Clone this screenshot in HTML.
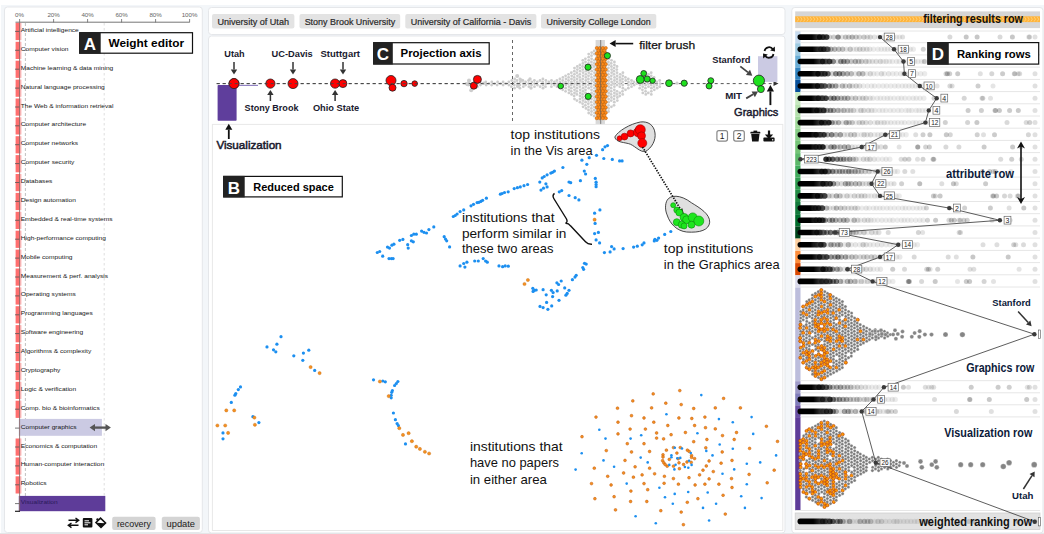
<!DOCTYPE html>
<html><head><meta charset="utf-8"><style>
html,body{margin:0;padding:0;background:#fff;}
body{width:1044px;height:534px;overflow:hidden;}
svg{display:block;font-family:"Liberation Sans", sans-serif;}
</style></head><body>
<svg width="1044" height="534" viewBox="0 0 1044 534">
<defs><linearGradient id="fade" x1="0" x2="1" y1="0" y2="0"><stop offset="0" stop-color="#000"/><stop offset="0.45" stop-color="#000"/><stop offset="1" stop-color="#000" stop-opacity="0.45"/></linearGradient><filter id="bl" x="-5%" y="-50%" width="110%" height="200%"><feGaussianBlur stdDeviation="0.75"/></filter></defs>
<rect x="0" y="0" width="1044" height="534" fill="#ffffff" />
<rect x="1" y="5" width="1043" height="529" fill="#f3f6f9" />
<rect x="4.5" y="7" width="197.8" height="525.5" fill="#fff" stroke="#e5e7ea" stroke-width="1" rx="3" />
<rect x="208.5" y="7.5" width="576.5" height="27" fill="#fff" stroke="#e5e7ea" stroke-width="1" rx="3" />
<rect x="208.5" y="36" width="576.5" height="497" fill="#fff" stroke="#e5e7ea" stroke-width="1" rx="3" />
<rect x="791.8" y="7.5" width="251.2" height="525.5" fill="#fff" stroke="#e5e7ea" stroke-width="1" rx="3" />
<rect x="0" y="533" width="1044" height="1" fill="#e4e6e8" />
<text x="19.6" y="17.2" font-size="6.2" fill="#666" text-anchor="middle" >0%</text>
<line x1="19.6" y1="19" x2="19.6" y2="22.4" stroke="#666" stroke-width="0.8" />
<text x="53.6" y="17.2" font-size="6.2" fill="#666" text-anchor="middle" >20%</text>
<line x1="53.6" y1="19" x2="53.6" y2="22.4" stroke="#666" stroke-width="0.8" />
<text x="87.6" y="17.2" font-size="6.2" fill="#666" text-anchor="middle" >40%</text>
<line x1="87.6" y1="19" x2="87.6" y2="22.4" stroke="#666" stroke-width="0.8" />
<text x="121.6" y="17.2" font-size="6.2" fill="#666" text-anchor="middle" >60%</text>
<line x1="121.6" y1="19" x2="121.6" y2="22.4" stroke="#666" stroke-width="0.8" />
<text x="155.6" y="17.2" font-size="6.2" fill="#666" text-anchor="middle" >80%</text>
<line x1="155.6" y1="19" x2="155.6" y2="22.4" stroke="#666" stroke-width="0.8" />
<text x="189.6" y="17.2" font-size="6.2" fill="#666" text-anchor="middle" >100%</text>
<line x1="189.6" y1="19" x2="189.6" y2="22.4" stroke="#666" stroke-width="0.8" />
<line x1="15.5" y1="22.2" x2="189.6" y2="22.2" stroke="#666" stroke-width="0.9" />
<line x1="25.4" y1="23" x2="25.4" y2="511" stroke="#b0b0b0" stroke-width="0.8" stroke-dasharray="3,2"/>
<line x1="104.2" y1="23" x2="104.2" y2="511" stroke="#d6d6d6" stroke-width="0.8" stroke-dasharray="2.5,2.5"/>
<rect x="15.6" y="22.9" width="4.6" height="17.2" fill="#ff6f6f" />
<rect x="20.2" y="22.9" width="1.2" height="17.2" fill="#ffb0b0" />
<line x1="15" y1="31.4" x2="20" y2="31.4" stroke="#555" stroke-width="0.8" />
<text x="20.8" y="31.9" font-size="6.2" fill="#161616" textLength="58" lengthAdjust="spacingAndGlyphs" >Artificial intelligence</text>
<rect x="15.6" y="41.8" width="4.6" height="17.2" fill="#ff6f6f" />
<rect x="20.2" y="41.8" width="1.2" height="17.2" fill="#ffb0b0" />
<line x1="15" y1="50.3" x2="20" y2="50.3" stroke="#555" stroke-width="0.8" />
<text x="20.8" y="50.8" font-size="6.2" fill="#161616" textLength="47.7" lengthAdjust="spacingAndGlyphs" >Computer vision</text>
<rect x="15.6" y="60.7" width="4.6" height="17.2" fill="#ff6f6f" />
<rect x="20.2" y="60.7" width="1.2" height="17.2" fill="#ffb0b0" />
<line x1="15" y1="69.2" x2="20" y2="69.2" stroke="#555" stroke-width="0.8" />
<text x="20.8" y="69.7" font-size="6.2" fill="#161616" textLength="92.5" lengthAdjust="spacingAndGlyphs" >Machine learning &amp; data mining</text>
<rect x="15.6" y="79.6" width="4.6" height="17.2" fill="#ff6f6f" />
<rect x="20.2" y="79.6" width="1.2" height="17.2" fill="#ffb0b0" />
<line x1="15" y1="88.1" x2="20" y2="88.1" stroke="#555" stroke-width="0.8" />
<text x="20.8" y="88.6" font-size="6.2" fill="#161616" textLength="84" lengthAdjust="spacingAndGlyphs" >Natural language processing</text>
<rect x="15.6" y="98.5" width="4.6" height="17.2" fill="#ff6f6f" />
<rect x="20.2" y="98.5" width="1.2" height="17.2" fill="#ffb0b0" />
<line x1="15" y1="107" x2="20" y2="107" stroke="#555" stroke-width="0.8" />
<text x="20.8" y="107.5" font-size="6.2" fill="#161616" textLength="92.7" lengthAdjust="spacingAndGlyphs" >The Web &amp; information retrieval</text>
<rect x="15.6" y="117.3" width="4.6" height="17.2" fill="#ff6f6f" />
<rect x="20.2" y="117.3" width="1.2" height="17.2" fill="#ffb0b0" />
<line x1="15" y1="125.8" x2="20" y2="125.8" stroke="#555" stroke-width="0.8" />
<text x="20.8" y="126.3" font-size="6.2" fill="#161616" textLength="65.3" lengthAdjust="spacingAndGlyphs" >Computer architecture</text>
<rect x="15.6" y="136.2" width="4.6" height="17.2" fill="#ff6f6f" />
<rect x="20.2" y="136.2" width="1.2" height="17.2" fill="#ffb0b0" />
<line x1="15" y1="144.7" x2="20" y2="144.7" stroke="#555" stroke-width="0.8" />
<text x="20.8" y="145.2" font-size="6.2" fill="#161616" textLength="57.2" lengthAdjust="spacingAndGlyphs" >Computer networks</text>
<rect x="15.6" y="155.1" width="4.6" height="17.2" fill="#ff6f6f" />
<rect x="20.2" y="155.1" width="1.2" height="17.2" fill="#ffb0b0" />
<line x1="15" y1="163.6" x2="20" y2="163.6" stroke="#555" stroke-width="0.8" />
<text x="20.8" y="164.1" font-size="6.2" fill="#161616" textLength="53.6" lengthAdjust="spacingAndGlyphs" >Computer security</text>
<rect x="15.6" y="174" width="4.6" height="17.2" fill="#ff6f6f" />
<rect x="20.2" y="174" width="1.2" height="17.2" fill="#ffb0b0" />
<line x1="15" y1="182.5" x2="20" y2="182.5" stroke="#555" stroke-width="0.8" />
<text x="20.8" y="183" font-size="6.2" fill="#161616" textLength="31.6" lengthAdjust="spacingAndGlyphs" >Databases</text>
<rect x="15.6" y="192.9" width="4.6" height="17.2" fill="#ff6f6f" />
<rect x="20.2" y="192.9" width="1.2" height="17.2" fill="#ffb0b0" />
<line x1="15" y1="201.4" x2="20" y2="201.4" stroke="#555" stroke-width="0.8" />
<text x="20.8" y="201.9" font-size="6.2" fill="#161616" textLength="55" lengthAdjust="spacingAndGlyphs" >Design automation</text>
<rect x="15.6" y="211.8" width="4.6" height="17.2" fill="#ff6f6f" />
<rect x="20.2" y="211.8" width="1.2" height="17.2" fill="#ffb0b0" />
<line x1="15" y1="220.3" x2="20" y2="220.3" stroke="#555" stroke-width="0.8" />
<text x="20.8" y="220.8" font-size="6.2" fill="#161616" textLength="91.7" lengthAdjust="spacingAndGlyphs" >Embedded &amp; real-time systems</text>
<rect x="15.6" y="230.7" width="4.6" height="17.2" fill="#ff6f6f" />
<rect x="20.2" y="230.7" width="1.2" height="17.2" fill="#ffb0b0" />
<line x1="15" y1="239.2" x2="20" y2="239.2" stroke="#555" stroke-width="0.8" />
<text x="20.8" y="239.7" font-size="6.2" fill="#161616" textLength="85.1" lengthAdjust="spacingAndGlyphs" >High-performance computing</text>
<rect x="15.6" y="249.6" width="4.6" height="17.2" fill="#ff6f6f" />
<rect x="20.2" y="249.6" width="1.2" height="17.2" fill="#ffb0b0" />
<line x1="15" y1="258.1" x2="20" y2="258.1" stroke="#555" stroke-width="0.8" />
<text x="20.8" y="258.6" font-size="6.2" fill="#161616" textLength="51.7" lengthAdjust="spacingAndGlyphs" >Mobile computing</text>
<rect x="15.6" y="268.5" width="4.6" height="17.2" fill="#ff6f6f" />
<rect x="20.2" y="268.5" width="1.2" height="17.2" fill="#ffb0b0" />
<line x1="15" y1="277" x2="20" y2="277" stroke="#555" stroke-width="0.8" />
<text x="20.8" y="277.5" font-size="6.2" fill="#161616" textLength="87.3" lengthAdjust="spacingAndGlyphs" >Measurement &amp; perf. analysis</text>
<rect x="15.6" y="287.4" width="4.6" height="17.2" fill="#ff6f6f" />
<rect x="20.2" y="287.4" width="1.2" height="17.2" fill="#ffb0b0" />
<line x1="15" y1="295.9" x2="20" y2="295.9" stroke="#555" stroke-width="0.8" />
<text x="20.8" y="296.4" font-size="6.2" fill="#161616" textLength="55" lengthAdjust="spacingAndGlyphs" >Operating systems</text>
<rect x="15.6" y="306.2" width="4.6" height="17.2" fill="#ff6f6f" />
<rect x="20.2" y="306.2" width="1.2" height="17.2" fill="#ffb0b0" />
<line x1="15" y1="314.8" x2="20" y2="314.8" stroke="#555" stroke-width="0.8" />
<text x="20.8" y="315.2" font-size="6.2" fill="#161616" textLength="71.9" lengthAdjust="spacingAndGlyphs" >Programming languages</text>
<rect x="15.6" y="325.1" width="4.6" height="17.2" fill="#ff6f6f" />
<rect x="20.2" y="325.1" width="1.2" height="17.2" fill="#ffb0b0" />
<line x1="15" y1="333.6" x2="20" y2="333.6" stroke="#555" stroke-width="0.8" />
<text x="20.8" y="334.1" font-size="6.2" fill="#161616" textLength="62.4" lengthAdjust="spacingAndGlyphs" >Software engineering</text>
<rect x="15.6" y="344" width="4.6" height="17.2" fill="#ff6f6f" />
<rect x="20.2" y="344" width="1.2" height="17.2" fill="#ffb0b0" />
<line x1="15" y1="352.5" x2="20" y2="352.5" stroke="#555" stroke-width="0.8" />
<text x="20.8" y="353" font-size="6.2" fill="#161616" textLength="70.4" lengthAdjust="spacingAndGlyphs" >Algorithms &amp; complexity</text>
<rect x="15.6" y="362.9" width="4.6" height="17.2" fill="#ff6f6f" />
<rect x="20.2" y="362.9" width="1.2" height="17.2" fill="#ffb0b0" />
<line x1="15" y1="371.4" x2="20" y2="371.4" stroke="#555" stroke-width="0.8" />
<text x="20.8" y="371.9" font-size="6.2" fill="#161616" textLength="39.6" lengthAdjust="spacingAndGlyphs" >Cryptography</text>
<rect x="15.6" y="381.8" width="4.6" height="17.2" fill="#ff6f6f" />
<rect x="20.2" y="381.8" width="1.2" height="17.2" fill="#ffb0b0" />
<line x1="15" y1="390.3" x2="20" y2="390.3" stroke="#555" stroke-width="0.8" />
<text x="20.8" y="390.8" font-size="6.2" fill="#161616" textLength="55.4" lengthAdjust="spacingAndGlyphs" >Logic &amp; verification</text>
<rect x="15.6" y="400.7" width="4.6" height="17.2" fill="#ff6f6f" />
<rect x="20.2" y="400.7" width="1.2" height="17.2" fill="#ffb0b0" />
<line x1="15" y1="409.2" x2="20" y2="409.2" stroke="#555" stroke-width="0.8" />
<text x="20.8" y="409.7" font-size="6.2" fill="#161616" textLength="78.9" lengthAdjust="spacingAndGlyphs" >Comp. bio &amp; bioinformatics</text>
<rect x="18.8" y="418.9" width="83.1" height="16.9" fill="#cbcae3" />
<line x1="15" y1="428.1" x2="20" y2="428.1" stroke="#555" stroke-width="0.8" />
<text x="20.8" y="428.6" font-size="6.2" fill="#161616" textLength="55.8" lengthAdjust="spacingAndGlyphs" >Computer graphics</text>
<rect x="15.6" y="438.5" width="4.6" height="17.2" fill="#ff6f6f" />
<rect x="20.2" y="438.5" width="1.2" height="17.2" fill="#ffb0b0" />
<line x1="15" y1="447" x2="20" y2="447" stroke="#555" stroke-width="0.8" />
<text x="20.8" y="447.5" font-size="6.2" fill="#161616" textLength="76.3" lengthAdjust="spacingAndGlyphs" >Economics &amp; computation</text>
<rect x="15.6" y="457.4" width="4.6" height="17.2" fill="#ff6f6f" />
<rect x="20.2" y="457.4" width="1.2" height="17.2" fill="#ffb0b0" />
<line x1="15" y1="465.9" x2="20" y2="465.9" stroke="#555" stroke-width="0.8" />
<text x="20.8" y="466.4" font-size="6.2" fill="#161616" textLength="83.3" lengthAdjust="spacingAndGlyphs" >Human-computer interaction</text>
<rect x="15.6" y="476.3" width="4.6" height="17.2" fill="#ff6f6f" />
<rect x="20.2" y="476.3" width="1.2" height="17.2" fill="#ffb0b0" />
<line x1="15" y1="484.8" x2="20" y2="484.8" stroke="#555" stroke-width="0.8" />
<text x="20.8" y="485.3" font-size="6.2" fill="#161616" textLength="25.7" lengthAdjust="spacingAndGlyphs" >Robotics</text>
<rect x="18.8" y="495.9" width="86.5" height="15.3" fill="#5e3c99" />
<line x1="15" y1="503.6" x2="20" y2="503.6" stroke="#555" stroke-width="0.8" />
<text x="20.8" y="504.1" font-size="6.2" fill="#2a1a5a" textLength="36.9" lengthAdjust="spacingAndGlyphs" >Visualization</text>
<line x1="19.6" y1="22.2" x2="19.6" y2="511.2" stroke="#8a6a6a" stroke-width="0.9" />
<line x1="15" y1="511.3" x2="20" y2="511.3" stroke="#222" stroke-width="1.2" />
<line x1="93" y1="427.6" x2="107.5" y2="427.6" stroke="#555" stroke-width="2.3" />
<polygon points="89.6,427.6 95,424 95,431.2" fill="#555"/>
<polygon points="110.9,427.6 105.5,424 105.5,431.2" fill="#555"/>
<path d="M68.5,520.3 L78.5,520.3 M75.5,518 L78.7,520.3 L75.5,522.6 M78.5,525.3 L68.5,525.3 M71.5,523 L68.3,525.3 L71.5,527.6" fill="none" stroke="#111" stroke-width="1.4" />
<rect x="82.8" y="518" width="9.6" height="9.4" fill="#111" rx="1" />
<rect x="84.5" y="520.3" width="4.5" height="1" fill="#fff" />
<rect x="84.5" y="522.3" width="6" height="1" fill="#fff" />
<rect x="84.5" y="524.3" width="3.5" height="1" fill="#fff" />
<path d="M96,522.5 L100.5,518.2 L105.5,523 L101,527.3 Z" fill="#fff" stroke="#111" stroke-width="1.6" />
<path d="M96.5,522.8 L105,523.2 L101,527 Z" fill="#111" stroke="none" stroke-width="0" />
<circle cx="97.5" cy="519.5" r="1.2" fill="#111"/>
<rect x="112.2" y="516.7" width="43.4" height="13.4" fill="#d4d4d4" rx="2" />
<text x="133.9" y="526.6" font-size="8.6" fill="#1a1a1a" text-anchor="middle" textLength="34" lengthAdjust="spacingAndGlyphs" >recovery</text>
<rect x="161.8" y="516.7" width="38.1" height="13.4" fill="#d4d4d4" rx="2" />
<text x="180.8" y="526.6" font-size="8.6" fill="#1a1a1a" text-anchor="middle" textLength="28.5" lengthAdjust="spacingAndGlyphs" >update</text>
<rect x="79.7" y="32.7" width="112.8" height="20.5" fill="#fff" stroke="#111" stroke-width="1.2" />
<rect x="79.2" y="32.2" width="21.5" height="21.5" fill="#222" />
<text x="90" y="50.3" font-size="17" fill="#fff" font-weight="bold" text-anchor="middle" >A</text>
<text x="108.5" y="47.3" font-size="11.5" fill="#000" font-weight="bold" textLength="75.5" lengthAdjust="spacingAndGlyphs" >Weight editor</text>
<rect x="212" y="14" width="82.4" height="14.6" fill="#e3e3e3" rx="2" />
<text x="253.2" y="24.5" font-size="9" fill="#2a2a2a" text-anchor="middle" textLength="71.6" lengthAdjust="spacingAndGlyphs" stroke="#2a2a2a" stroke-width="0.2">University of Utah</text>
<rect x="299.5" y="14" width="100.7" height="14.6" fill="#e3e3e3" rx="2" />
<text x="349.9" y="24.5" font-size="9" fill="#2a2a2a" text-anchor="middle" textLength="90.5" lengthAdjust="spacingAndGlyphs" stroke="#2a2a2a" stroke-width="0.2">Stony Brook University</text>
<rect x="405.3" y="14" width="131.1" height="14.6" fill="#e3e3e3" rx="2" />
<text x="470.9" y="24.5" font-size="9" fill="#2a2a2a" text-anchor="middle" textLength="120.5" lengthAdjust="spacingAndGlyphs" stroke="#2a2a2a" stroke-width="0.2">University of California - Davis</text>
<rect x="541" y="14" width="115.3" height="14.6" fill="#e3e3e3" rx="2" />
<text x="598.6" y="24.5" font-size="9" fill="#2a2a2a" text-anchor="middle" textLength="104" lengthAdjust="spacingAndGlyphs" stroke="#2a2a2a" stroke-width="0.2">University College London</text>
<line x1="216.7" y1="83.6" x2="774" y2="83.6" stroke="#444" stroke-width="0.9" stroke-dasharray="3,3"/>
<polygon points="778.5,83.6 773.5,81.19999999999999 773.5,86.0" fill="#333"/>
<line x1="512.5" y1="40" x2="512.5" y2="124" stroke="#555" stroke-width="0.9" stroke-dasharray="3,3"/>
<circle cx="466" cy="83.6" r="1.4" fill="#cdcdcd"/>
<circle cx="468.9" cy="82" r="1.4" fill="#cdcdcd"/>
<circle cx="468.6" cy="85.1" r="1.4" fill="#cdcdcd"/>
<circle cx="471.9" cy="83.6" r="1.4" fill="#cdcdcd"/>
<circle cx="474.4" cy="82" r="1.4" fill="#cdcdcd"/>
<circle cx="477.6" cy="80.5" r="1.4" fill="#cdcdcd"/>
<circle cx="477.5" cy="83.6" r="1.4" fill="#cdcdcd"/>
<circle cx="477.5" cy="86.7" r="1.4" fill="#cdcdcd"/>
<circle cx="480.3" cy="82" r="1.4" fill="#cdcdcd"/>
<circle cx="480.4" cy="85.1" r="1.4" fill="#cdcdcd"/>
<circle cx="483.3" cy="83.6" r="1.4" fill="#cdcdcd"/>
<circle cx="485.8" cy="82" r="1.4" fill="#cdcdcd"/>
<circle cx="486.2" cy="85.1" r="1.4" fill="#cdcdcd"/>
<circle cx="488.9" cy="83.6" r="1.4" fill="#cdcdcd"/>
<circle cx="491.8" cy="82" r="1.4" fill="#cdcdcd"/>
<circle cx="491.6" cy="85.1" r="1.4" fill="#cdcdcd"/>
<circle cx="494.5" cy="83.6" r="1.4" fill="#cdcdcd"/>
<circle cx="497.6" cy="82" r="1.4" fill="#cdcdcd"/>
<circle cx="497.1" cy="85.1" r="1.4" fill="#cdcdcd"/>
<circle cx="500.5" cy="83.6" r="1.4" fill="#cdcdcd"/>
<circle cx="503.1" cy="82" r="1.4" fill="#cdcdcd"/>
<circle cx="503.1" cy="85.1" r="1.4" fill="#cdcdcd"/>
<circle cx="505.8" cy="83.6" r="1.4" fill="#cdcdcd"/>
<circle cx="508.8" cy="82" r="1.4" fill="#cdcdcd"/>
<circle cx="508.9" cy="85.1" r="1.4" fill="#cdcdcd"/>
<circle cx="511.8" cy="80.5" r="1.4" fill="#cdcdcd"/>
<circle cx="511.4" cy="86.7" r="1.4" fill="#cdcdcd"/>
<circle cx="514.7" cy="78.9" r="1.4" fill="#cdcdcd"/>
<circle cx="514.5" cy="82" r="1.4" fill="#cdcdcd"/>
<circle cx="514.3" cy="85.1" r="1.4" fill="#cdcdcd"/>
<circle cx="514.5" cy="88.2" r="1.4" fill="#cdcdcd"/>
<circle cx="517" cy="80.5" r="1.4" fill="#cdcdcd"/>
<circle cx="517.6" cy="83.6" r="1.4" fill="#cdcdcd"/>
<circle cx="517.5" cy="86.7" r="1.4" fill="#cdcdcd"/>
<circle cx="519.9" cy="78.9" r="1.4" fill="#cdcdcd"/>
<circle cx="520.3" cy="82" r="1.4" fill="#cdcdcd"/>
<circle cx="519.9" cy="85.1" r="1.4" fill="#cdcdcd"/>
<circle cx="519.9" cy="88.2" r="1.4" fill="#cdcdcd"/>
<circle cx="522.9" cy="80.5" r="1.4" fill="#cdcdcd"/>
<circle cx="523.3" cy="83.6" r="1.4" fill="#cdcdcd"/>
<circle cx="523.3" cy="86.7" r="1.4" fill="#cdcdcd"/>
<circle cx="525.6" cy="82" r="1.4" fill="#cdcdcd"/>
<circle cx="525.6" cy="85.1" r="1.4" fill="#cdcdcd"/>
<circle cx="528.6" cy="80.5" r="1.4" fill="#cdcdcd"/>
<circle cx="528.5" cy="83.6" r="1.4" fill="#cdcdcd"/>
<circle cx="528.9" cy="86.7" r="1.4" fill="#cdcdcd"/>
<circle cx="531.8" cy="82" r="1.4" fill="#cdcdcd"/>
<circle cx="531.5" cy="85.1" r="1.4" fill="#cdcdcd"/>
<circle cx="534.4" cy="80.5" r="1.4" fill="#cdcdcd"/>
<circle cx="534.5" cy="83.6" r="1.4" fill="#cdcdcd"/>
<circle cx="534.5" cy="86.7" r="1.4" fill="#cdcdcd"/>
<circle cx="537.3" cy="82" r="1.4" fill="#cdcdcd"/>
<circle cx="537.4" cy="85.1" r="1.4" fill="#cdcdcd"/>
<circle cx="540" cy="80.5" r="1.4" fill="#cdcdcd"/>
<circle cx="540.1" cy="86.7" r="1.4" fill="#cdcdcd"/>
<circle cx="542.9" cy="78.9" r="1.4" fill="#cdcdcd"/>
<circle cx="542.7" cy="82" r="1.4" fill="#cdcdcd"/>
<circle cx="543" cy="85.1" r="1.4" fill="#cdcdcd"/>
<circle cx="543" cy="88.2" r="1.4" fill="#cdcdcd"/>
<circle cx="545.9" cy="80.5" r="1.4" fill="#cdcdcd"/>
<circle cx="545.9" cy="83.6" r="1.4" fill="#cdcdcd"/>
<circle cx="545.5" cy="86.7" r="1.4" fill="#cdcdcd"/>
<circle cx="548.8" cy="82" r="1.4" fill="#cdcdcd"/>
<circle cx="551.5" cy="80.5" r="1.4" fill="#cdcdcd"/>
<circle cx="551.4" cy="83.6" r="1.4" fill="#cdcdcd"/>
<circle cx="551.4" cy="86.7" r="1.4" fill="#cdcdcd"/>
<circle cx="554.4" cy="82" r="1.4" fill="#cdcdcd"/>
<circle cx="554.3" cy="85.1" r="1.4" fill="#cdcdcd"/>
<circle cx="556.9" cy="80.5" r="1.4" fill="#cdcdcd"/>
<circle cx="557.3" cy="83.6" r="1.4" fill="#cdcdcd"/>
<circle cx="557" cy="86.7" r="1.4" fill="#cdcdcd"/>
<circle cx="559.9" cy="78.9" r="1.4" fill="#cdcdcd"/>
<circle cx="560" cy="82" r="1.4" fill="#cdcdcd"/>
<circle cx="559.8" cy="85.1" r="1.4" fill="#cdcdcd"/>
<circle cx="560" cy="88.2" r="1.4" fill="#cdcdcd"/>
<circle cx="562.9" cy="77.4" r="1.4" fill="#cdcdcd"/>
<circle cx="562.7" cy="80.5" r="1.4" fill="#cdcdcd"/>
<circle cx="563" cy="83.6" r="1.4" fill="#cdcdcd"/>
<circle cx="562.9" cy="86.7" r="1.4" fill="#cdcdcd"/>
<circle cx="562.7" cy="89.8" r="1.4" fill="#cdcdcd"/>
<circle cx="565.6" cy="75.8" r="1.4" fill="#cdcdcd"/>
<circle cx="566" cy="78.9" r="1.4" fill="#cdcdcd"/>
<circle cx="565.6" cy="82" r="1.4" fill="#cdcdcd"/>
<circle cx="565.8" cy="85.1" r="1.4" fill="#cdcdcd"/>
<circle cx="565.7" cy="88.2" r="1.4" fill="#cdcdcd"/>
<circle cx="565.6" cy="91.3" r="1.4" fill="#cdcdcd"/>
<circle cx="568.5" cy="74.3" r="1.4" fill="#cdcdcd"/>
<circle cx="568.6" cy="77.4" r="1.4" fill="#cdcdcd"/>
<circle cx="568.5" cy="80.5" r="1.4" fill="#cdcdcd"/>
<circle cx="568.4" cy="83.6" r="1.4" fill="#cdcdcd"/>
<circle cx="568.9" cy="86.7" r="1.4" fill="#cdcdcd"/>
<circle cx="568.9" cy="89.8" r="1.4" fill="#cdcdcd"/>
<circle cx="568.9" cy="92.9" r="1.4" fill="#cdcdcd"/>
<circle cx="571.3" cy="72.7" r="1.4" fill="#cdcdcd"/>
<circle cx="571.7" cy="75.8" r="1.4" fill="#cdcdcd"/>
<circle cx="571.5" cy="78.9" r="1.4" fill="#cdcdcd"/>
<circle cx="571.4" cy="82" r="1.4" fill="#cdcdcd"/>
<circle cx="571.2" cy="85.1" r="1.4" fill="#cdcdcd"/>
<circle cx="571.3" cy="88.2" r="1.4" fill="#cdcdcd"/>
<circle cx="571.2" cy="91.3" r="1.4" fill="#cdcdcd"/>
<circle cx="571.6" cy="94.4" r="1.4" fill="#cdcdcd"/>
<circle cx="574.5" cy="68.1" r="1.4" fill="#cdcdcd"/>
<circle cx="574.3" cy="71.2" r="1.4" fill="#cdcdcd"/>
<circle cx="574.4" cy="74.3" r="1.4" fill="#cdcdcd"/>
<circle cx="574.2" cy="77.4" r="1.4" fill="#cdcdcd"/>
<circle cx="574.3" cy="80.5" r="1.4" fill="#cdcdcd"/>
<circle cx="574.6" cy="83.6" r="1.4" fill="#cdcdcd"/>
<circle cx="574.2" cy="86.7" r="1.4" fill="#cdcdcd"/>
<circle cx="574.5" cy="89.8" r="1.4" fill="#cdcdcd"/>
<circle cx="574.5" cy="92.9" r="1.4" fill="#cdcdcd"/>
<circle cx="574.1" cy="96" r="1.4" fill="#cdcdcd"/>
<circle cx="574.5" cy="99.1" r="1.4" fill="#cdcdcd"/>
<circle cx="577.3" cy="66.5" r="1.4" fill="#cdcdcd"/>
<circle cx="577.3" cy="69.6" r="1.4" fill="#cdcdcd"/>
<circle cx="576.9" cy="72.7" r="1.4" fill="#cdcdcd"/>
<circle cx="577.4" cy="75.8" r="1.4" fill="#cdcdcd"/>
<circle cx="577" cy="78.9" r="1.4" fill="#cdcdcd"/>
<circle cx="577.2" cy="82" r="1.4" fill="#cdcdcd"/>
<circle cx="577.1" cy="85.1" r="1.4" fill="#cdcdcd"/>
<circle cx="576.9" cy="88.2" r="1.4" fill="#cdcdcd"/>
<circle cx="576.9" cy="91.3" r="1.4" fill="#cdcdcd"/>
<circle cx="576.9" cy="94.4" r="1.4" fill="#cdcdcd"/>
<circle cx="576.9" cy="100.6" r="1.4" fill="#cdcdcd"/>
<circle cx="579.9" cy="65" r="1.4" fill="#cdcdcd"/>
<circle cx="579.9" cy="68.1" r="1.4" fill="#cdcdcd"/>
<circle cx="580.1" cy="71.2" r="1.4" fill="#cdcdcd"/>
<circle cx="579.8" cy="74.3" r="1.4" fill="#cdcdcd"/>
<circle cx="579.8" cy="77.4" r="1.4" fill="#cdcdcd"/>
<circle cx="580.1" cy="80.5" r="1.4" fill="#cdcdcd"/>
<circle cx="579.7" cy="83.6" r="1.4" fill="#cdcdcd"/>
<circle cx="579.9" cy="86.7" r="1.4" fill="#cdcdcd"/>
<circle cx="580.2" cy="89.8" r="1.4" fill="#cdcdcd"/>
<circle cx="580.2" cy="92.9" r="1.4" fill="#cdcdcd"/>
<circle cx="580" cy="96" r="1.4" fill="#cdcdcd"/>
<circle cx="580" cy="99.1" r="1.4" fill="#cdcdcd"/>
<circle cx="580" cy="102.2" r="1.4" fill="#cdcdcd"/>
<circle cx="582.8" cy="60.3" r="1.4" fill="#cdcdcd"/>
<circle cx="582.9" cy="63.4" r="1.4" fill="#cdcdcd"/>
<circle cx="582.6" cy="66.5" r="1.4" fill="#cdcdcd"/>
<circle cx="582.8" cy="69.6" r="1.4" fill="#cdcdcd"/>
<circle cx="583.1" cy="72.7" r="1.4" fill="#cdcdcd"/>
<circle cx="583.1" cy="75.8" r="1.4" fill="#cdcdcd"/>
<circle cx="582.7" cy="78.9" r="1.4" fill="#cdcdcd"/>
<circle cx="582.6" cy="82" r="1.4" fill="#cdcdcd"/>
<circle cx="582.9" cy="85.1" r="1.4" fill="#cdcdcd"/>
<circle cx="583" cy="88.2" r="1.4" fill="#cdcdcd"/>
<circle cx="583" cy="91.3" r="1.4" fill="#cdcdcd"/>
<circle cx="582.6" cy="94.4" r="1.4" fill="#cdcdcd"/>
<circle cx="582.6" cy="97.5" r="1.4" fill="#cdcdcd"/>
<circle cx="583" cy="100.6" r="1.4" fill="#cdcdcd"/>
<circle cx="582.6" cy="103.7" r="1.4" fill="#cdcdcd"/>
<circle cx="583.1" cy="106.8" r="1.4" fill="#cdcdcd"/>
<circle cx="585.4" cy="58.8" r="1.4" fill="#cdcdcd"/>
<circle cx="585.5" cy="61.9" r="1.4" fill="#cdcdcd"/>
<circle cx="585.8" cy="65" r="1.4" fill="#cdcdcd"/>
<circle cx="586" cy="68.1" r="1.4" fill="#cdcdcd"/>
<circle cx="585.9" cy="71.2" r="1.4" fill="#cdcdcd"/>
<circle cx="585.9" cy="74.3" r="1.4" fill="#cdcdcd"/>
<circle cx="585.8" cy="77.4" r="1.4" fill="#cdcdcd"/>
<circle cx="585.8" cy="80.5" r="1.4" fill="#cdcdcd"/>
<circle cx="585.4" cy="83.6" r="1.4" fill="#cdcdcd"/>
<circle cx="585.7" cy="86.7" r="1.4" fill="#cdcdcd"/>
<circle cx="585.5" cy="89.8" r="1.4" fill="#cdcdcd"/>
<circle cx="585.5" cy="92.9" r="1.4" fill="#cdcdcd"/>
<circle cx="585.9" cy="96" r="1.4" fill="#cdcdcd"/>
<circle cx="585.6" cy="99.1" r="1.4" fill="#cdcdcd"/>
<circle cx="585.6" cy="102.2" r="1.4" fill="#cdcdcd"/>
<circle cx="585.4" cy="105.3" r="1.4" fill="#cdcdcd"/>
<circle cx="586" cy="108.4" r="1.4" fill="#cdcdcd"/>
<circle cx="588.7" cy="54.1" r="1.4" fill="#cdcdcd"/>
<circle cx="588.7" cy="57.2" r="1.4" fill="#cdcdcd"/>
<circle cx="588.7" cy="60.3" r="1.4" fill="#cdcdcd"/>
<circle cx="588.5" cy="63.4" r="1.4" fill="#cdcdcd"/>
<circle cx="588.8" cy="66.5" r="1.4" fill="#cdcdcd"/>
<circle cx="588.3" cy="69.6" r="1.4" fill="#cdcdcd"/>
<circle cx="588.8" cy="72.7" r="1.4" fill="#cdcdcd"/>
<circle cx="588.5" cy="75.8" r="1.4" fill="#cdcdcd"/>
<circle cx="588.4" cy="78.9" r="1.4" fill="#cdcdcd"/>
<circle cx="588.4" cy="82" r="1.4" fill="#cdcdcd"/>
<circle cx="588.4" cy="85.1" r="1.4" fill="#cdcdcd"/>
<circle cx="588.7" cy="88.2" r="1.4" fill="#cdcdcd"/>
<circle cx="588.7" cy="94.4" r="1.4" fill="#cdcdcd"/>
<circle cx="588.8" cy="97.5" r="1.4" fill="#cdcdcd"/>
<circle cx="588.4" cy="100.6" r="1.4" fill="#cdcdcd"/>
<circle cx="588.3" cy="103.7" r="1.4" fill="#cdcdcd"/>
<circle cx="588.5" cy="106.8" r="1.4" fill="#cdcdcd"/>
<circle cx="588.5" cy="109.9" r="1.4" fill="#cdcdcd"/>
<circle cx="588.7" cy="113" r="1.4" fill="#cdcdcd"/>
<circle cx="591.7" cy="52.6" r="1.4" fill="#cdcdcd"/>
<circle cx="591.5" cy="55.7" r="1.4" fill="#cdcdcd"/>
<circle cx="591.6" cy="58.8" r="1.4" fill="#cdcdcd"/>
<circle cx="591.4" cy="61.9" r="1.4" fill="#cdcdcd"/>
<circle cx="591.5" cy="65" r="1.4" fill="#cdcdcd"/>
<circle cx="591.3" cy="68.1" r="1.4" fill="#cdcdcd"/>
<circle cx="591.7" cy="71.2" r="1.4" fill="#cdcdcd"/>
<circle cx="591.2" cy="74.3" r="1.4" fill="#cdcdcd"/>
<circle cx="591.5" cy="77.4" r="1.4" fill="#cdcdcd"/>
<circle cx="591.7" cy="80.5" r="1.4" fill="#cdcdcd"/>
<circle cx="591.2" cy="83.6" r="1.4" fill="#cdcdcd"/>
<circle cx="591.3" cy="86.7" r="1.4" fill="#cdcdcd"/>
<circle cx="591.5" cy="89.8" r="1.4" fill="#cdcdcd"/>
<circle cx="591.6" cy="92.9" r="1.4" fill="#cdcdcd"/>
<circle cx="591.6" cy="96" r="1.4" fill="#cdcdcd"/>
<circle cx="591.4" cy="99.1" r="1.4" fill="#cdcdcd"/>
<circle cx="591.2" cy="102.2" r="1.4" fill="#cdcdcd"/>
<circle cx="591.6" cy="105.3" r="1.4" fill="#cdcdcd"/>
<circle cx="591.3" cy="108.4" r="1.4" fill="#cdcdcd"/>
<circle cx="591.5" cy="111.5" r="1.4" fill="#cdcdcd"/>
<circle cx="591.3" cy="114.6" r="1.4" fill="#cdcdcd"/>
<circle cx="594.2" cy="51" r="1.4" fill="#cdcdcd"/>
<circle cx="594.3" cy="54.1" r="1.4" fill="#cdcdcd"/>
<circle cx="594.3" cy="60.3" r="1.4" fill="#cdcdcd"/>
<circle cx="594.1" cy="63.4" r="1.4" fill="#cdcdcd"/>
<circle cx="594" cy="66.5" r="1.4" fill="#cdcdcd"/>
<circle cx="594.5" cy="69.6" r="1.4" fill="#cdcdcd"/>
<circle cx="594.5" cy="72.7" r="1.4" fill="#cdcdcd"/>
<circle cx="594.4" cy="75.8" r="1.4" fill="#cdcdcd"/>
<circle cx="594.1" cy="78.9" r="1.4" fill="#cdcdcd"/>
<circle cx="594.3" cy="82" r="1.4" fill="#cdcdcd"/>
<circle cx="594.1" cy="85.1" r="1.4" fill="#cdcdcd"/>
<circle cx="594.5" cy="88.2" r="1.4" fill="#cdcdcd"/>
<circle cx="594.3" cy="91.3" r="1.4" fill="#cdcdcd"/>
<circle cx="594.2" cy="94.4" r="1.4" fill="#cdcdcd"/>
<circle cx="594.4" cy="97.5" r="1.4" fill="#cdcdcd"/>
<circle cx="594.3" cy="100.6" r="1.4" fill="#cdcdcd"/>
<circle cx="594.3" cy="103.7" r="1.4" fill="#cdcdcd"/>
<circle cx="594.1" cy="106.8" r="1.4" fill="#cdcdcd"/>
<circle cx="594.3" cy="109.9" r="1.4" fill="#cdcdcd"/>
<circle cx="594.5" cy="113" r="1.4" fill="#cdcdcd"/>
<circle cx="594.1" cy="116.1" r="1.4" fill="#cdcdcd"/>
<circle cx="597.2" cy="49.5" r="1.4" fill="#cdcdcd"/>
<circle cx="597.2" cy="52.6" r="1.4" fill="#cdcdcd"/>
<circle cx="597" cy="55.7" r="1.4" fill="#cdcdcd"/>
<circle cx="596.8" cy="58.8" r="1.4" fill="#cdcdcd"/>
<circle cx="597.3" cy="61.9" r="1.4" fill="#cdcdcd"/>
<circle cx="597.2" cy="65" r="1.4" fill="#cdcdcd"/>
<circle cx="597" cy="68.1" r="1.4" fill="#cdcdcd"/>
<circle cx="597.3" cy="71.2" r="1.4" fill="#cdcdcd"/>
<circle cx="597.1" cy="74.3" r="1.4" fill="#cdcdcd"/>
<circle cx="597.3" cy="77.4" r="1.4" fill="#cdcdcd"/>
<circle cx="597" cy="80.5" r="1.4" fill="#cdcdcd"/>
<circle cx="597.1" cy="83.6" r="1.4" fill="#cdcdcd"/>
<circle cx="597" cy="86.7" r="1.4" fill="#cdcdcd"/>
<circle cx="596.9" cy="89.8" r="1.4" fill="#cdcdcd"/>
<circle cx="596.9" cy="92.9" r="1.4" fill="#cdcdcd"/>
<circle cx="597.3" cy="96" r="1.4" fill="#cdcdcd"/>
<circle cx="596.9" cy="99.1" r="1.4" fill="#cdcdcd"/>
<circle cx="597" cy="102.2" r="1.4" fill="#cdcdcd"/>
<circle cx="597.3" cy="105.3" r="1.4" fill="#cdcdcd"/>
<circle cx="597.2" cy="108.4" r="1.4" fill="#cdcdcd"/>
<circle cx="597" cy="111.5" r="1.4" fill="#cdcdcd"/>
<circle cx="597.1" cy="114.6" r="1.4" fill="#cdcdcd"/>
<circle cx="596.9" cy="117.7" r="1.4" fill="#cdcdcd"/>
<circle cx="600.1" cy="47.9" r="1.4" fill="#cdcdcd"/>
<circle cx="600.1" cy="51" r="1.4" fill="#cdcdcd"/>
<circle cx="600.2" cy="54.1" r="1.4" fill="#cdcdcd"/>
<circle cx="600" cy="57.2" r="1.4" fill="#cdcdcd"/>
<circle cx="600" cy="60.3" r="1.4" fill="#cdcdcd"/>
<circle cx="599.8" cy="66.5" r="1.4" fill="#cdcdcd"/>
<circle cx="599.9" cy="69.6" r="1.4" fill="#cdcdcd"/>
<circle cx="600.1" cy="72.7" r="1.4" fill="#cdcdcd"/>
<circle cx="600.1" cy="75.8" r="1.4" fill="#cdcdcd"/>
<circle cx="599.9" cy="78.9" r="1.4" fill="#cdcdcd"/>
<circle cx="599.9" cy="82" r="1.4" fill="#cdcdcd"/>
<circle cx="600" cy="85.1" r="1.4" fill="#cdcdcd"/>
<circle cx="600" cy="88.2" r="1.4" fill="#cdcdcd"/>
<circle cx="599.9" cy="91.3" r="1.4" fill="#cdcdcd"/>
<circle cx="600.2" cy="94.4" r="1.4" fill="#cdcdcd"/>
<circle cx="599.7" cy="97.5" r="1.4" fill="#cdcdcd"/>
<circle cx="600" cy="100.6" r="1.4" fill="#cdcdcd"/>
<circle cx="599.9" cy="103.7" r="1.4" fill="#cdcdcd"/>
<circle cx="599.7" cy="106.8" r="1.4" fill="#cdcdcd"/>
<circle cx="600.2" cy="109.9" r="1.4" fill="#cdcdcd"/>
<circle cx="600.2" cy="113" r="1.4" fill="#cdcdcd"/>
<circle cx="599.7" cy="116.1" r="1.4" fill="#cdcdcd"/>
<circle cx="600" cy="119.2" r="1.4" fill="#cdcdcd"/>
<circle cx="602.9" cy="49.5" r="1.4" fill="#cdcdcd"/>
<circle cx="602.7" cy="52.6" r="1.4" fill="#cdcdcd"/>
<circle cx="603.1" cy="55.7" r="1.4" fill="#cdcdcd"/>
<circle cx="602.8" cy="58.8" r="1.4" fill="#cdcdcd"/>
<circle cx="602.8" cy="61.9" r="1.4" fill="#cdcdcd"/>
<circle cx="602.5" cy="65" r="1.4" fill="#cdcdcd"/>
<circle cx="602.6" cy="68.1" r="1.4" fill="#cdcdcd"/>
<circle cx="602.8" cy="71.2" r="1.4" fill="#cdcdcd"/>
<circle cx="602.8" cy="74.3" r="1.4" fill="#cdcdcd"/>
<circle cx="602.9" cy="77.4" r="1.4" fill="#cdcdcd"/>
<circle cx="602.8" cy="80.5" r="1.4" fill="#cdcdcd"/>
<circle cx="602.7" cy="83.6" r="1.4" fill="#cdcdcd"/>
<circle cx="603" cy="86.7" r="1.4" fill="#cdcdcd"/>
<circle cx="602.7" cy="89.8" r="1.4" fill="#cdcdcd"/>
<circle cx="602.8" cy="92.9" r="1.4" fill="#cdcdcd"/>
<circle cx="602.6" cy="96" r="1.4" fill="#cdcdcd"/>
<circle cx="602.6" cy="99.1" r="1.4" fill="#cdcdcd"/>
<circle cx="602.6" cy="102.2" r="1.4" fill="#cdcdcd"/>
<circle cx="602.6" cy="105.3" r="1.4" fill="#cdcdcd"/>
<circle cx="602.6" cy="108.4" r="1.4" fill="#cdcdcd"/>
<circle cx="602.6" cy="111.5" r="1.4" fill="#cdcdcd"/>
<circle cx="602.6" cy="114.6" r="1.4" fill="#cdcdcd"/>
<circle cx="602.8" cy="117.7" r="1.4" fill="#cdcdcd"/>
<circle cx="605.4" cy="51" r="1.4" fill="#cdcdcd"/>
<circle cx="605.6" cy="54.1" r="1.4" fill="#cdcdcd"/>
<circle cx="605.4" cy="57.2" r="1.4" fill="#cdcdcd"/>
<circle cx="605.6" cy="60.3" r="1.4" fill="#cdcdcd"/>
<circle cx="605.9" cy="63.4" r="1.4" fill="#cdcdcd"/>
<circle cx="605.4" cy="66.5" r="1.4" fill="#cdcdcd"/>
<circle cx="605.4" cy="69.6" r="1.4" fill="#cdcdcd"/>
<circle cx="605.6" cy="72.7" r="1.4" fill="#cdcdcd"/>
<circle cx="605.4" cy="75.8" r="1.4" fill="#cdcdcd"/>
<circle cx="605.5" cy="78.9" r="1.4" fill="#cdcdcd"/>
<circle cx="605.6" cy="82" r="1.4" fill="#cdcdcd"/>
<circle cx="605.5" cy="85.1" r="1.4" fill="#cdcdcd"/>
<circle cx="605.5" cy="88.2" r="1.4" fill="#cdcdcd"/>
<circle cx="605.7" cy="91.3" r="1.4" fill="#cdcdcd"/>
<circle cx="605.4" cy="94.4" r="1.4" fill="#cdcdcd"/>
<circle cx="605.9" cy="97.5" r="1.4" fill="#cdcdcd"/>
<circle cx="605.4" cy="100.6" r="1.4" fill="#cdcdcd"/>
<circle cx="605.4" cy="103.7" r="1.4" fill="#cdcdcd"/>
<circle cx="605.4" cy="106.8" r="1.4" fill="#cdcdcd"/>
<circle cx="605.7" cy="109.9" r="1.4" fill="#cdcdcd"/>
<circle cx="605.5" cy="113" r="1.4" fill="#cdcdcd"/>
<circle cx="608.7" cy="55.7" r="1.4" fill="#cdcdcd"/>
<circle cx="608.8" cy="58.8" r="1.4" fill="#cdcdcd"/>
<circle cx="608.4" cy="61.9" r="1.4" fill="#cdcdcd"/>
<circle cx="608.8" cy="65" r="1.4" fill="#cdcdcd"/>
<circle cx="608.4" cy="68.1" r="1.4" fill="#cdcdcd"/>
<circle cx="608.3" cy="71.2" r="1.4" fill="#cdcdcd"/>
<circle cx="608.4" cy="74.3" r="1.4" fill="#cdcdcd"/>
<circle cx="608.8" cy="77.4" r="1.4" fill="#cdcdcd"/>
<circle cx="608.6" cy="80.5" r="1.4" fill="#cdcdcd"/>
<circle cx="608.7" cy="83.6" r="1.4" fill="#cdcdcd"/>
<circle cx="608.8" cy="86.7" r="1.4" fill="#cdcdcd"/>
<circle cx="608.4" cy="89.8" r="1.4" fill="#cdcdcd"/>
<circle cx="608.7" cy="92.9" r="1.4" fill="#cdcdcd"/>
<circle cx="608.4" cy="96" r="1.4" fill="#cdcdcd"/>
<circle cx="608.6" cy="99.1" r="1.4" fill="#cdcdcd"/>
<circle cx="608.6" cy="102.2" r="1.4" fill="#cdcdcd"/>
<circle cx="608.5" cy="105.3" r="1.4" fill="#cdcdcd"/>
<circle cx="608.6" cy="108.4" r="1.4" fill="#cdcdcd"/>
<circle cx="608.5" cy="111.5" r="1.4" fill="#cdcdcd"/>
<circle cx="611.5" cy="60.3" r="1.4" fill="#cdcdcd"/>
<circle cx="611.2" cy="63.4" r="1.4" fill="#cdcdcd"/>
<circle cx="611.4" cy="66.5" r="1.4" fill="#cdcdcd"/>
<circle cx="611.6" cy="69.6" r="1.4" fill="#cdcdcd"/>
<circle cx="611.6" cy="72.7" r="1.4" fill="#cdcdcd"/>
<circle cx="611.3" cy="75.8" r="1.4" fill="#cdcdcd"/>
<circle cx="611.1" cy="78.9" r="1.4" fill="#cdcdcd"/>
<circle cx="611.6" cy="82" r="1.4" fill="#cdcdcd"/>
<circle cx="611.4" cy="85.1" r="1.4" fill="#cdcdcd"/>
<circle cx="611.1" cy="88.2" r="1.4" fill="#cdcdcd"/>
<circle cx="611.2" cy="91.3" r="1.4" fill="#cdcdcd"/>
<circle cx="611.1" cy="94.4" r="1.4" fill="#cdcdcd"/>
<circle cx="611.4" cy="97.5" r="1.4" fill="#cdcdcd"/>
<circle cx="611.2" cy="100.6" r="1.4" fill="#cdcdcd"/>
<circle cx="611.4" cy="106.8" r="1.4" fill="#cdcdcd"/>
<circle cx="614.4" cy="61.9" r="1.4" fill="#cdcdcd"/>
<circle cx="614.4" cy="65" r="1.4" fill="#cdcdcd"/>
<circle cx="614" cy="68.1" r="1.4" fill="#cdcdcd"/>
<circle cx="613.9" cy="71.2" r="1.4" fill="#cdcdcd"/>
<circle cx="614" cy="74.3" r="1.4" fill="#cdcdcd"/>
<circle cx="614.5" cy="77.4" r="1.4" fill="#cdcdcd"/>
<circle cx="614.4" cy="80.5" r="1.4" fill="#cdcdcd"/>
<circle cx="614.2" cy="83.6" r="1.4" fill="#cdcdcd"/>
<circle cx="614.4" cy="86.7" r="1.4" fill="#cdcdcd"/>
<circle cx="614.3" cy="89.8" r="1.4" fill="#cdcdcd"/>
<circle cx="614.4" cy="92.9" r="1.4" fill="#cdcdcd"/>
<circle cx="614.3" cy="96" r="1.4" fill="#cdcdcd"/>
<circle cx="614" cy="99.1" r="1.4" fill="#cdcdcd"/>
<circle cx="614.3" cy="102.2" r="1.4" fill="#cdcdcd"/>
<circle cx="614" cy="105.3" r="1.4" fill="#cdcdcd"/>
<circle cx="617" cy="66.5" r="1.4" fill="#cdcdcd"/>
<circle cx="616.8" cy="69.6" r="1.4" fill="#cdcdcd"/>
<circle cx="617" cy="72.7" r="1.4" fill="#cdcdcd"/>
<circle cx="617.1" cy="75.8" r="1.4" fill="#cdcdcd"/>
<circle cx="617" cy="78.9" r="1.4" fill="#cdcdcd"/>
<circle cx="617.1" cy="82" r="1.4" fill="#cdcdcd"/>
<circle cx="617" cy="85.1" r="1.4" fill="#cdcdcd"/>
<circle cx="617" cy="91.3" r="1.4" fill="#cdcdcd"/>
<circle cx="616.9" cy="94.4" r="1.4" fill="#cdcdcd"/>
<circle cx="617.3" cy="97.5" r="1.4" fill="#cdcdcd"/>
<circle cx="617.3" cy="100.6" r="1.4" fill="#cdcdcd"/>
<circle cx="620.2" cy="74.3" r="1.4" fill="#cdcdcd"/>
<circle cx="619.9" cy="77.4" r="1.4" fill="#cdcdcd"/>
<circle cx="620.1" cy="80.5" r="1.4" fill="#cdcdcd"/>
<circle cx="619.9" cy="83.6" r="1.4" fill="#cdcdcd"/>
<circle cx="619.8" cy="86.7" r="1.4" fill="#cdcdcd"/>
<circle cx="619.8" cy="92.9" r="1.4" fill="#cdcdcd"/>
<circle cx="619.7" cy="96" r="1.4" fill="#cdcdcd"/>
<circle cx="622.9" cy="72.7" r="1.4" fill="#cdcdcd"/>
<circle cx="622.8" cy="75.8" r="1.4" fill="#cdcdcd"/>
<circle cx="622.5" cy="78.9" r="1.4" fill="#cdcdcd"/>
<circle cx="622.6" cy="82" r="1.4" fill="#cdcdcd"/>
<circle cx="622.7" cy="85.1" r="1.4" fill="#cdcdcd"/>
<circle cx="622.9" cy="88.2" r="1.4" fill="#cdcdcd"/>
<circle cx="622.5" cy="91.3" r="1.4" fill="#cdcdcd"/>
<circle cx="622.7" cy="94.4" r="1.4" fill="#cdcdcd"/>
<circle cx="625.4" cy="77.4" r="1.4" fill="#cdcdcd"/>
<circle cx="625.7" cy="80.5" r="1.4" fill="#cdcdcd"/>
<circle cx="625.5" cy="89.8" r="1.4" fill="#cdcdcd"/>
<circle cx="628.3" cy="78.9" r="1.4" fill="#cdcdcd"/>
<circle cx="628.5" cy="82" r="1.4" fill="#cdcdcd"/>
<circle cx="628.4" cy="85.1" r="1.4" fill="#cdcdcd"/>
<circle cx="628.3" cy="88.2" r="1.4" fill="#cdcdcd"/>
<circle cx="631.5" cy="80.5" r="1.4" fill="#cdcdcd"/>
<circle cx="631.2" cy="83.6" r="1.4" fill="#cdcdcd"/>
<circle cx="631.5" cy="86.7" r="1.4" fill="#cdcdcd"/>
<circle cx="633.9" cy="82" r="1.4" fill="#cdcdcd"/>
<circle cx="634.2" cy="85.1" r="1.4" fill="#cdcdcd"/>
<circle cx="636.7" cy="83.6" r="1.4" fill="#cdcdcd"/>
<circle cx="640" cy="78.9" r="1.4" fill="#cdcdcd"/>
<circle cx="640.1" cy="82" r="1.4" fill="#cdcdcd"/>
<circle cx="640.1" cy="85.1" r="1.4" fill="#cdcdcd"/>
<circle cx="639.7" cy="88.2" r="1.4" fill="#cdcdcd"/>
<circle cx="642.7" cy="74.3" r="1.4" fill="#cdcdcd"/>
<circle cx="642.4" cy="77.4" r="1.4" fill="#cdcdcd"/>
<circle cx="642.5" cy="80.5" r="1.4" fill="#cdcdcd"/>
<circle cx="642.5" cy="83.6" r="1.4" fill="#cdcdcd"/>
<circle cx="642.7" cy="86.7" r="1.4" fill="#cdcdcd"/>
<circle cx="642.4" cy="89.8" r="1.4" fill="#cdcdcd"/>
<circle cx="642.8" cy="92.9" r="1.4" fill="#cdcdcd"/>
<circle cx="645.8" cy="72.7" r="1.4" fill="#cdcdcd"/>
<circle cx="645.4" cy="75.8" r="1.4" fill="#cdcdcd"/>
<circle cx="645.7" cy="78.9" r="1.4" fill="#cdcdcd"/>
<circle cx="645.6" cy="82" r="1.4" fill="#cdcdcd"/>
<circle cx="645.6" cy="85.1" r="1.4" fill="#cdcdcd"/>
<circle cx="645.4" cy="88.2" r="1.4" fill="#cdcdcd"/>
<circle cx="645.6" cy="91.3" r="1.4" fill="#cdcdcd"/>
<circle cx="645.8" cy="94.4" r="1.4" fill="#cdcdcd"/>
<circle cx="648.5" cy="74.3" r="1.4" fill="#cdcdcd"/>
<circle cx="648.6" cy="77.4" r="1.4" fill="#cdcdcd"/>
<circle cx="648.3" cy="80.5" r="1.4" fill="#cdcdcd"/>
<circle cx="648.2" cy="83.6" r="1.4" fill="#cdcdcd"/>
<circle cx="648.5" cy="86.7" r="1.4" fill="#cdcdcd"/>
<circle cx="648.3" cy="92.9" r="1.4" fill="#cdcdcd"/>
<circle cx="651.2" cy="72.7" r="1.4" fill="#cdcdcd"/>
<circle cx="651.2" cy="75.8" r="1.4" fill="#cdcdcd"/>
<circle cx="651.1" cy="82" r="1.4" fill="#cdcdcd"/>
<circle cx="651.2" cy="85.1" r="1.4" fill="#cdcdcd"/>
<circle cx="651.4" cy="88.2" r="1.4" fill="#cdcdcd"/>
<circle cx="651.3" cy="91.3" r="1.4" fill="#cdcdcd"/>
<circle cx="651.3" cy="94.4" r="1.4" fill="#cdcdcd"/>
<circle cx="654.1" cy="77.4" r="1.4" fill="#cdcdcd"/>
<circle cx="654.2" cy="80.5" r="1.4" fill="#cdcdcd"/>
<circle cx="653.9" cy="83.6" r="1.4" fill="#cdcdcd"/>
<circle cx="654" cy="86.7" r="1.4" fill="#cdcdcd"/>
<circle cx="654.3" cy="89.8" r="1.4" fill="#cdcdcd"/>
<circle cx="656.8" cy="82" r="1.4" fill="#cdcdcd"/>
<circle cx="656.8" cy="85.1" r="1.4" fill="#cdcdcd"/>
<circle cx="657.1" cy="88.2" r="1.4" fill="#cdcdcd"/>
<circle cx="659.7" cy="80.5" r="1.4" fill="#cdcdcd"/>
<circle cx="660.1" cy="83.6" r="1.4" fill="#cdcdcd"/>
<circle cx="659.7" cy="86.7" r="1.4" fill="#cdcdcd"/>
<circle cx="469" cy="80.5" r="2" fill="#cdcdcd"/>
<circle cx="467.4" cy="84.3" r="2" fill="#cdcdcd"/>
<circle cx="471.2" cy="90.2" r="2" fill="#cdcdcd"/>
<circle cx="483.8" cy="83.2" r="1.8" fill="#cdcdcd"/>
<circle cx="517.2" cy="76.1" r="2" fill="#cdcdcd"/>
<circle cx="518" cy="85.7" r="2" fill="#cdcdcd"/>
<circle cx="521" cy="80" r="1.8" fill="#cdcdcd"/>
<circle cx="530" cy="79" r="1.7" fill="#cdcdcd"/>
<circle cx="531" cy="88" r="1.7" fill="#cdcdcd"/>
<rect x="595.6" y="40" width="9.3" height="85" fill="#d8d8d8" />
<circle cx="596.8" cy="48" r="1.6" fill="#ff8a1a" stroke="#b85c00" stroke-width="0.5"/>
<circle cx="599.8" cy="48" r="1.6" fill="#ff8a1a" stroke="#b85c00" stroke-width="0.5"/>
<circle cx="602.8" cy="48" r="1.6" fill="#ff8a1a" stroke="#b85c00" stroke-width="0.5"/>
<circle cx="605.8" cy="48" r="1.6" fill="#ff8a1a" stroke="#b85c00" stroke-width="0.5"/>
<circle cx="598.3" cy="50.7" r="1.6" fill="#ff8a1a" stroke="#b85c00" stroke-width="0.5"/>
<circle cx="601.3" cy="50.7" r="1.6" fill="#ff8a1a" stroke="#b85c00" stroke-width="0.5"/>
<circle cx="604.3" cy="50.7" r="1.6" fill="#ff8a1a" stroke="#b85c00" stroke-width="0.5"/>
<circle cx="596.8" cy="53.4" r="1.6" fill="#ff8a1a" stroke="#b85c00" stroke-width="0.5"/>
<circle cx="599.8" cy="53.4" r="1.6" fill="#ff8a1a" stroke="#b85c00" stroke-width="0.5"/>
<circle cx="602.8" cy="53.4" r="1.6" fill="#ff8a1a" stroke="#b85c00" stroke-width="0.5"/>
<circle cx="605.8" cy="53.4" r="1.6" fill="#ff8a1a" stroke="#b85c00" stroke-width="0.5"/>
<circle cx="598.3" cy="56.1" r="1.6" fill="#ff8a1a" stroke="#b85c00" stroke-width="0.5"/>
<circle cx="601.3" cy="56.1" r="1.6" fill="#ff8a1a" stroke="#b85c00" stroke-width="0.5"/>
<circle cx="604.3" cy="56.1" r="1.6" fill="#ff8a1a" stroke="#b85c00" stroke-width="0.5"/>
<circle cx="596.8" cy="58.8" r="1.6" fill="#ff8a1a" stroke="#b85c00" stroke-width="0.5"/>
<circle cx="599.8" cy="58.8" r="1.6" fill="#ff8a1a" stroke="#b85c00" stroke-width="0.5"/>
<circle cx="602.8" cy="58.8" r="1.6" fill="#ff8a1a" stroke="#b85c00" stroke-width="0.5"/>
<circle cx="605.8" cy="58.8" r="1.6" fill="#ff8a1a" stroke="#b85c00" stroke-width="0.5"/>
<circle cx="598.3" cy="61.5" r="1.6" fill="#ff8a1a" stroke="#b85c00" stroke-width="0.5"/>
<circle cx="601.3" cy="61.5" r="1.6" fill="#ff8a1a" stroke="#b85c00" stroke-width="0.5"/>
<circle cx="604.3" cy="61.5" r="1.6" fill="#ff8a1a" stroke="#b85c00" stroke-width="0.5"/>
<circle cx="596.8" cy="64.2" r="1.6" fill="#ff8a1a" stroke="#b85c00" stroke-width="0.5"/>
<circle cx="599.8" cy="64.2" r="1.6" fill="#ff8a1a" stroke="#b85c00" stroke-width="0.5"/>
<circle cx="602.8" cy="64.2" r="1.6" fill="#ff8a1a" stroke="#b85c00" stroke-width="0.5"/>
<circle cx="605.8" cy="64.2" r="1.6" fill="#ff8a1a" stroke="#b85c00" stroke-width="0.5"/>
<circle cx="598.3" cy="66.9" r="1.6" fill="#ff8a1a" stroke="#b85c00" stroke-width="0.5"/>
<circle cx="601.3" cy="66.9" r="1.6" fill="#ff8a1a" stroke="#b85c00" stroke-width="0.5"/>
<circle cx="604.3" cy="66.9" r="1.6" fill="#ff8a1a" stroke="#b85c00" stroke-width="0.5"/>
<circle cx="596.8" cy="69.6" r="1.6" fill="#ff8a1a" stroke="#b85c00" stroke-width="0.5"/>
<circle cx="599.8" cy="69.6" r="1.6" fill="#ff8a1a" stroke="#b85c00" stroke-width="0.5"/>
<circle cx="602.8" cy="69.6" r="1.6" fill="#ff8a1a" stroke="#b85c00" stroke-width="0.5"/>
<circle cx="605.8" cy="69.6" r="1.6" fill="#ff8a1a" stroke="#b85c00" stroke-width="0.5"/>
<circle cx="598.3" cy="72.3" r="1.6" fill="#ff8a1a" stroke="#b85c00" stroke-width="0.5"/>
<circle cx="601.3" cy="72.3" r="1.6" fill="#ff8a1a" stroke="#b85c00" stroke-width="0.5"/>
<circle cx="604.3" cy="72.3" r="1.6" fill="#ff8a1a" stroke="#b85c00" stroke-width="0.5"/>
<circle cx="596.8" cy="75" r="1.6" fill="#ff8a1a" stroke="#b85c00" stroke-width="0.5"/>
<circle cx="599.8" cy="75" r="1.6" fill="#ff8a1a" stroke="#b85c00" stroke-width="0.5"/>
<circle cx="602.8" cy="75" r="1.6" fill="#ff8a1a" stroke="#b85c00" stroke-width="0.5"/>
<circle cx="605.8" cy="75" r="1.6" fill="#ff8a1a" stroke="#b85c00" stroke-width="0.5"/>
<circle cx="598.3" cy="77.7" r="1.6" fill="#ff8a1a" stroke="#b85c00" stroke-width="0.5"/>
<circle cx="601.3" cy="77.7" r="1.6" fill="#ff8a1a" stroke="#b85c00" stroke-width="0.5"/>
<circle cx="604.3" cy="77.7" r="1.6" fill="#ff8a1a" stroke="#b85c00" stroke-width="0.5"/>
<circle cx="596.8" cy="80.4" r="1.6" fill="#ff8a1a" stroke="#b85c00" stroke-width="0.5"/>
<circle cx="599.8" cy="80.4" r="1.6" fill="#ff8a1a" stroke="#b85c00" stroke-width="0.5"/>
<circle cx="602.8" cy="80.4" r="1.6" fill="#ff8a1a" stroke="#b85c00" stroke-width="0.5"/>
<circle cx="605.8" cy="80.4" r="1.6" fill="#ff8a1a" stroke="#b85c00" stroke-width="0.5"/>
<circle cx="598.3" cy="83.1" r="1.6" fill="#ff8a1a" stroke="#b85c00" stroke-width="0.5"/>
<circle cx="601.3" cy="83.1" r="1.6" fill="#ff8a1a" stroke="#b85c00" stroke-width="0.5"/>
<circle cx="604.3" cy="83.1" r="1.6" fill="#ff8a1a" stroke="#b85c00" stroke-width="0.5"/>
<circle cx="596.8" cy="85.8" r="1.6" fill="#ff8a1a" stroke="#b85c00" stroke-width="0.5"/>
<circle cx="599.8" cy="85.8" r="1.6" fill="#ff8a1a" stroke="#b85c00" stroke-width="0.5"/>
<circle cx="602.8" cy="85.8" r="1.6" fill="#ff8a1a" stroke="#b85c00" stroke-width="0.5"/>
<circle cx="605.8" cy="85.8" r="1.6" fill="#ff8a1a" stroke="#b85c00" stroke-width="0.5"/>
<circle cx="598.3" cy="88.5" r="1.6" fill="#ff8a1a" stroke="#b85c00" stroke-width="0.5"/>
<circle cx="601.3" cy="88.5" r="1.6" fill="#ff8a1a" stroke="#b85c00" stroke-width="0.5"/>
<circle cx="604.3" cy="88.5" r="1.6" fill="#ff8a1a" stroke="#b85c00" stroke-width="0.5"/>
<circle cx="596.8" cy="91.2" r="1.6" fill="#ff8a1a" stroke="#b85c00" stroke-width="0.5"/>
<circle cx="599.8" cy="91.2" r="1.6" fill="#ff8a1a" stroke="#b85c00" stroke-width="0.5"/>
<circle cx="602.8" cy="91.2" r="1.6" fill="#ff8a1a" stroke="#b85c00" stroke-width="0.5"/>
<circle cx="605.8" cy="91.2" r="1.6" fill="#ff8a1a" stroke="#b85c00" stroke-width="0.5"/>
<circle cx="598.3" cy="93.9" r="1.6" fill="#ff8a1a" stroke="#b85c00" stroke-width="0.5"/>
<circle cx="601.3" cy="93.9" r="1.6" fill="#ff8a1a" stroke="#b85c00" stroke-width="0.5"/>
<circle cx="604.3" cy="93.9" r="1.6" fill="#ff8a1a" stroke="#b85c00" stroke-width="0.5"/>
<circle cx="596.8" cy="96.6" r="1.6" fill="#ff8a1a" stroke="#b85c00" stroke-width="0.5"/>
<circle cx="599.8" cy="96.6" r="1.6" fill="#ff8a1a" stroke="#b85c00" stroke-width="0.5"/>
<circle cx="602.8" cy="96.6" r="1.6" fill="#ff8a1a" stroke="#b85c00" stroke-width="0.5"/>
<circle cx="605.8" cy="96.6" r="1.6" fill="#ff8a1a" stroke="#b85c00" stroke-width="0.5"/>
<circle cx="598.3" cy="99.3" r="1.6" fill="#ff8a1a" stroke="#b85c00" stroke-width="0.5"/>
<circle cx="601.3" cy="99.3" r="1.6" fill="#ff8a1a" stroke="#b85c00" stroke-width="0.5"/>
<circle cx="604.3" cy="99.3" r="1.6" fill="#ff8a1a" stroke="#b85c00" stroke-width="0.5"/>
<circle cx="596.8" cy="102" r="1.6" fill="#ff8a1a" stroke="#b85c00" stroke-width="0.5"/>
<circle cx="599.8" cy="102" r="1.6" fill="#ff8a1a" stroke="#b85c00" stroke-width="0.5"/>
<circle cx="602.8" cy="102" r="1.6" fill="#ff8a1a" stroke="#b85c00" stroke-width="0.5"/>
<circle cx="605.8" cy="102" r="1.6" fill="#ff8a1a" stroke="#b85c00" stroke-width="0.5"/>
<circle cx="598.3" cy="104.7" r="1.6" fill="#ff8a1a" stroke="#b85c00" stroke-width="0.5"/>
<circle cx="601.3" cy="104.7" r="1.6" fill="#ff8a1a" stroke="#b85c00" stroke-width="0.5"/>
<circle cx="604.3" cy="104.7" r="1.6" fill="#ff8a1a" stroke="#b85c00" stroke-width="0.5"/>
<circle cx="596.8" cy="107.4" r="1.6" fill="#ff8a1a" stroke="#b85c00" stroke-width="0.5"/>
<circle cx="599.8" cy="107.4" r="1.6" fill="#ff8a1a" stroke="#b85c00" stroke-width="0.5"/>
<circle cx="602.8" cy="107.4" r="1.6" fill="#ff8a1a" stroke="#b85c00" stroke-width="0.5"/>
<circle cx="605.8" cy="107.4" r="1.6" fill="#ff8a1a" stroke="#b85c00" stroke-width="0.5"/>
<circle cx="598.3" cy="110.1" r="1.6" fill="#ff8a1a" stroke="#b85c00" stroke-width="0.5"/>
<circle cx="601.3" cy="110.1" r="1.6" fill="#ff8a1a" stroke="#b85c00" stroke-width="0.5"/>
<circle cx="604.3" cy="110.1" r="1.6" fill="#ff8a1a" stroke="#b85c00" stroke-width="0.5"/>
<circle cx="596.8" cy="112.8" r="1.6" fill="#ff8a1a" stroke="#b85c00" stroke-width="0.5"/>
<circle cx="599.8" cy="112.8" r="1.6" fill="#ff8a1a" stroke="#b85c00" stroke-width="0.5"/>
<circle cx="602.8" cy="112.8" r="1.6" fill="#ff8a1a" stroke="#b85c00" stroke-width="0.5"/>
<circle cx="605.8" cy="112.8" r="1.6" fill="#ff8a1a" stroke="#b85c00" stroke-width="0.5"/>
<circle cx="598.3" cy="115.5" r="1.6" fill="#ff8a1a" stroke="#b85c00" stroke-width="0.5"/>
<circle cx="601.3" cy="115.5" r="1.6" fill="#ff8a1a" stroke="#b85c00" stroke-width="0.5"/>
<circle cx="604.3" cy="115.5" r="1.6" fill="#ff8a1a" stroke="#b85c00" stroke-width="0.5"/>
<circle cx="596.8" cy="118.2" r="1.6" fill="#ff8a1a" stroke="#b85c00" stroke-width="0.5"/>
<circle cx="599.8" cy="118.2" r="1.6" fill="#ff8a1a" stroke="#b85c00" stroke-width="0.5"/>
<circle cx="602.8" cy="118.2" r="1.6" fill="#ff8a1a" stroke="#b85c00" stroke-width="0.5"/>
<circle cx="605.8" cy="118.2" r="1.6" fill="#ff8a1a" stroke="#b85c00" stroke-width="0.5"/>
<line x1="600.7" y1="40" x2="600.7" y2="125" stroke="#666" stroke-width="0.8" />
<circle cx="234" cy="83.6" r="5" fill="#ff0000" stroke="#222" stroke-width="0.8"/>
<circle cx="270.4" cy="83.6" r="4.6" fill="#ff0000" stroke="#222" stroke-width="0.8"/>
<circle cx="293" cy="83.6" r="5" fill="#ff0000" stroke="#222" stroke-width="0.8"/>
<circle cx="335.1" cy="83.6" r="4.6" fill="#ff0000" stroke="#222" stroke-width="0.8"/>
<circle cx="342.9" cy="83.6" r="4" fill="#ff0000" stroke="#222" stroke-width="0.8"/>
<circle cx="391" cy="80.5" r="5" fill="#ff0000" stroke="#222" stroke-width="0.8"/>
<circle cx="392.5" cy="87.7" r="3.5" fill="#ff0000" stroke="#222" stroke-width="0.8"/>
<circle cx="404" cy="83.6" r="3.2" fill="#ff0000" stroke="#222" stroke-width="0.8"/>
<circle cx="414.7" cy="83.6" r="2.8" fill="#ff0000" stroke="#222" stroke-width="0.8"/>
<circle cx="477.4" cy="79.4" r="4" fill="#ff0000" stroke="#222" stroke-width="0.8"/>
<circle cx="473.8" cy="85.7" r="3.5" fill="#ff0000" stroke="#222" stroke-width="0.8"/>
<rect x="217.6" y="84.9" width="19" height="35.8" fill="#5f3e9c" rx="0.8" />
<line x1="236.6" y1="85.4" x2="258" y2="85.4" stroke="#8c7cc0" stroke-width="1.1" />
<circle cx="234" cy="83.6" r="5" fill="#ff0000" stroke="#222" stroke-width="0.8"/>
<line x1="216.7" y1="83.6" x2="594" y2="83.6" stroke="#444" stroke-width="0.9" stroke-dasharray="3,3"/>
<rect x="758" y="56.2" width="19.4" height="25.7" fill="#cbcae3" />
<circle cx="607.4" cy="55.7" r="3.1" fill="#1ee01e" stroke="#222" stroke-width="0.8"/>
<circle cx="588" cy="67.2" r="3.1" fill="#1ee01e" stroke="#222" stroke-width="0.8"/>
<circle cx="560.7" cy="86" r="2.8" fill="#1ee01e" stroke="#222" stroke-width="0.8"/>
<circle cx="588.2" cy="96.4" r="3.1" fill="#1ee01e" stroke="#222" stroke-width="0.8"/>
<circle cx="640.3" cy="79.5" r="4" fill="#1ee01e" stroke="#222" stroke-width="0.8"/>
<circle cx="643.7" cy="73.4" r="2.9" fill="#1ee01e" stroke="#222" stroke-width="0.8"/>
<circle cx="647.2" cy="79" r="3.1" fill="#1ee01e" stroke="#222" stroke-width="0.8"/>
<circle cx="652.6" cy="80.7" r="2.7" fill="#1ee01e" stroke="#222" stroke-width="0.8"/>
<circle cx="669" cy="83.2" r="3.4" fill="#1ee01e" stroke="#222" stroke-width="0.8"/>
<circle cx="684.2" cy="83.2" r="3.1" fill="#1ee01e" stroke="#222" stroke-width="0.8"/>
<circle cx="710.8" cy="80.7" r="3" fill="#1ee01e" stroke="#222" stroke-width="0.8"/>
<circle cx="709.1" cy="86" r="3" fill="#1ee01e" stroke="#222" stroke-width="0.8"/>
<circle cx="758.9" cy="80.7" r="5.6" fill="#1ee01e" stroke="#222" stroke-width="0.8"/>
<circle cx="760.9" cy="89.1" r="3.5" fill="#1ee01e" stroke="#222" stroke-width="0.8"/>
<circle cx="677" cy="83.2" r="1.6" fill="#cfcfcf"/>
<path d="M764.5,51 A4.6,4.6 0 0 1 773,49.5" fill="none" stroke="#111" stroke-width="1.7" />
<path d="M773.5,54 A4.6,4.6 0 0 1 765,55.5" fill="none" stroke="#111" stroke-width="1.7" />
<polygon points="774.8,46.5 775,51.5 770.2,50.5" fill="#111"/>
<polygon points="763.2,58.5 763,53.5 767.8,54.5" fill="#111"/>
<text x="224.3" y="57.2" font-size="9.2" fill="#1a1a2e" font-weight="bold" textLength="20.3" lengthAdjust="spacingAndGlyphs" >Utah</text>
<text x="271.5" y="57.2" font-size="9.2" fill="#1a1a2e" font-weight="bold" textLength="41.3" lengthAdjust="spacingAndGlyphs" >UC-Davis</text>
<text x="320.5" y="57.2" font-size="9.2" fill="#1a1a2e" font-weight="bold" textLength="39.5" lengthAdjust="spacingAndGlyphs" >Stuttgart</text>
<text x="244.6" y="111.2" font-size="9.2" fill="#1a1a2e" font-weight="bold" textLength="53.9" lengthAdjust="spacingAndGlyphs" >Stony Brook</text>
<text x="312.9" y="111.2" font-size="9.2" fill="#1a1a2e" font-weight="bold" textLength="46.3" lengthAdjust="spacingAndGlyphs" >Ohio State</text>
<line x1="234" y1="62" x2="234" y2="69.5" stroke="#333" stroke-width="1.5" />
<polygon points="234,74.5 230.8,69.5 237.2,69.5" fill="#333"/>
<line x1="293" y1="62" x2="293" y2="69.5" stroke="#333" stroke-width="1.5" />
<polygon points="293,74.5 289.8,69.5 296.2,69.5" fill="#333"/>
<line x1="343" y1="62" x2="343" y2="69.5" stroke="#333" stroke-width="1.5" />
<polygon points="343,74.5 339.8,69.5 346.2,69.5" fill="#333"/>
<line x1="270.4" y1="101" x2="270.4" y2="95" stroke="#333" stroke-width="1.5" />
<polygon points="270.4,90 273.6,95 267.2,95" fill="#333"/>
<line x1="335.1" y1="101" x2="335.1" y2="95" stroke="#333" stroke-width="1.5" />
<polygon points="335.1,90 338.3,95 331.9,95" fill="#333"/>
<line x1="633.2" y1="43.6" x2="615.6" y2="43.6" stroke="#111" stroke-width="1.6" />
<polygon points="609.6,43.6 615.6,40.1 615.6,47.1" fill="#111"/>
<text x="639.2" y="48.8" font-size="11" fill="#111" textLength="56" lengthAdjust="spacingAndGlyphs" stroke="#111" stroke-width="0.25">filter brush</text>
<text x="712.2" y="63.2" font-size="8.5" fill="#1a1a2e" font-weight="bold" textLength="38.3" lengthAdjust="spacingAndGlyphs" >Stanford</text>
<line x1="740.3" y1="66.4" x2="748" y2="72.4" stroke="#444" stroke-width="1.8" />
<polygon points="752.3,75.8 745.9,75 750,69.8" fill="#444"/>
<text x="725.2" y="99.1" font-size="8.5" fill="#1a1a2e" font-weight="bold" textLength="16.8" lengthAdjust="spacingAndGlyphs" >MIT</text>
<line x1="746.2" y1="98.4" x2="753.2" y2="94.3" stroke="#444" stroke-width="1.8" />
<polygon points="758,91.6 754.9,97.2 751.6,91.5" fill="#444"/>
<line x1="770.4" y1="105.1" x2="770.4" y2="91.4" stroke="#111" stroke-width="1.9" />
<polygon points="770.4,84.9 774,91.4 766.8,91.4" fill="#111"/>
<text x="734.1" y="116.3" font-size="11" fill="#1a1a2e" textLength="44.2" lengthAdjust="spacingAndGlyphs" stroke="#1a1a2e" stroke-width="0.45">Graphics</text>
<rect x="373.7" y="42.7" width="115.5" height="21.3" fill="#fff" stroke="#111" stroke-width="1.2" />
<rect x="373.2" y="42.2" width="19.6" height="22.3" fill="#222" />
<text x="383" y="60.2" font-size="17" fill="#fff" font-weight="bold" text-anchor="middle" >C</text>
<text x="400.6" y="56.8" font-size="11.5" fill="#000" font-weight="bold" textLength="81" lengthAdjust="spacingAndGlyphs" >Projection axis</text>
<rect x="212.4" y="124.4" width="570.4" height="406.1" fill="#fff" stroke="#e8e8e8" stroke-width="1" />
<line x1="228.8" y1="139" x2="228.8" y2="129.7" stroke="#111" stroke-width="1.8" />
<polygon points="228.8,123.7 232.3,129.7 225.3,129.7" fill="#111"/>
<text x="216.4" y="149.3" font-size="11" fill="#1a1a2e" textLength="65.2" lengthAdjust="spacingAndGlyphs" stroke="#1a1a2e" stroke-width="0.5">Visualization</text>
<rect x="223.7" y="176.4" width="118.6" height="20.5" fill="#fff" stroke="#111" stroke-width="1.2" />
<rect x="223.2" y="175.9" width="21.5" height="21.5" fill="#222" />
<text x="234" y="193.6" font-size="17" fill="#fff" font-weight="bold" text-anchor="middle" >B</text>
<text x="253.3" y="190.6" font-size="11.5" fill="#000" font-weight="bold" textLength="80.5" lengthAdjust="spacingAndGlyphs" >Reduced space</text>
<rect x="716.9" y="130.7" width="10.6" height="10.4" fill="#fff" stroke="#888" stroke-width="1.2" rx="2" />
<text x="722.2" y="139.3" font-size="8.5" fill="#222" text-anchor="middle" >1</text>
<rect x="733.7" y="130.7" width="10.6" height="10.4" fill="#fff" stroke="#888" stroke-width="1.2" rx="2" />
<text x="739" y="139.3" font-size="8.5" fill="#222" text-anchor="middle" >2</text>
<rect x="750.4" y="131.8" width="9.9" height="1.8" fill="#111" rx="0.5" />
<rect x="753.5" y="130.6" width="3.7" height="1.5" fill="#111" />
<path d="M751.2,134 L759.5,134 L758.6,141.6 L752.1,141.6 Z" fill="#111" stroke="none" stroke-width="0" />
<rect x="763.4" y="137.6" width="11.2" height="4" fill="#111" rx="0.8" />
<rect x="767.9" y="130.5" width="2.2" height="5" fill="#111" />
<polygon points="764.9,134.6 773.1,134.6 769,139.2" fill="#111"/>
<rect x="772" y="139.2" width="1.3" height="1.2" fill="#fff" />
<circle cx="377.3" cy="252.5" r="1.6" fill="#1c8ff0"/>
<circle cx="379.7" cy="251.5" r="1.6" fill="#1c8ff0"/>
<circle cx="382.7" cy="256.2" r="1.6" fill="#1c8ff0"/>
<circle cx="389" cy="258.6" r="1.6" fill="#1c8ff0"/>
<circle cx="391.4" cy="258.6" r="1.6" fill="#1c8ff0"/>
<circle cx="393.1" cy="258.6" r="1.6" fill="#1c8ff0"/>
<circle cx="387.5" cy="247.1" r="1.6" fill="#1c8ff0"/>
<circle cx="389.5" cy="248.1" r="1.6" fill="#1c8ff0"/>
<circle cx="391.9" cy="245.2" r="1.6" fill="#1c8ff0"/>
<circle cx="393.9" cy="244.2" r="1.6" fill="#1c8ff0"/>
<circle cx="399.7" cy="240.3" r="1.6" fill="#1c8ff0"/>
<circle cx="402.9" cy="239.4" r="1.6" fill="#1c8ff0"/>
<circle cx="407.7" cy="244.7" r="1.6" fill="#1c8ff0"/>
<circle cx="408.2" cy="248.1" r="1.6" fill="#1c8ff0"/>
<circle cx="411.4" cy="235.5" r="1.6" fill="#1c8ff0"/>
<circle cx="413.8" cy="234.2" r="1.6" fill="#1c8ff0"/>
<circle cx="416.3" cy="234.2" r="1.6" fill="#1c8ff0"/>
<circle cx="411.4" cy="240.8" r="1.6" fill="#1c8ff0"/>
<circle cx="413.3" cy="241.8" r="1.6" fill="#1c8ff0"/>
<circle cx="421.6" cy="231.1" r="1.6" fill="#1c8ff0"/>
<circle cx="424" cy="232.3" r="1.6" fill="#1c8ff0"/>
<circle cx="426.5" cy="233" r="1.6" fill="#1c8ff0"/>
<circle cx="428.9" cy="229.6" r="1.6" fill="#1c8ff0"/>
<circle cx="433.8" cy="226.9" r="1.6" fill="#1c8ff0"/>
<circle cx="444.2" cy="236.7" r="1.6" fill="#1c8ff0"/>
<circle cx="445.5" cy="239.1" r="1.6" fill="#1c8ff0"/>
<circle cx="446.7" cy="240.8" r="1.6" fill="#1c8ff0"/>
<circle cx="449.6" cy="246.9" r="1.6" fill="#1c8ff0"/>
<circle cx="453.3" cy="216.5" r="1.6" fill="#1c8ff0"/>
<circle cx="455.2" cy="215.5" r="1.6" fill="#1c8ff0"/>
<circle cx="457.1" cy="214" r="1.6" fill="#1c8ff0"/>
<circle cx="460.1" cy="211.6" r="1.6" fill="#1c8ff0"/>
<circle cx="463.7" cy="209.9" r="1.6" fill="#1c8ff0"/>
<circle cx="471" cy="205.8" r="1.6" fill="#1c8ff0"/>
<circle cx="473.5" cy="204.3" r="1.6" fill="#1c8ff0"/>
<circle cx="477.1" cy="202.6" r="1.6" fill="#1c8ff0"/>
<circle cx="480.8" cy="201.4" r="1.6" fill="#1c8ff0"/>
<circle cx="486.4" cy="198.2" r="1.6" fill="#1c8ff0"/>
<circle cx="460.1" cy="265.9" r="1.6" fill="#1c8ff0"/>
<circle cx="463.7" cy="263.5" r="1.6" fill="#1c8ff0"/>
<circle cx="464.9" cy="267.1" r="1.6" fill="#1c8ff0"/>
<circle cx="466.9" cy="262.2" r="1.6" fill="#1c8ff0"/>
<circle cx="474.7" cy="261" r="1.6" fill="#1c8ff0"/>
<circle cx="478.3" cy="261" r="1.6" fill="#1c8ff0"/>
<circle cx="483.2" cy="258.6" r="1.6" fill="#1c8ff0"/>
<circle cx="485.6" cy="261" r="1.6" fill="#1c8ff0"/>
<circle cx="487.3" cy="262.2" r="1.6" fill="#1c8ff0"/>
<circle cx="499" cy="265.9" r="1.6" fill="#1c8ff0"/>
<circle cx="562.9" cy="167.5" r="1.6" fill="#1c8ff0"/>
<circle cx="554.4" cy="171.1" r="1.6" fill="#1c8ff0"/>
<circle cx="552.5" cy="172.3" r="1.6" fill="#1c8ff0"/>
<circle cx="550.8" cy="173.1" r="1.6" fill="#1c8ff0"/>
<circle cx="547.1" cy="174.8" r="1.6" fill="#1c8ff0"/>
<circle cx="544.2" cy="176.5" r="1.6" fill="#1c8ff0"/>
<circle cx="542.2" cy="177.9" r="1.6" fill="#1c8ff0"/>
<circle cx="539.8" cy="182.1" r="1.6" fill="#1c8ff0"/>
<circle cx="545.9" cy="183.8" r="1.6" fill="#1c8ff0"/>
<circle cx="547.1" cy="186.9" r="1.6" fill="#1c8ff0"/>
<circle cx="543.5" cy="188.2" r="1.6" fill="#1c8ff0"/>
<circle cx="541" cy="190.1" r="1.6" fill="#1c8ff0"/>
<circle cx="527.6" cy="184.5" r="1.6" fill="#1c8ff0"/>
<circle cx="524" cy="185.7" r="1.6" fill="#1c8ff0"/>
<circle cx="520.3" cy="186.9" r="1.6" fill="#1c8ff0"/>
<circle cx="517.4" cy="187.7" r="1.6" fill="#1c8ff0"/>
<circle cx="514.2" cy="188.6" r="1.6" fill="#1c8ff0"/>
<circle cx="508.2" cy="191.8" r="1.6" fill="#1c8ff0"/>
<circle cx="504.5" cy="192.5" r="1.6" fill="#1c8ff0"/>
<circle cx="502.1" cy="193.5" r="1.6" fill="#1c8ff0"/>
<circle cx="500.4" cy="194.2" r="1.6" fill="#1c8ff0"/>
<circle cx="482.6" cy="200.3" r="1.6" fill="#1c8ff0"/>
<circle cx="478.9" cy="202.3" r="1.6" fill="#1c8ff0"/>
<circle cx="561.7" cy="190.6" r="1.6" fill="#1c8ff0"/>
<circle cx="559.3" cy="191.8" r="1.6" fill="#1c8ff0"/>
<circle cx="569" cy="195.5" r="1.6" fill="#1c8ff0"/>
<circle cx="569" cy="182" r="1.6" fill="#1c8ff0"/>
<circle cx="570.7" cy="182.7" r="1.6" fill="#1c8ff0"/>
<circle cx="580.4" cy="180.7" r="1.6" fill="#1c8ff0"/>
<circle cx="596.1" cy="182.2" r="1.6" fill="#1c8ff0"/>
<circle cx="596.1" cy="184.5" r="1.6" fill="#1c8ff0"/>
<circle cx="596.1" cy="186.7" r="1.6" fill="#1c8ff0"/>
<circle cx="575.2" cy="197.7" r="1.6" fill="#1c8ff0"/>
<circle cx="578.9" cy="199.9" r="1.6" fill="#1c8ff0"/>
<circle cx="599.9" cy="209.9" r="1.6" fill="#1c8ff0"/>
<circle cx="594.6" cy="213.2" r="1.6" fill="#1c8ff0"/>
<circle cx="595.1" cy="223.4" r="1.6" fill="#1c8ff0"/>
<circle cx="594.6" cy="233.6" r="1.6" fill="#1c8ff0"/>
<circle cx="598.4" cy="232.4" r="1.6" fill="#1c8ff0"/>
<circle cx="596.1" cy="239.9" r="1.6" fill="#1c8ff0"/>
<circle cx="599.6" cy="242.9" r="1.6" fill="#1c8ff0"/>
<circle cx="604.4" cy="252.6" r="1.6" fill="#1c8ff0"/>
<circle cx="610.1" cy="251.9" r="1.6" fill="#1c8ff0"/>
<circle cx="611.6" cy="246.6" r="1.6" fill="#1c8ff0"/>
<circle cx="614.1" cy="248.9" r="1.6" fill="#1c8ff0"/>
<circle cx="623.1" cy="248.6" r="1.6" fill="#1c8ff0"/>
<circle cx="633.6" cy="247.1" r="1.6" fill="#1c8ff0"/>
<circle cx="637.3" cy="246.2" r="1.6" fill="#1c8ff0"/>
<circle cx="605" cy="146.8" r="1.6" fill="#1c8ff0"/>
<circle cx="607.5" cy="145.6" r="1.6" fill="#1c8ff0"/>
<circle cx="602.6" cy="149.7" r="1.6" fill="#1c8ff0"/>
<circle cx="589.2" cy="157.7" r="1.6" fill="#1c8ff0"/>
<circle cx="596.5" cy="155.3" r="1.6" fill="#1c8ff0"/>
<circle cx="603.8" cy="158.5" r="1.6" fill="#1c8ff0"/>
<circle cx="612.3" cy="159.4" r="1.6" fill="#1c8ff0"/>
<circle cx="619.6" cy="160.9" r="1.6" fill="#1c8ff0"/>
<circle cx="622.1" cy="160.9" r="1.6" fill="#1c8ff0"/>
<circle cx="581.9" cy="160.2" r="1.6" fill="#1c8ff0"/>
<circle cx="586.8" cy="164.3" r="1.6" fill="#1c8ff0"/>
<circle cx="584.3" cy="171.1" r="1.6" fill="#1c8ff0"/>
<circle cx="585.6" cy="174" r="1.6" fill="#1c8ff0"/>
<circle cx="595.3" cy="178.4" r="1.6" fill="#1c8ff0"/>
<circle cx="644" cy="242.9" r="1.6" fill="#1c8ff0"/>
<circle cx="654.9" cy="239.3" r="1.6" fill="#1c8ff0"/>
<circle cx="658.6" cy="238.1" r="1.6" fill="#1c8ff0"/>
<circle cx="664.7" cy="234.4" r="1.6" fill="#1c8ff0"/>
<circle cx="670.8" cy="231.5" r="1.6" fill="#1c8ff0"/>
<circle cx="642.2" cy="244.8" r="1.6" fill="#1c8ff0"/>
<circle cx="654.3" cy="240.9" r="1.6" fill="#1c8ff0"/>
<circle cx="656.9" cy="240.3" r="1.6" fill="#1c8ff0"/>
<circle cx="502.6" cy="266.7" r="1.6" fill="#1c8ff0"/>
<circle cx="505.2" cy="265.9" r="1.6" fill="#1c8ff0"/>
<circle cx="508.3" cy="266.2" r="1.6" fill="#1c8ff0"/>
<circle cx="532.8" cy="288.3" r="1.6" fill="#1c8ff0"/>
<circle cx="534.5" cy="290.3" r="1.6" fill="#1c8ff0"/>
<circle cx="536.2" cy="290" r="1.6" fill="#1c8ff0"/>
<circle cx="533.1" cy="291.4" r="1.6" fill="#1c8ff0"/>
<circle cx="543.1" cy="289.7" r="1.6" fill="#1c8ff0"/>
<circle cx="546.2" cy="294.8" r="1.6" fill="#1c8ff0"/>
<circle cx="551.4" cy="290.3" r="1.6" fill="#1c8ff0"/>
<circle cx="553.1" cy="292.6" r="1.6" fill="#1c8ff0"/>
<circle cx="552.6" cy="296.6" r="1.6" fill="#1c8ff0"/>
<circle cx="557.2" cy="290.9" r="1.6" fill="#1c8ff0"/>
<circle cx="559" cy="300.3" r="1.6" fill="#1c8ff0"/>
<circle cx="546.6" cy="302.4" r="1.6" fill="#1c8ff0"/>
<circle cx="540" cy="306.4" r="1.6" fill="#1c8ff0"/>
<circle cx="543.1" cy="307.6" r="1.6" fill="#1c8ff0"/>
<circle cx="551.7" cy="305.9" r="1.6" fill="#1c8ff0"/>
<circle cx="547.9" cy="309.3" r="1.6" fill="#1c8ff0"/>
<circle cx="564.7" cy="287.9" r="1.6" fill="#1c8ff0"/>
<circle cx="569" cy="290.3" r="1.6" fill="#1c8ff0"/>
<circle cx="565.9" cy="295.2" r="1.6" fill="#1c8ff0"/>
<circle cx="567.2" cy="293.4" r="1.6" fill="#1c8ff0"/>
<circle cx="556.9" cy="282.8" r="1.6" fill="#1c8ff0"/>
<circle cx="558.6" cy="284.5" r="1.6" fill="#1c8ff0"/>
<circle cx="561.2" cy="281" r="1.6" fill="#1c8ff0"/>
<circle cx="572.4" cy="279.7" r="1.6" fill="#1c8ff0"/>
<circle cx="575" cy="277.1" r="1.6" fill="#1c8ff0"/>
<circle cx="576.2" cy="275.3" r="1.6" fill="#1c8ff0"/>
<circle cx="582.8" cy="267.6" r="1.6" fill="#1c8ff0"/>
<circle cx="583.6" cy="269.3" r="1.6" fill="#1c8ff0"/>
<circle cx="584.5" cy="263.3" r="1.6" fill="#1c8ff0"/>
<circle cx="586.2" cy="264.1" r="1.6" fill="#1c8ff0"/>
<circle cx="281" cy="336.7" r="1.6" fill="#1c8ff0"/>
<circle cx="276.9" cy="344.2" r="1.6" fill="#1c8ff0"/>
<circle cx="267" cy="346.9" r="1.6" fill="#1c8ff0"/>
<circle cx="273.5" cy="349.8" r="1.6" fill="#1c8ff0"/>
<circle cx="275.8" cy="351.8" r="1.6" fill="#1c8ff0"/>
<circle cx="293.8" cy="355.8" r="1.6" fill="#1c8ff0"/>
<circle cx="303.4" cy="353.1" r="1.6" fill="#1c8ff0"/>
<circle cx="308.8" cy="350.2" r="1.6" fill="#1c8ff0"/>
<circle cx="302.8" cy="360.3" r="1.6" fill="#1c8ff0"/>
<circle cx="314.7" cy="370.4" r="1.6" fill="#1c8ff0"/>
<circle cx="240.5" cy="386.9" r="1.6" fill="#1c8ff0"/>
<circle cx="238.3" cy="389.6" r="1.6" fill="#1c8ff0"/>
<circle cx="235.8" cy="393.6" r="1.6" fill="#1c8ff0"/>
<circle cx="234.9" cy="395.2" r="1.6" fill="#1c8ff0"/>
<circle cx="231.3" cy="402.4" r="1.6" fill="#1c8ff0"/>
<circle cx="223" cy="432.9" r="1.6" fill="#1c8ff0"/>
<circle cx="223" cy="438.8" r="1.6" fill="#1c8ff0"/>
<circle cx="252.9" cy="416.7" r="1.6" fill="#1c8ff0"/>
<circle cx="258.9" cy="422.6" r="1.6" fill="#1c8ff0"/>
<circle cx="373.5" cy="379.8" r="1.6" fill="#1c8ff0"/>
<circle cx="382.8" cy="381" r="1.6" fill="#1c8ff0"/>
<circle cx="385.3" cy="381.8" r="1.6" fill="#1c8ff0"/>
<circle cx="397.9" cy="381.5" r="1.6" fill="#1c8ff0"/>
<circle cx="396.3" cy="383.5" r="1.6" fill="#1c8ff0"/>
<circle cx="394.6" cy="385.5" r="1.6" fill="#1c8ff0"/>
<circle cx="392.4" cy="390.6" r="1.6" fill="#1c8ff0"/>
<circle cx="391.7" cy="392.3" r="1.6" fill="#1c8ff0"/>
<circle cx="391.2" cy="395.3" r="1.6" fill="#1c8ff0"/>
<circle cx="391.2" cy="397.8" r="1.6" fill="#1c8ff0"/>
<circle cx="393.4" cy="413" r="1.6" fill="#1c8ff0"/>
<circle cx="395.4" cy="419.7" r="1.6" fill="#1c8ff0"/>
<circle cx="397.1" cy="423.6" r="1.6" fill="#1c8ff0"/>
<circle cx="398.4" cy="425.6" r="1.6" fill="#1c8ff0"/>
<circle cx="405.5" cy="443.9" r="1.6" fill="#1c8ff0"/>
<circle cx="594.6" cy="219.7" r="1.6" fill="#f59020" stroke="#c46a10" stroke-width="0.4"/>
<circle cx="527.9" cy="280" r="1.6" fill="#f59020" stroke="#c46a10" stroke-width="0.4"/>
<circle cx="524.5" cy="284" r="1.6" fill="#f59020" stroke="#c46a10" stroke-width="0.4"/>
<circle cx="310.6" cy="367.1" r="1.6" fill="#f59020" stroke="#c46a10" stroke-width="0.4"/>
<circle cx="319.6" cy="373.1" r="1.6" fill="#f59020" stroke="#c46a10" stroke-width="0.4"/>
<circle cx="226.3" cy="410.4" r="1.6" fill="#f59020" stroke="#c46a10" stroke-width="0.4"/>
<circle cx="234.2" cy="410.4" r="1.6" fill="#f59020" stroke="#c46a10" stroke-width="0.4"/>
<circle cx="217.4" cy="425.5" r="1.6" fill="#f59020" stroke="#c46a10" stroke-width="0.4"/>
<circle cx="225.2" cy="425.5" r="1.6" fill="#f59020" stroke="#c46a10" stroke-width="0.4"/>
<circle cx="228.1" cy="432.9" r="1.6" fill="#f59020" stroke="#c46a10" stroke-width="0.4"/>
<circle cx="254.4" cy="417.6" r="1.6" fill="#f59020" stroke="#c46a10" stroke-width="0.4"/>
<circle cx="254.9" cy="424.8" r="1.6" fill="#f59020" stroke="#c46a10" stroke-width="0.4"/>
<circle cx="379.9" cy="381.5" r="1.6" fill="#f59020" stroke="#c46a10" stroke-width="0.4"/>
<circle cx="388.7" cy="396.1" r="1.6" fill="#f59020" stroke="#c46a10" stroke-width="0.4"/>
<circle cx="399.3" cy="428.2" r="1.6" fill="#f59020" stroke="#c46a10" stroke-width="0.4"/>
<circle cx="403" cy="434.9" r="1.6" fill="#f59020" stroke="#c46a10" stroke-width="0.4"/>
<circle cx="408.6" cy="433.2" r="1.6" fill="#f59020" stroke="#c46a10" stroke-width="0.4"/>
<circle cx="411.9" cy="441.2" r="1.6" fill="#f59020" stroke="#c46a10" stroke-width="0.4"/>
<circle cx="416.2" cy="446.7" r="1.6" fill="#f59020" stroke="#c46a10" stroke-width="0.4"/>
<circle cx="419.9" cy="448.9" r="1.6" fill="#f59020" stroke="#c46a10" stroke-width="0.4"/>
<circle cx="424.9" cy="451.8" r="1.6" fill="#f59020" stroke="#c46a10" stroke-width="0.4"/>
<circle cx="429.1" cy="453.5" r="1.6" fill="#f59020" stroke="#c46a10" stroke-width="0.4"/>
<circle cx="653.2" cy="393.9" r="1.4" fill="#f59020" stroke="#c05a10" stroke-width="0.5"/>
<circle cx="632.8" cy="400.9" r="1.4" fill="#f59020" stroke="#c05a10" stroke-width="0.5"/>
<circle cx="617.5" cy="408.2" r="1.4" fill="#f59020" stroke="#c05a10" stroke-width="0.5"/>
<circle cx="651.6" cy="407.9" r="1.4" fill="#f59020" stroke="#c05a10" stroke-width="0.5"/>
<circle cx="665.8" cy="403.2" r="1.4" fill="#f59020" stroke="#c05a10" stroke-width="0.5"/>
<circle cx="596" cy="417.1" r="1.4" fill="#f59020" stroke="#c05a10" stroke-width="0.5"/>
<circle cx="631.5" cy="415.7" r="1.4" fill="#f59020" stroke="#c05a10" stroke-width="0.5"/>
<circle cx="644" cy="418" r="1.4" fill="#f59020" stroke="#c05a10" stroke-width="0.5"/>
<circle cx="618" cy="422.2" r="1.4" fill="#f59020" stroke="#c05a10" stroke-width="0.5"/>
<circle cx="653.8" cy="422.2" r="1.4" fill="#f59020" stroke="#c05a10" stroke-width="0.5"/>
<circle cx="667.8" cy="425.5" r="1.4" fill="#f59020" stroke="#c05a10" stroke-width="0.5"/>
<circle cx="630.1" cy="429.1" r="1.4" fill="#f59020" stroke="#c05a10" stroke-width="0.5"/>
<circle cx="645.4" cy="429.1" r="1.4" fill="#f59020" stroke="#c05a10" stroke-width="0.5"/>
<circle cx="618" cy="433.9" r="1.4" fill="#f59020" stroke="#c05a10" stroke-width="0.5"/>
<circle cx="656.6" cy="433" r="1.4" fill="#f59020" stroke="#c05a10" stroke-width="0.5"/>
<circle cx="671.1" cy="434.7" r="1.4" fill="#f59020" stroke="#c05a10" stroke-width="0.5"/>
<circle cx="582" cy="436.7" r="1.4" fill="#f59020" stroke="#c05a10" stroke-width="0.5"/>
<circle cx="656.6" cy="438.1" r="1.4" fill="#f59020" stroke="#c05a10" stroke-width="0.5"/>
<circle cx="663.6" cy="438.9" r="1.4" fill="#f59020" stroke="#c05a10" stroke-width="0.5"/>
<circle cx="627.3" cy="443.7" r="1.4" fill="#f59020" stroke="#c05a10" stroke-width="0.5"/>
<circle cx="644" cy="443.7" r="1.4" fill="#f59020" stroke="#c05a10" stroke-width="0.5"/>
<circle cx="606.3" cy="450.6" r="1.4" fill="#f59020" stroke="#c05a10" stroke-width="0.5"/>
<circle cx="631.5" cy="452" r="1.4" fill="#f59020" stroke="#c05a10" stroke-width="0.5"/>
<circle cx="649.6" cy="451.5" r="1.4" fill="#f59020" stroke="#c05a10" stroke-width="0.5"/>
<circle cx="625" cy="460.4" r="1.4" fill="#f59020" stroke="#c05a10" stroke-width="0.5"/>
<circle cx="594.3" cy="468.2" r="1.4" fill="#f59020" stroke="#c05a10" stroke-width="0.5"/>
<circle cx="635.1" cy="466.8" r="1.4" fill="#f59020" stroke="#c05a10" stroke-width="0.5"/>
<circle cx="649.6" cy="468.2" r="1.4" fill="#f59020" stroke="#c05a10" stroke-width="0.5"/>
<circle cx="623.6" cy="473" r="1.4" fill="#f59020" stroke="#c05a10" stroke-width="0.5"/>
<circle cx="607.7" cy="476.3" r="1.4" fill="#f59020" stroke="#c05a10" stroke-width="0.5"/>
<circle cx="633.4" cy="477.2" r="1.4" fill="#f59020" stroke="#c05a10" stroke-width="0.5"/>
<circle cx="642.1" cy="474.9" r="1.4" fill="#f59020" stroke="#c05a10" stroke-width="0.5"/>
<circle cx="654.6" cy="473.8" r="1.4" fill="#f59020" stroke="#c05a10" stroke-width="0.5"/>
<circle cx="664.4" cy="476.3" r="1.4" fill="#f59020" stroke="#c05a10" stroke-width="0.5"/>
<circle cx="591.5" cy="483.6" r="1.4" fill="#f59020" stroke="#c05a10" stroke-width="0.5"/>
<circle cx="611.1" cy="485" r="1.4" fill="#f59020" stroke="#c05a10" stroke-width="0.5"/>
<circle cx="644" cy="483.6" r="1.4" fill="#f59020" stroke="#c05a10" stroke-width="0.5"/>
<circle cx="664.1" cy="483.3" r="1.4" fill="#f59020" stroke="#c05a10" stroke-width="0.5"/>
<circle cx="630.9" cy="491.1" r="1.4" fill="#f59020" stroke="#c05a10" stroke-width="0.5"/>
<circle cx="647.7" cy="489.7" r="1.4" fill="#f59020" stroke="#c05a10" stroke-width="0.5"/>
<circle cx="594.9" cy="498.7" r="1.4" fill="#f59020" stroke="#c05a10" stroke-width="0.5"/>
<circle cx="614.1" cy="496.7" r="1.4" fill="#f59020" stroke="#c05a10" stroke-width="0.5"/>
<circle cx="630.6" cy="501.5" r="1.4" fill="#f59020" stroke="#c05a10" stroke-width="0.5"/>
<circle cx="646.8" cy="501.5" r="1.4" fill="#f59020" stroke="#c05a10" stroke-width="0.5"/>
<circle cx="615.5" cy="509.9" r="1.4" fill="#f59020" stroke="#c05a10" stroke-width="0.5"/>
<circle cx="660.8" cy="510.7" r="1.4" fill="#f59020" stroke="#c05a10" stroke-width="0.5"/>
<circle cx="679.8" cy="390.6" r="1.4" fill="#f59020" stroke="#c05a10" stroke-width="0.5"/>
<circle cx="723.6" cy="398.4" r="1.4" fill="#f59020" stroke="#c05a10" stroke-width="0.5"/>
<circle cx="681.2" cy="404.6" r="1.4" fill="#f59020" stroke="#c05a10" stroke-width="0.5"/>
<circle cx="693.7" cy="408.5" r="1.4" fill="#f59020" stroke="#c05a10" stroke-width="0.5"/>
<circle cx="715.3" cy="407.9" r="1.4" fill="#f59020" stroke="#c05a10" stroke-width="0.5"/>
<circle cx="740.4" cy="407.9" r="1.4" fill="#f59020" stroke="#c05a10" stroke-width="0.5"/>
<circle cx="678.9" cy="418" r="1.4" fill="#f59020" stroke="#c05a10" stroke-width="0.5"/>
<circle cx="691.8" cy="418.5" r="1.4" fill="#f59020" stroke="#c05a10" stroke-width="0.5"/>
<circle cx="704.9" cy="417.1" r="1.4" fill="#f59020" stroke="#c05a10" stroke-width="0.5"/>
<circle cx="766.4" cy="426.3" r="1.4" fill="#f59020" stroke="#c05a10" stroke-width="0.5"/>
<circle cx="694.6" cy="425.5" r="1.4" fill="#f59020" stroke="#c05a10" stroke-width="0.5"/>
<circle cx="705.5" cy="427.7" r="1.4" fill="#f59020" stroke="#c05a10" stroke-width="0.5"/>
<circle cx="715.3" cy="428.9" r="1.4" fill="#f59020" stroke="#c05a10" stroke-width="0.5"/>
<circle cx="685.4" cy="432.5" r="1.4" fill="#f59020" stroke="#c05a10" stroke-width="0.5"/>
<circle cx="736.5" cy="432.5" r="1.4" fill="#f59020" stroke="#c05a10" stroke-width="0.5"/>
<circle cx="722.5" cy="435.6" r="1.4" fill="#f59020" stroke="#c05a10" stroke-width="0.5"/>
<circle cx="706.9" cy="439.5" r="1.4" fill="#f59020" stroke="#c05a10" stroke-width="0.5"/>
<circle cx="734.2" cy="439.5" r="1.4" fill="#f59020" stroke="#c05a10" stroke-width="0.5"/>
<circle cx="777.5" cy="441.4" r="1.4" fill="#f59020" stroke="#c05a10" stroke-width="0.5"/>
<circle cx="693.7" cy="441.7" r="1.4" fill="#f59020" stroke="#c05a10" stroke-width="0.5"/>
<circle cx="705.8" cy="447.8" r="1.4" fill="#f59020" stroke="#c05a10" stroke-width="0.5"/>
<circle cx="722.2" cy="452" r="1.4" fill="#f59020" stroke="#c05a10" stroke-width="0.5"/>
<circle cx="749.6" cy="448.4" r="1.4" fill="#f59020" stroke="#c05a10" stroke-width="0.5"/>
<circle cx="709.1" cy="461" r="1.4" fill="#f59020" stroke="#c05a10" stroke-width="0.5"/>
<circle cx="732" cy="460.4" r="1.4" fill="#f59020" stroke="#c05a10" stroke-width="0.5"/>
<circle cx="706.3" cy="466" r="1.4" fill="#f59020" stroke="#c05a10" stroke-width="0.5"/>
<circle cx="721.1" cy="463.2" r="1.4" fill="#f59020" stroke="#c05a10" stroke-width="0.5"/>
<circle cx="703" cy="470.2" r="1.4" fill="#f59020" stroke="#c05a10" stroke-width="0.5"/>
<circle cx="713.3" cy="471.6" r="1.4" fill="#f59020" stroke="#c05a10" stroke-width="0.5"/>
<circle cx="699.6" cy="474.9" r="1.4" fill="#f59020" stroke="#c05a10" stroke-width="0.5"/>
<circle cx="749.1" cy="474.4" r="1.4" fill="#f59020" stroke="#c05a10" stroke-width="0.5"/>
<circle cx="774.2" cy="470.2" r="1.4" fill="#f59020" stroke="#c05a10" stroke-width="0.5"/>
<circle cx="673.4" cy="478.6" r="1.4" fill="#f59020" stroke="#c05a10" stroke-width="0.5"/>
<circle cx="689" cy="477.7" r="1.4" fill="#f59020" stroke="#c05a10" stroke-width="0.5"/>
<circle cx="709.1" cy="478.9" r="1.4" fill="#f59020" stroke="#c05a10" stroke-width="0.5"/>
<circle cx="731.5" cy="478.6" r="1.4" fill="#f59020" stroke="#c05a10" stroke-width="0.5"/>
<circle cx="678.4" cy="484.2" r="1.4" fill="#f59020" stroke="#c05a10" stroke-width="0.5"/>
<circle cx="695.1" cy="485" r="1.4" fill="#f59020" stroke="#c05a10" stroke-width="0.5"/>
<circle cx="704.9" cy="484.2" r="1.4" fill="#f59020" stroke="#c05a10" stroke-width="0.5"/>
<circle cx="718.9" cy="484.2" r="1.4" fill="#f59020" stroke="#c05a10" stroke-width="0.5"/>
<circle cx="767.2" cy="482.8" r="1.4" fill="#f59020" stroke="#c05a10" stroke-width="0.5"/>
<circle cx="732" cy="487.5" r="1.4" fill="#f59020" stroke="#c05a10" stroke-width="0.5"/>
<circle cx="723.1" cy="495.3" r="1.4" fill="#f59020" stroke="#c05a10" stroke-width="0.5"/>
<circle cx="697.9" cy="498.7" r="1.4" fill="#f59020" stroke="#c05a10" stroke-width="0.5"/>
<circle cx="687.3" cy="502.3" r="1.4" fill="#f59020" stroke="#c05a10" stroke-width="0.5"/>
<circle cx="681.2" cy="512.1" r="1.4" fill="#f59020" stroke="#c05a10" stroke-width="0.5"/>
<circle cx="725.3" cy="514.1" r="1.4" fill="#f59020" stroke="#c05a10" stroke-width="0.5"/>
<circle cx="683.4" cy="524.7" r="1.4" fill="#f59020" stroke="#c05a10" stroke-width="0.5"/>
<circle cx="663" cy="454.8" r="1.4" fill="#f59020" stroke="#c05a10" stroke-width="0.5"/>
<circle cx="663" cy="457" r="1.4" fill="#f59020" stroke="#c05a10" stroke-width="0.5"/>
<circle cx="662.6" cy="460.7" r="1.4" fill="#f59020" stroke="#c05a10" stroke-width="0.5"/>
<circle cx="663.8" cy="462.8" r="1.4" fill="#f59020" stroke="#c05a10" stroke-width="0.5"/>
<circle cx="665.1" cy="464.5" r="1.4" fill="#f59020" stroke="#c05a10" stroke-width="0.5"/>
<circle cx="667.2" cy="466.2" r="1.4" fill="#f59020" stroke="#c05a10" stroke-width="0.5"/>
<circle cx="666.4" cy="450.2" r="1.4" fill="#f59020" stroke="#c05a10" stroke-width="0.5"/>
<circle cx="673.5" cy="447.6" r="1.4" fill="#f59020" stroke="#c05a10" stroke-width="0.5"/>
<circle cx="680.3" cy="447.6" r="1.4" fill="#f59020" stroke="#c05a10" stroke-width="0.5"/>
<circle cx="687.4" cy="450.2" r="1.4" fill="#f59020" stroke="#c05a10" stroke-width="0.5"/>
<circle cx="689.1" cy="451.4" r="1.4" fill="#f59020" stroke="#c05a10" stroke-width="0.5"/>
<circle cx="691.6" cy="455.6" r="1.4" fill="#f59020" stroke="#c05a10" stroke-width="0.5"/>
<circle cx="691.6" cy="457.4" r="1.4" fill="#f59020" stroke="#c05a10" stroke-width="0.5"/>
<circle cx="694.6" cy="458.6" r="1.4" fill="#f59020" stroke="#c05a10" stroke-width="0.5"/>
<circle cx="676.9" cy="453.1" r="1.4" fill="#f59020" stroke="#c05a10" stroke-width="0.5"/>
<circle cx="678.2" cy="458.8" r="1.4" fill="#f59020" stroke="#c05a10" stroke-width="0.5"/>
<circle cx="669.3" cy="459.4" r="1.4" fill="#f59020" stroke="#c05a10" stroke-width="0.5"/>
<circle cx="679" cy="462.8" r="1.4" fill="#f59020" stroke="#c05a10" stroke-width="0.5"/>
<circle cx="687" cy="462" r="1.4" fill="#f59020" stroke="#c05a10" stroke-width="0.5"/>
<circle cx="691.2" cy="462.4" r="1.4" fill="#f59020" stroke="#c05a10" stroke-width="0.5"/>
<circle cx="683.6" cy="464.5" r="1.4" fill="#f59020" stroke="#c05a10" stroke-width="0.5"/>
<circle cx="673.5" cy="466.2" r="1.4" fill="#f59020" stroke="#c05a10" stroke-width="0.5"/>
<circle cx="679.4" cy="468.7" r="1.4" fill="#f59020" stroke="#c05a10" stroke-width="0.5"/>
<circle cx="666.4" cy="414.3" r="1.3" fill="#1c8ff0"/>
<circle cx="599.3" cy="429.7" r="1.3" fill="#1c8ff0"/>
<circle cx="641.2" cy="435.3" r="1.3" fill="#1c8ff0"/>
<circle cx="605.5" cy="438.6" r="1.3" fill="#1c8ff0"/>
<circle cx="630.6" cy="438.6" r="1.3" fill="#1c8ff0"/>
<circle cx="581.7" cy="453.2" r="1.3" fill="#1c8ff0"/>
<circle cx="640.7" cy="457.6" r="1.3" fill="#1c8ff0"/>
<circle cx="603.5" cy="460.4" r="1.3" fill="#1c8ff0"/>
<circle cx="647.7" cy="462.4" r="1.3" fill="#1c8ff0"/>
<circle cx="614.1" cy="466.8" r="1.3" fill="#1c8ff0"/>
<circle cx="575.6" cy="469.6" r="1.3" fill="#1c8ff0"/>
<circle cx="626.7" cy="483.6" r="1.3" fill="#1c8ff0"/>
<circle cx="659.4" cy="487.8" r="1.3" fill="#1c8ff0"/>
<circle cx="674.7" cy="493.9" r="1.3" fill="#1c8ff0"/>
<circle cx="665" cy="497.3" r="1.3" fill="#1c8ff0"/>
<circle cx="672.8" cy="503.7" r="1.3" fill="#1c8ff0"/>
<circle cx="635.6" cy="516.3" r="1.3" fill="#1c8ff0"/>
<circle cx="655.8" cy="523.3" r="1.3" fill="#1c8ff0"/>
<circle cx="701.3" cy="395.1" r="1.3" fill="#1c8ff0"/>
<circle cx="751.6" cy="417.1" r="1.3" fill="#1c8ff0"/>
<circle cx="718.9" cy="419.1" r="1.3" fill="#1c8ff0"/>
<circle cx="732.8" cy="422.2" r="1.3" fill="#1c8ff0"/>
<circle cx="697.4" cy="433.3" r="1.3" fill="#1c8ff0"/>
<circle cx="753.2" cy="433.9" r="1.3" fill="#1c8ff0"/>
<circle cx="719.7" cy="444.5" r="1.3" fill="#1c8ff0"/>
<circle cx="706.3" cy="450.9" r="1.3" fill="#1c8ff0"/>
<circle cx="732.8" cy="448.7" r="1.3" fill="#1c8ff0"/>
<circle cx="712.5" cy="455.4" r="1.3" fill="#1c8ff0"/>
<circle cx="776.1" cy="455.4" r="1.3" fill="#1c8ff0"/>
<circle cx="746.8" cy="463.8" r="1.3" fill="#1c8ff0"/>
<circle cx="760.2" cy="462.4" r="1.3" fill="#1c8ff0"/>
<circle cx="734.2" cy="469.4" r="1.3" fill="#1c8ff0"/>
<circle cx="722.5" cy="473.8" r="1.3" fill="#1c8ff0"/>
<circle cx="746.8" cy="484.2" r="1.3" fill="#1c8ff0"/>
<circle cx="688.2" cy="492" r="1.3" fill="#1c8ff0"/>
<circle cx="707.7" cy="492.5" r="1.3" fill="#1c8ff0"/>
<circle cx="741.2" cy="496.2" r="1.3" fill="#1c8ff0"/>
<circle cx="761.6" cy="498.1" r="1.3" fill="#1c8ff0"/>
<circle cx="716.1" cy="503.7" r="1.3" fill="#1c8ff0"/>
<circle cx="703" cy="507.9" r="1.3" fill="#1c8ff0"/>
<circle cx="744.9" cy="507.9" r="1.3" fill="#1c8ff0"/>
<circle cx="709.1" cy="520.5" r="1.3" fill="#1c8ff0"/>
<circle cx="674.8" cy="447.8" r="1.3" fill="#1c8ff0"/>
<circle cx="682" cy="448.5" r="1.3" fill="#1c8ff0"/>
<circle cx="690.8" cy="453.1" r="1.3" fill="#1c8ff0"/>
<circle cx="671.4" cy="455.2" r="1.3" fill="#1c8ff0"/>
<circle cx="671.4" cy="457.2" r="1.3" fill="#1c8ff0"/>
<circle cx="677.3" cy="458.2" r="1.3" fill="#1c8ff0"/>
<circle cx="680.3" cy="457.9" r="1.3" fill="#1c8ff0"/>
<circle cx="689.1" cy="460.7" r="1.3" fill="#1c8ff0"/>
<circle cx="691.6" cy="464.9" r="1.3" fill="#1c8ff0"/>
<circle cx="669.3" cy="464.9" r="1.3" fill="#1c8ff0"/>
<circle cx="675.6" cy="464.7" r="1.3" fill="#1c8ff0"/>
<circle cx="674.4" cy="469.4" r="1.3" fill="#1c8ff0"/>
<circle cx="684.9" cy="467" r="1.3" fill="#1c8ff0"/>
<circle cx="688.3" cy="467.7" r="1.3" fill="#1c8ff0"/>
<path d="M614.8,137 C618,131 630,124 640.3,122 C648,121 654,125 655,133 C656,140 652,148 645.2,151.6 C640,152 636,147 630.6,144.3 C625,142 616,143 614.8,137 Z" fill="#e0e0e0" stroke="#333" stroke-width="0.9" />
<path d="M667.1,200.3 C670,195 680,194 691.5,202.8 C700,208 710,214 709.7,222.2 C709,230 700,233 686.6,232 C677,231 670,224 667.1,214.9 C665,210 665,204 667.1,200.3 Z" fill="#e0e0e0" stroke="#333" stroke-width="0.9" />
<circle cx="619.6" cy="138.3" r="2.5" fill="#ff0000" stroke="#900" stroke-width="0.6"/>
<circle cx="624.5" cy="136.6" r="3.4" fill="#ff0000" stroke="#900" stroke-width="0.6"/>
<circle cx="630.6" cy="133.4" r="3.5" fill="#ff0000" stroke="#900" stroke-width="0.6"/>
<circle cx="637.9" cy="132.2" r="4.5" fill="#ff0000" stroke="#900" stroke-width="0.6"/>
<circle cx="640.3" cy="129.7" r="5" fill="#ff0000" stroke="#900" stroke-width="0.6"/>
<circle cx="641.5" cy="135.8" r="4" fill="#ff0000" stroke="#900" stroke-width="0.6"/>
<circle cx="642.3" cy="143.1" r="4.5" fill="#ff0000" stroke="#900" stroke-width="0.6"/>
<line x1="642.5" y1="147" x2="681" y2="210" stroke="#111" stroke-width="1.7" stroke-dasharray="1.4,1.3"/>
<polygon points="684,214.5 678.5,210.5 682.3,208.3" fill="#111"/>
<circle cx="673.2" cy="205.2" r="2.5" fill="#1ee61e" stroke="#0a8a0a" stroke-width="0.6"/>
<circle cx="676.8" cy="210.1" r="3" fill="#1ee61e" stroke="#0a8a0a" stroke-width="0.6"/>
<circle cx="679.3" cy="212.5" r="3.5" fill="#1ee61e" stroke="#0a8a0a" stroke-width="0.6"/>
<circle cx="684.1" cy="217.4" r="4" fill="#1ee61e" stroke="#0a8a0a" stroke-width="0.6"/>
<circle cx="686.6" cy="219.8" r="4" fill="#1ee61e" stroke="#0a8a0a" stroke-width="0.6"/>
<circle cx="692.7" cy="217.4" r="4.5" fill="#1ee61e" stroke="#0a8a0a" stroke-width="0.6"/>
<circle cx="698.8" cy="221" r="5" fill="#1ee61e" stroke="#0a8a0a" stroke-width="0.6"/>
<circle cx="676.8" cy="222.2" r="3.5" fill="#1ee61e" stroke="#0a8a0a" stroke-width="0.6"/>
<circle cx="681.7" cy="224.7" r="3.5" fill="#1ee61e" stroke="#0a8a0a" stroke-width="0.6"/>
<circle cx="691.5" cy="224.7" r="3.5" fill="#1ee61e" stroke="#0a8a0a" stroke-width="0.6"/>
<circle cx="684.1" cy="225.9" r="3" fill="#1ee61e" stroke="#0a8a0a" stroke-width="0.6"/>
<path d="M554.5,193.4 Q552,195.5 553.8,198.5 L566.5,219 Q568,222 565.5,223.2 Q568.5,223 570.5,225.8 L585.5,241.8 Q588,244.5 592,244.2" fill="none" stroke="#111" stroke-width="1.4" />
<text x="510.6" y="138.8" font-size="13.5" fill="#111" textLength="89.4" lengthAdjust="spacingAndGlyphs" >top institutions</text>
<text x="510.6" y="155.1" font-size="13.5" fill="#111" textLength="82" lengthAdjust="spacingAndGlyphs" >in the Vis area</text>
<text x="461.9" y="222.1" font-size="13.5" fill="#111" textLength="92.7" lengthAdjust="spacingAndGlyphs" >institutions that</text>
<text x="461.9" y="237.9" font-size="13.5" fill="#111" textLength="104.5" lengthAdjust="spacingAndGlyphs" >perform similar in</text>
<text x="461.9" y="253.4" font-size="13.5" fill="#111" textLength="91.5" lengthAdjust="spacingAndGlyphs" >these two areas</text>
<text x="663.8" y="253" font-size="13.5" fill="#111" textLength="89.4" lengthAdjust="spacingAndGlyphs" >top institutions</text>
<text x="663.8" y="269.3" font-size="13.5" fill="#111" textLength="115.9" lengthAdjust="spacingAndGlyphs" >in the Graphics area</text>
<text x="469.9" y="451.4" font-size="13.5" fill="#111" textLength="92.7" lengthAdjust="spacingAndGlyphs" >institutions that</text>
<text x="469.9" y="467.1" font-size="13.5" fill="#111" textLength="89" lengthAdjust="spacingAndGlyphs" >have no papers</text>
<text x="469.9" y="483.7" font-size="13.5" fill="#111" textLength="77" lengthAdjust="spacingAndGlyphs" >in either area</text>
<rect x="795.2" y="11.4" width="244.8" height="16.7" fill="#d6d6d6" />
<rect x="795.2" y="16.3" width="244.8" height="5.8" fill="#ffb43a" />
<path d="M797.2,16.8 Q800.2,19.2 797.2,21.6" fill="none" stroke="#ffd890" stroke-width="0.7" />
<path d="M800.4,16.8 Q803.4,19.2 800.4,21.6" fill="none" stroke="#ffd890" stroke-width="0.7" />
<path d="M803.6,16.8 Q806.6,19.2 803.6,21.6" fill="none" stroke="#ffd890" stroke-width="0.7" />
<path d="M806.8,16.8 Q809.8,19.2 806.8,21.6" fill="none" stroke="#ffd890" stroke-width="0.7" />
<path d="M810,16.8 Q813,19.2 810,21.6" fill="none" stroke="#ffd890" stroke-width="0.7" />
<path d="M813.2,16.8 Q816.2,19.2 813.2,21.6" fill="none" stroke="#ffd890" stroke-width="0.7" />
<path d="M816.4,16.8 Q819.4,19.2 816.4,21.6" fill="none" stroke="#ffd890" stroke-width="0.7" />
<path d="M819.6,16.8 Q822.6,19.2 819.6,21.6" fill="none" stroke="#ffd890" stroke-width="0.7" />
<path d="M822.8,16.8 Q825.8,19.2 822.8,21.6" fill="none" stroke="#ffd890" stroke-width="0.7" />
<path d="M826,16.8 Q829,19.2 826,21.6" fill="none" stroke="#ffd890" stroke-width="0.7" />
<path d="M829.2,16.8 Q832.2,19.2 829.2,21.6" fill="none" stroke="#ffd890" stroke-width="0.7" />
<path d="M832.4,16.8 Q835.4,19.2 832.4,21.6" fill="none" stroke="#ffd890" stroke-width="0.7" />
<path d="M835.6,16.8 Q838.6,19.2 835.6,21.6" fill="none" stroke="#ffd890" stroke-width="0.7" />
<path d="M838.8,16.8 Q841.8,19.2 838.8,21.6" fill="none" stroke="#ffd890" stroke-width="0.7" />
<path d="M842,16.8 Q845,19.2 842,21.6" fill="none" stroke="#ffd890" stroke-width="0.7" />
<path d="M845.2,16.8 Q848.2,19.2 845.2,21.6" fill="none" stroke="#ffd890" stroke-width="0.7" />
<path d="M848.4,16.8 Q851.4,19.2 848.4,21.6" fill="none" stroke="#ffd890" stroke-width="0.7" />
<path d="M851.6,16.8 Q854.6,19.2 851.6,21.6" fill="none" stroke="#ffd890" stroke-width="0.7" />
<path d="M854.8,16.8 Q857.8,19.2 854.8,21.6" fill="none" stroke="#ffd890" stroke-width="0.7" />
<path d="M858,16.8 Q861,19.2 858,21.6" fill="none" stroke="#ffd890" stroke-width="0.7" />
<path d="M861.2,16.8 Q864.2,19.2 861.2,21.6" fill="none" stroke="#ffd890" stroke-width="0.7" />
<path d="M864.4,16.8 Q867.4,19.2 864.4,21.6" fill="none" stroke="#ffd890" stroke-width="0.7" />
<path d="M867.6,16.8 Q870.6,19.2 867.6,21.6" fill="none" stroke="#ffd890" stroke-width="0.7" />
<path d="M870.8,16.8 Q873.8,19.2 870.8,21.6" fill="none" stroke="#ffd890" stroke-width="0.7" />
<path d="M874,16.8 Q877,19.2 874,21.6" fill="none" stroke="#ffd890" stroke-width="0.7" />
<path d="M877.2,16.8 Q880.2,19.2 877.2,21.6" fill="none" stroke="#ffd890" stroke-width="0.7" />
<path d="M880.4,16.8 Q883.4,19.2 880.4,21.6" fill="none" stroke="#ffd890" stroke-width="0.7" />
<path d="M883.6,16.8 Q886.6,19.2 883.6,21.6" fill="none" stroke="#ffd890" stroke-width="0.7" />
<path d="M886.8,16.8 Q889.8,19.2 886.8,21.6" fill="none" stroke="#ffd890" stroke-width="0.7" />
<path d="M890,16.8 Q893,19.2 890,21.6" fill="none" stroke="#ffd890" stroke-width="0.7" />
<path d="M893.2,16.8 Q896.2,19.2 893.2,21.6" fill="none" stroke="#ffd890" stroke-width="0.7" />
<path d="M896.4,16.8 Q899.4,19.2 896.4,21.6" fill="none" stroke="#ffd890" stroke-width="0.7" />
<path d="M899.6,16.8 Q902.6,19.2 899.6,21.6" fill="none" stroke="#ffd890" stroke-width="0.7" />
<path d="M902.8,16.8 Q905.8,19.2 902.8,21.6" fill="none" stroke="#ffd890" stroke-width="0.7" />
<path d="M906,16.8 Q909,19.2 906,21.6" fill="none" stroke="#ffd890" stroke-width="0.7" />
<path d="M909.2,16.8 Q912.2,19.2 909.2,21.6" fill="none" stroke="#ffd890" stroke-width="0.7" />
<path d="M912.4,16.8 Q915.4,19.2 912.4,21.6" fill="none" stroke="#ffd890" stroke-width="0.7" />
<path d="M915.6,16.8 Q918.6,19.2 915.6,21.6" fill="none" stroke="#ffd890" stroke-width="0.7" />
<path d="M918.8,16.8 Q921.8,19.2 918.8,21.6" fill="none" stroke="#ffd890" stroke-width="0.7" />
<path d="M922,16.8 Q925,19.2 922,21.6" fill="none" stroke="#ffd890" stroke-width="0.7" />
<path d="M925.2,16.8 Q928.2,19.2 925.2,21.6" fill="none" stroke="#ffd890" stroke-width="0.7" />
<path d="M928.4,16.8 Q931.4,19.2 928.4,21.6" fill="none" stroke="#ffd890" stroke-width="0.7" />
<path d="M931.6,16.8 Q934.6,19.2 931.6,21.6" fill="none" stroke="#ffd890" stroke-width="0.7" />
<path d="M934.8,16.8 Q937.8,19.2 934.8,21.6" fill="none" stroke="#ffd890" stroke-width="0.7" />
<path d="M938,16.8 Q941,19.2 938,21.6" fill="none" stroke="#ffd890" stroke-width="0.7" />
<path d="M941.2,16.8 Q944.2,19.2 941.2,21.6" fill="none" stroke="#ffd890" stroke-width="0.7" />
<path d="M944.4,16.8 Q947.4,19.2 944.4,21.6" fill="none" stroke="#ffd890" stroke-width="0.7" />
<path d="M947.6,16.8 Q950.6,19.2 947.6,21.6" fill="none" stroke="#ffd890" stroke-width="0.7" />
<path d="M950.8,16.8 Q953.8,19.2 950.8,21.6" fill="none" stroke="#ffd890" stroke-width="0.7" />
<path d="M954,16.8 Q957,19.2 954,21.6" fill="none" stroke="#ffd890" stroke-width="0.7" />
<path d="M957.2,16.8 Q960.2,19.2 957.2,21.6" fill="none" stroke="#ffd890" stroke-width="0.7" />
<path d="M960.4,16.8 Q963.4,19.2 960.4,21.6" fill="none" stroke="#ffd890" stroke-width="0.7" />
<path d="M963.6,16.8 Q966.6,19.2 963.6,21.6" fill="none" stroke="#ffd890" stroke-width="0.7" />
<path d="M966.8,16.8 Q969.8,19.2 966.8,21.6" fill="none" stroke="#ffd890" stroke-width="0.7" />
<path d="M970,16.8 Q973,19.2 970,21.6" fill="none" stroke="#ffd890" stroke-width="0.7" />
<path d="M973.2,16.8 Q976.2,19.2 973.2,21.6" fill="none" stroke="#ffd890" stroke-width="0.7" />
<path d="M976.4,16.8 Q979.4,19.2 976.4,21.6" fill="none" stroke="#ffd890" stroke-width="0.7" />
<path d="M979.6,16.8 Q982.6,19.2 979.6,21.6" fill="none" stroke="#ffd890" stroke-width="0.7" />
<path d="M982.8,16.8 Q985.8,19.2 982.8,21.6" fill="none" stroke="#ffd890" stroke-width="0.7" />
<path d="M986,16.8 Q989,19.2 986,21.6" fill="none" stroke="#ffd890" stroke-width="0.7" />
<path d="M989.2,16.8 Q992.2,19.2 989.2,21.6" fill="none" stroke="#ffd890" stroke-width="0.7" />
<path d="M992.4,16.8 Q995.4,19.2 992.4,21.6" fill="none" stroke="#ffd890" stroke-width="0.7" />
<path d="M995.6,16.8 Q998.6,19.2 995.6,21.6" fill="none" stroke="#ffd890" stroke-width="0.7" />
<path d="M998.8,16.8 Q1001.8,19.2 998.8,21.6" fill="none" stroke="#ffd890" stroke-width="0.7" />
<path d="M1002,16.8 Q1005,19.2 1002,21.6" fill="none" stroke="#ffd890" stroke-width="0.7" />
<path d="M1005.2,16.8 Q1008.2,19.2 1005.2,21.6" fill="none" stroke="#ffd890" stroke-width="0.7" />
<path d="M1008.4,16.8 Q1011.4,19.2 1008.4,21.6" fill="none" stroke="#ffd890" stroke-width="0.7" />
<path d="M1011.6,16.8 Q1014.6,19.2 1011.6,21.6" fill="none" stroke="#ffd890" stroke-width="0.7" />
<path d="M1014.8,16.8 Q1017.8,19.2 1014.8,21.6" fill="none" stroke="#ffd890" stroke-width="0.7" />
<path d="M1018,16.8 Q1021,19.2 1018,21.6" fill="none" stroke="#ffd890" stroke-width="0.7" />
<path d="M1021.2,16.8 Q1024.2,19.2 1021.2,21.6" fill="none" stroke="#ffd890" stroke-width="0.7" />
<path d="M1024.4,16.8 Q1027.4,19.2 1024.4,21.6" fill="none" stroke="#ffd890" stroke-width="0.7" />
<path d="M1027.6,16.8 Q1030.6,19.2 1027.6,21.6" fill="none" stroke="#ffd890" stroke-width="0.7" />
<path d="M1030.8,16.8 Q1033.8,19.2 1030.8,21.6" fill="none" stroke="#ffd890" stroke-width="0.7" />
<path d="M1034,16.8 Q1037,19.2 1034,21.6" fill="none" stroke="#ffd890" stroke-width="0.7" />
<path d="M1037.2,16.8 Q1040.2,19.2 1037.2,21.6" fill="none" stroke="#ffd890" stroke-width="0.7" />
<text x="923.2" y="23.3" font-size="12" fill="#111" font-weight="bold" textLength="99.8" lengthAdjust="spacingAndGlyphs" >filtering results row</text>
<rect x="795.2" y="31" width="5.3" height="12.2" fill="#c6dbef" />
<line x1="800.5" y1="42.7" x2="1040" y2="42.7" stroke="#e6e6e6" stroke-width="1" />
<g filter="url(#bl)">
<rect x="797.5" y="34.3" width="32" height="5.6" rx="2.8" fill="url(#fade)"/>
<circle cx="819.5" cy="37.1" r="2.7" fill="#000" fill-opacity="0.80"/>
<circle cx="823.1" cy="37.1" r="2.7" fill="#000" fill-opacity="0.61"/>
<circle cx="826.7" cy="37.1" r="2.7" fill="#000" fill-opacity="0.56"/>
<circle cx="829.7" cy="37.1" r="2.7" fill="#000" fill-opacity="0.17"/>
<circle cx="833.8" cy="37.1" r="2.7" fill="#000" fill-opacity="0.19"/>
<circle cx="838.1" cy="37.1" r="2.7" fill="#000" fill-opacity="0.46"/>
<circle cx="841.9" cy="37.1" r="2.7" fill="#000" fill-opacity="0.11"/>
<circle cx="845.6" cy="37.1" r="2.7" fill="#000" fill-opacity="0.22"/>
<circle cx="848.7" cy="37.1" r="2.7" fill="#000" fill-opacity="0.20"/>
<circle cx="852.2" cy="37.1" r="2.7" fill="#000" fill-opacity="0.28"/>
<circle cx="856.1" cy="37.1" r="2.7" fill="#000" fill-opacity="0.21"/>
<circle cx="859.6" cy="37.1" r="2.7" fill="#000" fill-opacity="0.17"/>
<circle cx="864" cy="37.1" r="2.7" fill="#000" fill-opacity="0.20"/>
<circle cx="867.3" cy="37.1" r="2.7" fill="#000" fill-opacity="0.13"/>
<circle cx="870.2" cy="37.1" r="2.7" fill="#000" fill-opacity="0.16"/>
<circle cx="874.4" cy="37.1" r="2.7" fill="#000" fill-opacity="0.11"/>
<circle cx="878.5" cy="37.1" r="2.7" fill="#000" fill-opacity="0.08"/>
<circle cx="882.8" cy="37.1" r="2.7" fill="#000" fill-opacity="0.09"/>
<circle cx="886.2" cy="37.1" r="2.7" fill="#000" fill-opacity="0.08"/>
<circle cx="890.3" cy="37.1" r="2.7" fill="#000" fill-opacity="0.08"/>
<circle cx="893.6" cy="37.1" r="2.7" fill="#000" fill-opacity="0.08"/>
<circle cx="896.6" cy="37.1" r="2.7" fill="#000" fill-opacity="0.08"/>
<circle cx="899.5" cy="37.1" r="2.7" fill="#000" fill-opacity="0.08"/>
<circle cx="966.2" cy="37.1" r="2.5" fill="#000" fill-opacity="0.22"/>
<circle cx="1000" cy="37.1" r="2.5" fill="#000" fill-opacity="0.15"/>
<circle cx="949.9" cy="37.1" r="2.5" fill="#000" fill-opacity="0.15"/>
<circle cx="1028.7" cy="37.1" r="2.5" fill="#000" fill-opacity="0.10"/>
<circle cx="1012.4" cy="37.1" r="2.5" fill="#000" fill-opacity="0.22"/>
<circle cx="977.1" cy="37.1" r="2.5" fill="#000" fill-opacity="0.22"/>
<circle cx="902.6" cy="37.1" r="2.5" fill="#000" fill-opacity="0.12"/>
<circle cx="1029.5" cy="37.1" r="2.5" fill="#000" fill-opacity="0.17"/>
<circle cx="1035" cy="37.1" r="2.5" fill="#000" fill-opacity="0.12"/>
</g>
<rect x="795.2" y="43.2" width="5.3" height="12.2" fill="#9ecae1" />
<line x1="800.5" y1="54.9" x2="1040" y2="54.9" stroke="#e6e6e6" stroke-width="1" />
<g filter="url(#bl)">
<rect x="797.5" y="46.5" width="33.3" height="5.6" rx="2.8" fill="url(#fade)"/>
<circle cx="820.8" cy="49.3" r="2.7" fill="#000" fill-opacity="0.49"/>
<circle cx="823.7" cy="49.3" r="2.7" fill="#000" fill-opacity="0.58"/>
<circle cx="827.1" cy="49.3" r="2.7" fill="#000" fill-opacity="0.37"/>
<circle cx="830.9" cy="49.3" r="2.7" fill="#000" fill-opacity="0.31"/>
<circle cx="834.7" cy="49.3" r="2.7" fill="#000" fill-opacity="0.29"/>
<circle cx="838.8" cy="49.3" r="2.7" fill="#000" fill-opacity="0.25"/>
<circle cx="842.6" cy="49.3" r="2.7" fill="#000" fill-opacity="0.24"/>
<circle cx="846.4" cy="49.3" r="2.7" fill="#000" fill-opacity="0.11"/>
<circle cx="850.2" cy="49.3" r="2.7" fill="#000" fill-opacity="0.21"/>
<circle cx="853.6" cy="49.3" r="2.7" fill="#000" fill-opacity="0.08"/>
<circle cx="856.5" cy="49.3" r="2.7" fill="#000" fill-opacity="0.12"/>
<circle cx="859.7" cy="49.3" r="2.7" fill="#000" fill-opacity="0.16"/>
<circle cx="863.2" cy="49.3" r="2.7" fill="#000" fill-opacity="0.15"/>
<circle cx="866.8" cy="49.3" r="2.7" fill="#000" fill-opacity="0.13"/>
<circle cx="869.8" cy="49.3" r="2.7" fill="#000" fill-opacity="0.10"/>
<circle cx="873.6" cy="49.3" r="2.7" fill="#000" fill-opacity="0.08"/>
<circle cx="877.9" cy="49.3" r="2.7" fill="#000" fill-opacity="0.08"/>
<circle cx="881.3" cy="49.3" r="2.7" fill="#000" fill-opacity="0.08"/>
<circle cx="884.6" cy="49.3" r="2.7" fill="#000" fill-opacity="0.08"/>
<circle cx="887.5" cy="49.3" r="2.7" fill="#000" fill-opacity="0.08"/>
<circle cx="890.9" cy="49.3" r="2.7" fill="#000" fill-opacity="0.08"/>
<circle cx="895.2" cy="49.3" r="2.7" fill="#000" fill-opacity="0.08"/>
<circle cx="898.7" cy="49.3" r="2.7" fill="#000" fill-opacity="0.08"/>
<circle cx="901.6" cy="49.3" r="2.7" fill="#000" fill-opacity="0.08"/>
<circle cx="904.5" cy="49.3" r="2.7" fill="#000" fill-opacity="0.08"/>
<circle cx="907.4" cy="49.3" r="2.7" fill="#000" fill-opacity="0.08"/>
<circle cx="910.3" cy="49.3" r="2.7" fill="#000" fill-opacity="0.08"/>
<circle cx="913.3" cy="49.3" r="2.7" fill="#000" fill-opacity="0.08"/>
<circle cx="1018.5" cy="49.3" r="2.5" fill="#000" fill-opacity="0.20"/>
<circle cx="962.4" cy="49.3" r="2.5" fill="#000" fill-opacity="0.19"/>
<circle cx="1014.2" cy="49.3" r="2.5" fill="#000" fill-opacity="0.17"/>
<circle cx="986.5" cy="49.3" r="2.5" fill="#000" fill-opacity="0.15"/>
<circle cx="981.6" cy="49.3" r="2.5" fill="#000" fill-opacity="0.17"/>
<circle cx="923.3" cy="49.3" r="2.5" fill="#000" fill-opacity="0.18"/>
<circle cx="1029.2" cy="49.3" r="2.5" fill="#000" fill-opacity="0.21"/>
<circle cx="998.5" cy="49.3" r="2.5" fill="#000" fill-opacity="0.15"/>
<circle cx="1035" cy="49.3" r="2.5" fill="#000" fill-opacity="0.12"/>
</g>
<rect x="795.2" y="55.4" width="5.3" height="12.2" fill="#6baed6" />
<line x1="800.5" y1="67.1" x2="1040" y2="67.1" stroke="#e6e6e6" stroke-width="1" />
<g filter="url(#bl)">
<rect x="797.5" y="58.7" width="35.1" height="5.6" rx="2.8" fill="url(#fade)"/>
<circle cx="822.6" cy="61.5" r="2.7" fill="#000" fill-opacity="0.63"/>
<circle cx="825.5" cy="61.5" r="2.7" fill="#000" fill-opacity="0.27"/>
<circle cx="829.3" cy="61.5" r="2.7" fill="#000" fill-opacity="0.52"/>
<circle cx="833.2" cy="61.5" r="2.7" fill="#000" fill-opacity="0.47"/>
<circle cx="837.5" cy="61.5" r="2.7" fill="#000" fill-opacity="0.14"/>
<circle cx="840.8" cy="61.5" r="2.7" fill="#000" fill-opacity="0.41"/>
<circle cx="843.8" cy="61.5" r="2.7" fill="#000" fill-opacity="0.42"/>
<circle cx="847.3" cy="61.5" r="2.7" fill="#000" fill-opacity="0.37"/>
<circle cx="851.2" cy="61.5" r="2.7" fill="#000" fill-opacity="0.23"/>
<circle cx="855.3" cy="61.5" r="2.7" fill="#000" fill-opacity="0.30"/>
<circle cx="858.7" cy="61.5" r="2.7" fill="#000" fill-opacity="0.23"/>
<circle cx="861.7" cy="61.5" r="2.7" fill="#000" fill-opacity="0.20"/>
<circle cx="865.9" cy="61.5" r="2.7" fill="#000" fill-opacity="0.20"/>
<circle cx="869.1" cy="61.5" r="2.7" fill="#000" fill-opacity="0.13"/>
<circle cx="872.4" cy="61.5" r="2.7" fill="#000" fill-opacity="0.12"/>
<circle cx="876.2" cy="61.5" r="2.7" fill="#000" fill-opacity="0.13"/>
<circle cx="880.3" cy="61.5" r="2.7" fill="#000" fill-opacity="0.14"/>
<circle cx="883.2" cy="61.5" r="2.7" fill="#000" fill-opacity="0.08"/>
<circle cx="886.1" cy="61.5" r="2.7" fill="#000" fill-opacity="0.11"/>
<circle cx="889.4" cy="61.5" r="2.7" fill="#000" fill-opacity="0.08"/>
<circle cx="892.4" cy="61.5" r="2.7" fill="#000" fill-opacity="0.08"/>
<circle cx="896.5" cy="61.5" r="2.7" fill="#000" fill-opacity="0.08"/>
<circle cx="899.4" cy="61.5" r="2.7" fill="#000" fill-opacity="0.08"/>
<circle cx="903.2" cy="61.5" r="2.7" fill="#000" fill-opacity="0.08"/>
<circle cx="907.5" cy="61.5" r="2.7" fill="#000" fill-opacity="0.08"/>
<circle cx="911.1" cy="61.5" r="2.7" fill="#000" fill-opacity="0.08"/>
<circle cx="914.7" cy="61.5" r="2.7" fill="#000" fill-opacity="0.08"/>
<circle cx="917.9" cy="61.5" r="2.7" fill="#000" fill-opacity="0.08"/>
<circle cx="921.5" cy="61.5" r="2.7" fill="#000" fill-opacity="0.08"/>
<circle cx="925" cy="61.5" r="2.7" fill="#000" fill-opacity="0.08"/>
<circle cx="964.8" cy="61.5" r="2.5" fill="#000" fill-opacity="0.15"/>
<circle cx="944.5" cy="61.5" r="2.5" fill="#000" fill-opacity="0.21"/>
<circle cx="924.2" cy="61.5" r="2.5" fill="#000" fill-opacity="0.17"/>
<circle cx="993" cy="61.5" r="2.5" fill="#000" fill-opacity="0.16"/>
<circle cx="1010.8" cy="61.5" r="2.5" fill="#000" fill-opacity="0.14"/>
<circle cx="958.3" cy="61.5" r="2.5" fill="#000" fill-opacity="0.22"/>
<circle cx="934" cy="61.5" r="2.5" fill="#000" fill-opacity="0.20"/>
<circle cx="1008.5" cy="61.5" r="2.5" fill="#000" fill-opacity="0.21"/>
<circle cx="936.7" cy="61.5" r="2.5" fill="#000" fill-opacity="0.13"/>
<circle cx="965.1" cy="61.5" r="2.5" fill="#000" fill-opacity="0.11"/>
<circle cx="1035" cy="61.5" r="2.5" fill="#000" fill-opacity="0.12"/>
</g>
<rect x="795.2" y="67.6" width="5.3" height="12.2" fill="#3182bd" />
<line x1="800.5" y1="79.4" x2="1040" y2="79.4" stroke="#e6e6e6" stroke-width="1" />
<g filter="url(#bl)">
<rect x="797.5" y="70.9" width="30.4" height="5.6" rx="2.8" fill="url(#fade)"/>
<circle cx="817.9" cy="73.7" r="2.7" fill="#000" fill-opacity="0.83"/>
<circle cx="821.9" cy="73.7" r="2.7" fill="#000" fill-opacity="0.44"/>
<circle cx="824.7" cy="73.7" r="2.7" fill="#000" fill-opacity="0.51"/>
<circle cx="828" cy="73.7" r="2.7" fill="#000" fill-opacity="0.63"/>
<circle cx="832.1" cy="73.7" r="2.7" fill="#000" fill-opacity="0.18"/>
<circle cx="835.8" cy="73.7" r="2.7" fill="#000" fill-opacity="0.46"/>
<circle cx="839.4" cy="73.7" r="2.7" fill="#000" fill-opacity="0.48"/>
<circle cx="843" cy="73.7" r="2.7" fill="#000" fill-opacity="0.38"/>
<circle cx="847.2" cy="73.7" r="2.7" fill="#000" fill-opacity="0.32"/>
<circle cx="851.2" cy="73.7" r="2.7" fill="#000" fill-opacity="0.27"/>
<circle cx="855.3" cy="73.7" r="2.7" fill="#000" fill-opacity="0.10"/>
<circle cx="859" cy="73.7" r="2.7" fill="#000" fill-opacity="0.28"/>
<circle cx="862.8" cy="73.7" r="2.7" fill="#000" fill-opacity="0.26"/>
<circle cx="866.6" cy="73.7" r="2.7" fill="#000" fill-opacity="0.08"/>
<circle cx="870.3" cy="73.7" r="2.7" fill="#000" fill-opacity="0.15"/>
<circle cx="873.7" cy="73.7" r="2.7" fill="#000" fill-opacity="0.08"/>
<circle cx="877.1" cy="73.7" r="2.7" fill="#000" fill-opacity="0.08"/>
<circle cx="881.4" cy="73.7" r="2.7" fill="#000" fill-opacity="0.13"/>
<circle cx="884.4" cy="73.7" r="2.7" fill="#000" fill-opacity="0.08"/>
<circle cx="888.7" cy="73.7" r="2.7" fill="#000" fill-opacity="0.10"/>
<circle cx="892.8" cy="73.7" r="2.7" fill="#000" fill-opacity="0.08"/>
<circle cx="896.4" cy="73.7" r="2.7" fill="#000" fill-opacity="0.08"/>
<circle cx="900.7" cy="73.7" r="2.7" fill="#000" fill-opacity="0.09"/>
<circle cx="903.6" cy="73.7" r="2.7" fill="#000" fill-opacity="0.08"/>
<circle cx="906.8" cy="73.7" r="2.7" fill="#000" fill-opacity="0.08"/>
<circle cx="909.7" cy="73.7" r="2.7" fill="#000" fill-opacity="0.08"/>
<circle cx="913" cy="73.7" r="2.7" fill="#000" fill-opacity="0.08"/>
<circle cx="916.6" cy="73.7" r="2.7" fill="#000" fill-opacity="0.08"/>
<circle cx="920.7" cy="73.7" r="2.7" fill="#000" fill-opacity="0.08"/>
<circle cx="924.6" cy="73.7" r="2.7" fill="#000" fill-opacity="0.08"/>
<circle cx="980.3" cy="73.7" r="2.5" fill="#000" fill-opacity="0.12"/>
<circle cx="946" cy="73.7" r="2.5" fill="#000" fill-opacity="0.18"/>
<circle cx="991.8" cy="73.7" r="2.5" fill="#000" fill-opacity="0.16"/>
<circle cx="1014.3" cy="73.7" r="2.5" fill="#000" fill-opacity="0.17"/>
<circle cx="1014.9" cy="73.7" r="2.5" fill="#000" fill-opacity="0.13"/>
<circle cx="1002.6" cy="73.7" r="2.5" fill="#000" fill-opacity="0.20"/>
<circle cx="1019.7" cy="73.7" r="2.5" fill="#000" fill-opacity="0.14"/>
<circle cx="957.7" cy="73.7" r="2.5" fill="#000" fill-opacity="0.21"/>
<circle cx="947.4" cy="73.7" r="2.5" fill="#000" fill-opacity="0.22"/>
<circle cx="1018.1" cy="73.7" r="2.5" fill="#000" fill-opacity="0.12"/>
<circle cx="949.7" cy="73.7" r="2.5" fill="#000" fill-opacity="0.19"/>
<circle cx="1035" cy="73.7" r="2.5" fill="#000" fill-opacity="0.12"/>
</g>
<rect x="795.2" y="79.9" width="5.3" height="12.2" fill="#08519c" />
<line x1="800.5" y1="91.6" x2="1040" y2="91.6" stroke="#e6e6e6" stroke-width="1" />
<g filter="url(#bl)">
<rect x="797.5" y="83.2" width="29.9" height="5.6" rx="2.8" fill="url(#fade)"/>
<circle cx="817.4" cy="86" r="2.7" fill="#000" fill-opacity="0.73"/>
<circle cx="821.4" cy="86" r="2.7" fill="#000" fill-opacity="0.42"/>
<circle cx="825.3" cy="86" r="2.7" fill="#000" fill-opacity="0.34"/>
<circle cx="829.2" cy="86" r="2.7" fill="#000" fill-opacity="0.49"/>
<circle cx="832.2" cy="86" r="2.7" fill="#000" fill-opacity="0.36"/>
<circle cx="835.8" cy="86" r="2.7" fill="#000" fill-opacity="0.35"/>
<circle cx="838.7" cy="86" r="2.7" fill="#000" fill-opacity="0.09"/>
<circle cx="842.4" cy="86" r="2.7" fill="#000" fill-opacity="0.25"/>
<circle cx="845.4" cy="86" r="2.7" fill="#000" fill-opacity="0.18"/>
<circle cx="849.6" cy="86" r="2.7" fill="#000" fill-opacity="0.24"/>
<circle cx="852.5" cy="86" r="2.7" fill="#000" fill-opacity="0.13"/>
<circle cx="856.1" cy="86" r="2.7" fill="#000" fill-opacity="0.17"/>
<circle cx="859.6" cy="86" r="2.7" fill="#000" fill-opacity="0.13"/>
<circle cx="863.4" cy="86" r="2.7" fill="#000" fill-opacity="0.08"/>
<circle cx="867.5" cy="86" r="2.7" fill="#000" fill-opacity="0.08"/>
<circle cx="871.5" cy="86" r="2.7" fill="#000" fill-opacity="0.08"/>
<circle cx="874.6" cy="86" r="2.7" fill="#000" fill-opacity="0.08"/>
<circle cx="878.8" cy="86" r="2.7" fill="#000" fill-opacity="0.08"/>
<circle cx="883" cy="86" r="2.7" fill="#000" fill-opacity="0.08"/>
<circle cx="886.7" cy="86" r="2.7" fill="#000" fill-opacity="0.08"/>
<circle cx="890.8" cy="86" r="2.7" fill="#000" fill-opacity="0.08"/>
<circle cx="894.8" cy="86" r="2.7" fill="#000" fill-opacity="0.08"/>
<circle cx="898.3" cy="86" r="2.7" fill="#000" fill-opacity="0.08"/>
<circle cx="902.2" cy="86" r="2.7" fill="#000" fill-opacity="0.08"/>
<circle cx="905.6" cy="86" r="2.7" fill="#000" fill-opacity="0.08"/>
<circle cx="909" cy="86" r="2.7" fill="#000" fill-opacity="0.08"/>
<circle cx="912.3" cy="86" r="2.7" fill="#000" fill-opacity="0.08"/>
<circle cx="915.5" cy="86" r="2.7" fill="#000" fill-opacity="0.08"/>
<circle cx="918.9" cy="86" r="2.7" fill="#000" fill-opacity="0.08"/>
<circle cx="922.5" cy="86" r="2.7" fill="#000" fill-opacity="0.08"/>
<circle cx="926.3" cy="86" r="2.7" fill="#000" fill-opacity="0.08"/>
<circle cx="937.1" cy="86" r="2.5" fill="#000" fill-opacity="0.11"/>
<circle cx="949.9" cy="86" r="2.5" fill="#000" fill-opacity="0.15"/>
<circle cx="978" cy="86" r="2.5" fill="#000" fill-opacity="0.19"/>
<circle cx="993" cy="86" r="2.5" fill="#000" fill-opacity="0.10"/>
<circle cx="952.1" cy="86" r="2.5" fill="#000" fill-opacity="0.13"/>
<circle cx="1035" cy="86" r="2.5" fill="#000" fill-opacity="0.12"/>
</g>
<rect x="795.2" y="92.1" width="5.3" height="12.2" fill="#c7e9c0" />
<line x1="800.5" y1="103.8" x2="1040" y2="103.8" stroke="#e6e6e6" stroke-width="1" />
<g filter="url(#bl)">
<rect x="797.5" y="95.4" width="30.7" height="5.6" rx="2.8" fill="url(#fade)"/>
<circle cx="818.2" cy="98.2" r="2.7" fill="#000" fill-opacity="0.62"/>
<circle cx="822.4" cy="98.2" r="2.7" fill="#000" fill-opacity="0.44"/>
<circle cx="826.2" cy="98.2" r="2.7" fill="#000" fill-opacity="0.52"/>
<circle cx="830.6" cy="98.2" r="2.7" fill="#000" fill-opacity="0.42"/>
<circle cx="834" cy="98.2" r="2.7" fill="#000" fill-opacity="0.50"/>
<circle cx="837.6" cy="98.2" r="2.7" fill="#000" fill-opacity="0.38"/>
<circle cx="841.2" cy="98.2" r="2.7" fill="#000" fill-opacity="0.28"/>
<circle cx="844.5" cy="98.2" r="2.7" fill="#000" fill-opacity="0.29"/>
<circle cx="847.8" cy="98.2" r="2.7" fill="#000" fill-opacity="0.32"/>
<circle cx="851.8" cy="98.2" r="2.7" fill="#000" fill-opacity="0.17"/>
<circle cx="855.5" cy="98.2" r="2.7" fill="#000" fill-opacity="0.22"/>
<circle cx="859.4" cy="98.2" r="2.7" fill="#000" fill-opacity="0.14"/>
<circle cx="862.8" cy="98.2" r="2.7" fill="#000" fill-opacity="0.17"/>
<circle cx="866.1" cy="98.2" r="2.7" fill="#000" fill-opacity="0.17"/>
<circle cx="870.1" cy="98.2" r="2.7" fill="#000" fill-opacity="0.11"/>
<circle cx="873" cy="98.2" r="2.7" fill="#000" fill-opacity="0.09"/>
<circle cx="877.2" cy="98.2" r="2.7" fill="#000" fill-opacity="0.08"/>
<circle cx="880.4" cy="98.2" r="2.7" fill="#000" fill-opacity="0.08"/>
<circle cx="883.9" cy="98.2" r="2.7" fill="#000" fill-opacity="0.08"/>
<circle cx="887.3" cy="98.2" r="2.7" fill="#000" fill-opacity="0.08"/>
<circle cx="890.3" cy="98.2" r="2.7" fill="#000" fill-opacity="0.08"/>
<circle cx="894.1" cy="98.2" r="2.7" fill="#000" fill-opacity="0.08"/>
<circle cx="898.1" cy="98.2" r="2.7" fill="#000" fill-opacity="0.08"/>
<circle cx="901.4" cy="98.2" r="2.7" fill="#000" fill-opacity="0.08"/>
<circle cx="905" cy="98.2" r="2.7" fill="#000" fill-opacity="0.08"/>
<circle cx="909.1" cy="98.2" r="2.7" fill="#000" fill-opacity="0.08"/>
<circle cx="913.1" cy="98.2" r="2.7" fill="#000" fill-opacity="0.08"/>
<circle cx="916.3" cy="98.2" r="2.7" fill="#000" fill-opacity="0.08"/>
<circle cx="919.9" cy="98.2" r="2.7" fill="#000" fill-opacity="0.08"/>
<circle cx="923.8" cy="98.2" r="2.7" fill="#000" fill-opacity="0.08"/>
<circle cx="990.5" cy="98.2" r="2.5" fill="#000" fill-opacity="0.11"/>
<circle cx="981.9" cy="98.2" r="2.5" fill="#000" fill-opacity="0.11"/>
<circle cx="934.1" cy="98.2" r="2.5" fill="#000" fill-opacity="0.18"/>
<circle cx="982.8" cy="98.2" r="2.5" fill="#000" fill-opacity="0.18"/>
<circle cx="964.2" cy="98.2" r="2.5" fill="#000" fill-opacity="0.16"/>
<circle cx="1035" cy="98.2" r="2.5" fill="#000" fill-opacity="0.12"/>
</g>
<rect x="795.2" y="104.3" width="5.3" height="12.2" fill="#b5e0ad" />
<line x1="800.5" y1="116" x2="1040" y2="116" stroke="#e6e6e6" stroke-width="1" />
<g filter="url(#bl)">
<rect x="797.5" y="107.6" width="29.3" height="5.6" rx="2.8" fill="url(#fade)"/>
<circle cx="816.8" cy="110.4" r="2.7" fill="#000" fill-opacity="0.72"/>
<circle cx="819.7" cy="110.4" r="2.7" fill="#000" fill-opacity="0.45"/>
<circle cx="823.5" cy="110.4" r="2.7" fill="#000" fill-opacity="0.58"/>
<circle cx="827" cy="110.4" r="2.7" fill="#000" fill-opacity="0.39"/>
<circle cx="830.4" cy="110.4" r="2.7" fill="#000" fill-opacity="0.44"/>
<circle cx="833.7" cy="110.4" r="2.7" fill="#000" fill-opacity="0.37"/>
<circle cx="838" cy="110.4" r="2.7" fill="#000" fill-opacity="0.30"/>
<circle cx="841" cy="110.4" r="2.7" fill="#000" fill-opacity="0.14"/>
<circle cx="843.9" cy="110.4" r="2.7" fill="#000" fill-opacity="0.27"/>
<circle cx="847.8" cy="110.4" r="2.7" fill="#000" fill-opacity="0.20"/>
<circle cx="850.7" cy="110.4" r="2.7" fill="#000" fill-opacity="0.17"/>
<circle cx="853.6" cy="110.4" r="2.7" fill="#000" fill-opacity="0.17"/>
<circle cx="857.5" cy="110.4" r="2.7" fill="#000" fill-opacity="0.08"/>
<circle cx="860.9" cy="110.4" r="2.7" fill="#000" fill-opacity="0.17"/>
<circle cx="863.9" cy="110.4" r="2.7" fill="#000" fill-opacity="0.15"/>
<circle cx="868.2" cy="110.4" r="2.7" fill="#000" fill-opacity="0.14"/>
<circle cx="871.7" cy="110.4" r="2.7" fill="#000" fill-opacity="0.12"/>
<circle cx="875" cy="110.4" r="2.7" fill="#000" fill-opacity="0.09"/>
<circle cx="879.2" cy="110.4" r="2.7" fill="#000" fill-opacity="0.08"/>
<circle cx="882.6" cy="110.4" r="2.7" fill="#000" fill-opacity="0.08"/>
<circle cx="886" cy="110.4" r="2.7" fill="#000" fill-opacity="0.08"/>
<circle cx="890.1" cy="110.4" r="2.7" fill="#000" fill-opacity="0.08"/>
<circle cx="893.8" cy="110.4" r="2.7" fill="#000" fill-opacity="0.08"/>
<circle cx="898" cy="110.4" r="2.7" fill="#000" fill-opacity="0.08"/>
<circle cx="901.6" cy="110.4" r="2.7" fill="#000" fill-opacity="0.08"/>
<circle cx="906" cy="110.4" r="2.7" fill="#000" fill-opacity="0.08"/>
<circle cx="908.9" cy="110.4" r="2.7" fill="#000" fill-opacity="0.08"/>
<circle cx="911.8" cy="110.4" r="2.7" fill="#000" fill-opacity="0.08"/>
<circle cx="916.1" cy="110.4" r="2.7" fill="#000" fill-opacity="0.08"/>
<circle cx="919.1" cy="110.4" r="2.7" fill="#000" fill-opacity="0.08"/>
<circle cx="922.3" cy="110.4" r="2.7" fill="#000" fill-opacity="0.08"/>
<circle cx="925.9" cy="110.4" r="2.7" fill="#000" fill-opacity="0.08"/>
<circle cx="995.6" cy="110.4" r="2.5" fill="#000" fill-opacity="0.16"/>
<circle cx="981.4" cy="110.4" r="2.5" fill="#000" fill-opacity="0.19"/>
<circle cx="999.4" cy="110.4" r="2.5" fill="#000" fill-opacity="0.21"/>
<circle cx="968.1" cy="110.4" r="2.5" fill="#000" fill-opacity="0.20"/>
<circle cx="995" cy="110.4" r="2.5" fill="#000" fill-opacity="0.20"/>
<circle cx="1009.6" cy="110.4" r="2.5" fill="#000" fill-opacity="0.20"/>
<circle cx="1018.3" cy="110.4" r="2.5" fill="#000" fill-opacity="0.21"/>
<circle cx="1035" cy="110.4" r="2.5" fill="#000" fill-opacity="0.12"/>
</g>
<rect x="795.2" y="116.5" width="5.3" height="12.2" fill="#a1d99b" />
<line x1="800.5" y1="128.2" x2="1040" y2="128.2" stroke="#e6e6e6" stroke-width="1" />
<g filter="url(#bl)">
<rect x="797.5" y="119.8" width="34" height="5.6" rx="2.8" fill="url(#fade)"/>
<circle cx="821.5" cy="122.6" r="2.7" fill="#000" fill-opacity="0.72"/>
<circle cx="825" cy="122.6" r="2.7" fill="#000" fill-opacity="0.55"/>
<circle cx="829" cy="122.6" r="2.7" fill="#000" fill-opacity="0.65"/>
<circle cx="832.1" cy="122.6" r="2.7" fill="#000" fill-opacity="0.39"/>
<circle cx="835.3" cy="122.6" r="2.7" fill="#000" fill-opacity="0.21"/>
<circle cx="838.6" cy="122.6" r="2.7" fill="#000" fill-opacity="0.30"/>
<circle cx="842.7" cy="122.6" r="2.7" fill="#000" fill-opacity="0.11"/>
<circle cx="846.2" cy="122.6" r="2.7" fill="#000" fill-opacity="0.32"/>
<circle cx="849.1" cy="122.6" r="2.7" fill="#000" fill-opacity="0.22"/>
<circle cx="852.2" cy="122.6" r="2.7" fill="#000" fill-opacity="0.21"/>
<circle cx="856" cy="122.6" r="2.7" fill="#000" fill-opacity="0.08"/>
<circle cx="859.2" cy="122.6" r="2.7" fill="#000" fill-opacity="0.16"/>
<circle cx="862.5" cy="122.6" r="2.7" fill="#000" fill-opacity="0.19"/>
<circle cx="866.1" cy="122.6" r="2.7" fill="#000" fill-opacity="0.14"/>
<circle cx="870.3" cy="122.6" r="2.7" fill="#000" fill-opacity="0.13"/>
<circle cx="874.7" cy="122.6" r="2.7" fill="#000" fill-opacity="0.08"/>
<circle cx="877.6" cy="122.6" r="2.7" fill="#000" fill-opacity="0.14"/>
<circle cx="881" cy="122.6" r="2.7" fill="#000" fill-opacity="0.10"/>
<circle cx="884.2" cy="122.6" r="2.7" fill="#000" fill-opacity="0.12"/>
<circle cx="887.4" cy="122.6" r="2.7" fill="#000" fill-opacity="0.08"/>
<circle cx="890.8" cy="122.6" r="2.7" fill="#000" fill-opacity="0.09"/>
<circle cx="894.6" cy="122.6" r="2.7" fill="#000" fill-opacity="0.08"/>
<circle cx="897.9" cy="122.6" r="2.7" fill="#000" fill-opacity="0.08"/>
<circle cx="901.5" cy="122.6" r="2.7" fill="#000" fill-opacity="0.08"/>
<circle cx="904.7" cy="122.6" r="2.7" fill="#000" fill-opacity="0.08"/>
<circle cx="908.8" cy="122.6" r="2.7" fill="#000" fill-opacity="0.08"/>
<circle cx="912.9" cy="122.6" r="2.7" fill="#000" fill-opacity="0.08"/>
<circle cx="916.1" cy="122.6" r="2.7" fill="#000" fill-opacity="0.08"/>
<circle cx="919.7" cy="122.6" r="2.7" fill="#000" fill-opacity="0.08"/>
<circle cx="923.4" cy="122.6" r="2.7" fill="#000" fill-opacity="0.08"/>
<circle cx="945.3" cy="122.6" r="2.5" fill="#000" fill-opacity="0.18"/>
<circle cx="1007" cy="122.6" r="2.5" fill="#000" fill-opacity="0.15"/>
<circle cx="928.9" cy="122.6" r="2.5" fill="#000" fill-opacity="0.15"/>
<circle cx="976.9" cy="122.6" r="2.5" fill="#000" fill-opacity="0.21"/>
<circle cx="1026.2" cy="122.6" r="2.5" fill="#000" fill-opacity="0.14"/>
<circle cx="967.6" cy="122.6" r="2.5" fill="#000" fill-opacity="0.17"/>
<circle cx="1029.7" cy="122.6" r="2.5" fill="#000" fill-opacity="0.18"/>
<circle cx="932" cy="122.6" r="2.5" fill="#000" fill-opacity="0.11"/>
<circle cx="1035" cy="122.6" r="2.5" fill="#000" fill-opacity="0.12"/>
</g>
<rect x="795.2" y="128.7" width="5.3" height="12.2" fill="#86cc85" />
<line x1="800.5" y1="140.4" x2="1040" y2="140.4" stroke="#e6e6e6" stroke-width="1" />
<g filter="url(#bl)">
<rect x="797.5" y="132" width="28.5" height="5.6" rx="2.8" fill="url(#fade)"/>
<circle cx="816" cy="134.8" r="2.7" fill="#000" fill-opacity="0.72"/>
<circle cx="820.1" cy="134.8" r="2.7" fill="#000" fill-opacity="0.46"/>
<circle cx="824.3" cy="134.8" r="2.7" fill="#000" fill-opacity="0.57"/>
<circle cx="827.6" cy="134.8" r="2.7" fill="#000" fill-opacity="0.37"/>
<circle cx="831.7" cy="134.8" r="2.7" fill="#000" fill-opacity="0.49"/>
<circle cx="836" cy="134.8" r="2.7" fill="#000" fill-opacity="0.29"/>
<circle cx="840.3" cy="134.8" r="2.7" fill="#000" fill-opacity="0.37"/>
<circle cx="844.3" cy="134.8" r="2.7" fill="#000" fill-opacity="0.12"/>
<circle cx="847.4" cy="134.8" r="2.7" fill="#000" fill-opacity="0.10"/>
<circle cx="850.7" cy="134.8" r="2.7" fill="#000" fill-opacity="0.21"/>
<circle cx="854.5" cy="134.8" r="2.7" fill="#000" fill-opacity="0.21"/>
<circle cx="857.5" cy="134.8" r="2.7" fill="#000" fill-opacity="0.08"/>
<circle cx="861.3" cy="134.8" r="2.7" fill="#000" fill-opacity="0.08"/>
<circle cx="864.1" cy="134.8" r="2.7" fill="#000" fill-opacity="0.16"/>
<circle cx="867.1" cy="134.8" r="2.7" fill="#000" fill-opacity="0.11"/>
<circle cx="870.6" cy="134.8" r="2.7" fill="#000" fill-opacity="0.15"/>
<circle cx="874.7" cy="134.8" r="2.7" fill="#000" fill-opacity="0.08"/>
<circle cx="877.8" cy="134.8" r="2.7" fill="#000" fill-opacity="0.09"/>
<circle cx="881.4" cy="134.8" r="2.7" fill="#000" fill-opacity="0.12"/>
<circle cx="885.4" cy="134.8" r="2.7" fill="#000" fill-opacity="0.09"/>
<circle cx="889.4" cy="134.8" r="2.7" fill="#000" fill-opacity="0.08"/>
<circle cx="893.1" cy="134.8" r="2.7" fill="#000" fill-opacity="0.08"/>
<circle cx="896.4" cy="134.8" r="2.7" fill="#000" fill-opacity="0.08"/>
<circle cx="899.5" cy="134.8" r="2.7" fill="#000" fill-opacity="0.08"/>
<circle cx="902.5" cy="134.8" r="2.7" fill="#000" fill-opacity="0.08"/>
<circle cx="906.1" cy="134.8" r="2.7" fill="#000" fill-opacity="0.08"/>
<circle cx="923" cy="134.8" r="2.5" fill="#000" fill-opacity="0.19"/>
<circle cx="1028.4" cy="134.8" r="2.5" fill="#000" fill-opacity="0.16"/>
<circle cx="994.5" cy="134.8" r="2.5" fill="#000" fill-opacity="0.20"/>
<circle cx="929.9" cy="134.8" r="2.5" fill="#000" fill-opacity="0.21"/>
<circle cx="983.5" cy="134.8" r="2.5" fill="#000" fill-opacity="0.12"/>
<circle cx="915.7" cy="134.8" r="2.5" fill="#000" fill-opacity="0.13"/>
<circle cx="977.2" cy="134.8" r="2.5" fill="#000" fill-opacity="0.18"/>
<circle cx="946.3" cy="134.8" r="2.5" fill="#000" fill-opacity="0.21"/>
<circle cx="950.3" cy="134.8" r="2.5" fill="#000" fill-opacity="0.16"/>
<circle cx="1035" cy="134.8" r="2.5" fill="#000" fill-opacity="0.12"/>
</g>
<rect x="795.2" y="140.9" width="5.3" height="12.2" fill="#74c476" />
<line x1="800.5" y1="152.6" x2="1040" y2="152.6" stroke="#e6e6e6" stroke-width="1" />
<g filter="url(#bl)">
<rect x="797.5" y="144.2" width="28.4" height="5.6" rx="2.8" fill="url(#fade)"/>
<circle cx="815.9" cy="147" r="2.7" fill="#000" fill-opacity="0.53"/>
<circle cx="819.5" cy="147" r="2.7" fill="#000" fill-opacity="0.63"/>
<circle cx="822.8" cy="147" r="2.7" fill="#000" fill-opacity="0.68"/>
<circle cx="826.9" cy="147" r="2.7" fill="#000" fill-opacity="0.21"/>
<circle cx="831" cy="147" r="2.7" fill="#000" fill-opacity="0.40"/>
<circle cx="834.2" cy="147" r="2.7" fill="#000" fill-opacity="0.43"/>
<circle cx="837.3" cy="147" r="2.7" fill="#000" fill-opacity="0.16"/>
<circle cx="840.1" cy="147" r="2.7" fill="#000" fill-opacity="0.29"/>
<circle cx="844.4" cy="147" r="2.7" fill="#000" fill-opacity="0.34"/>
<circle cx="848.3" cy="147" r="2.7" fill="#000" fill-opacity="0.32"/>
<circle cx="852" cy="147" r="2.7" fill="#000" fill-opacity="0.12"/>
<circle cx="855.2" cy="147" r="2.7" fill="#000" fill-opacity="0.09"/>
<circle cx="858.6" cy="147" r="2.7" fill="#000" fill-opacity="0.09"/>
<circle cx="862.2" cy="147" r="2.7" fill="#000" fill-opacity="0.17"/>
<circle cx="865.5" cy="147" r="2.7" fill="#000" fill-opacity="0.08"/>
<circle cx="869.4" cy="147" r="2.7" fill="#000" fill-opacity="0.13"/>
<circle cx="873.2" cy="147" r="2.7" fill="#000" fill-opacity="0.14"/>
<circle cx="877" cy="147" r="2.7" fill="#000" fill-opacity="0.15"/>
<circle cx="881" cy="147" r="2.7" fill="#000" fill-opacity="0.12"/>
<circle cx="984.1" cy="147" r="2.5" fill="#000" fill-opacity="0.20"/>
<circle cx="899.1" cy="147" r="2.5" fill="#000" fill-opacity="0.11"/>
<circle cx="1020.9" cy="147" r="2.5" fill="#000" fill-opacity="0.14"/>
<circle cx="958.9" cy="147" r="2.5" fill="#000" fill-opacity="0.15"/>
<circle cx="885.3" cy="147" r="2.5" fill="#000" fill-opacity="0.21"/>
<circle cx="925.6" cy="147" r="2.5" fill="#000" fill-opacity="0.17"/>
<circle cx="945.9" cy="147" r="2.5" fill="#000" fill-opacity="0.15"/>
<circle cx="929.4" cy="147" r="2.5" fill="#000" fill-opacity="0.19"/>
<circle cx="1012.6" cy="147" r="2.5" fill="#000" fill-opacity="0.21"/>
<circle cx="917.9" cy="147" r="2.5" fill="#000" fill-opacity="0.20"/>
<circle cx="917.6" cy="147" r="2.5" fill="#000" fill-opacity="0.20"/>
<circle cx="1035" cy="147" r="2.5" fill="#000" fill-opacity="0.12"/>
</g>
<rect x="795.2" y="153.1" width="5.3" height="12.2" fill="#5cb86a" />
<line x1="800.5" y1="164.9" x2="1040" y2="164.9" stroke="#e6e6e6" stroke-width="1" />
<g filter="url(#bl)">
<circle cx="826" cy="159.2" r="2.7" fill="#000" fill-opacity="0.80"/>
<circle cx="829" cy="159.2" r="2.7" fill="#000" fill-opacity="0.71"/>
<circle cx="832.8" cy="159.2" r="2.7" fill="#000" fill-opacity="0.63"/>
<circle cx="837.2" cy="159.2" r="2.7" fill="#000" fill-opacity="0.49"/>
<circle cx="840.6" cy="159.2" r="2.7" fill="#000" fill-opacity="0.40"/>
<circle cx="843.7" cy="159.2" r="2.7" fill="#000" fill-opacity="0.38"/>
<circle cx="846.7" cy="159.2" r="2.7" fill="#000" fill-opacity="0.24"/>
<circle cx="849.7" cy="159.2" r="2.7" fill="#000" fill-opacity="0.35"/>
<circle cx="853.2" cy="159.2" r="2.7" fill="#000" fill-opacity="0.23"/>
<circle cx="856" cy="159.2" r="2.7" fill="#000" fill-opacity="0.19"/>
<circle cx="859.6" cy="159.2" r="2.7" fill="#000" fill-opacity="0.08"/>
<circle cx="863.5" cy="159.2" r="2.7" fill="#000" fill-opacity="0.15"/>
<circle cx="867" cy="159.2" r="2.7" fill="#000" fill-opacity="0.14"/>
<circle cx="870" cy="159.2" r="2.7" fill="#000" fill-opacity="0.17"/>
<circle cx="874.2" cy="159.2" r="2.7" fill="#000" fill-opacity="0.11"/>
<circle cx="878.1" cy="159.2" r="2.7" fill="#000" fill-opacity="0.08"/>
<circle cx="882.3" cy="159.2" r="2.7" fill="#000" fill-opacity="0.08"/>
<circle cx="886.1" cy="159.2" r="2.7" fill="#000" fill-opacity="0.09"/>
<circle cx="889.8" cy="159.2" r="2.7" fill="#000" fill-opacity="0.08"/>
<circle cx="904.9" cy="159.2" r="2.5" fill="#000" fill-opacity="0.19"/>
<circle cx="933.8" cy="159.2" r="2.5" fill="#000" fill-opacity="0.21"/>
<circle cx="1011.7" cy="159.2" r="2.5" fill="#000" fill-opacity="0.19"/>
<circle cx="908.9" cy="159.2" r="2.5" fill="#000" fill-opacity="0.18"/>
<circle cx="1021.3" cy="159.2" r="2.5" fill="#000" fill-opacity="0.15"/>
<circle cx="901.1" cy="159.2" r="2.5" fill="#000" fill-opacity="0.13"/>
<circle cx="933" cy="159.2" r="2.5" fill="#000" fill-opacity="0.19"/>
<circle cx="917.5" cy="159.2" r="2.5" fill="#000" fill-opacity="0.12"/>
<circle cx="923" cy="159.2" r="2.5" fill="#000" fill-opacity="0.18"/>
<circle cx="1000.7" cy="159.2" r="2.5" fill="#000" fill-opacity="0.14"/>
<circle cx="1035" cy="159.2" r="2.5" fill="#000" fill-opacity="0.12"/>
</g>
<rect x="795.2" y="165.4" width="5.3" height="12.2" fill="#41ab5d" />
<line x1="800.5" y1="177.1" x2="1040" y2="177.1" stroke="#e6e6e6" stroke-width="1" />
<g filter="url(#bl)">
<rect x="797.5" y="168.7" width="34.3" height="5.6" rx="2.8" fill="url(#fade)"/>
<circle cx="821.8" cy="171.5" r="2.7" fill="#000" fill-opacity="0.70"/>
<circle cx="825.1" cy="171.5" r="2.7" fill="#000" fill-opacity="0.75"/>
<circle cx="828.3" cy="171.5" r="2.7" fill="#000" fill-opacity="0.24"/>
<circle cx="832.7" cy="171.5" r="2.7" fill="#000" fill-opacity="0.48"/>
<circle cx="836.3" cy="171.5" r="2.7" fill="#000" fill-opacity="0.33"/>
<circle cx="839.6" cy="171.5" r="2.7" fill="#000" fill-opacity="0.35"/>
<circle cx="842.5" cy="171.5" r="2.7" fill="#000" fill-opacity="0.33"/>
<circle cx="845.7" cy="171.5" r="2.7" fill="#000" fill-opacity="0.30"/>
<circle cx="848.8" cy="171.5" r="2.7" fill="#000" fill-opacity="0.39"/>
<circle cx="851.7" cy="171.5" r="2.7" fill="#000" fill-opacity="0.29"/>
<circle cx="855.1" cy="171.5" r="2.7" fill="#000" fill-opacity="0.33"/>
<circle cx="858.2" cy="171.5" r="2.7" fill="#000" fill-opacity="0.25"/>
<circle cx="861.5" cy="171.5" r="2.7" fill="#000" fill-opacity="0.24"/>
<circle cx="865.2" cy="171.5" r="2.7" fill="#000" fill-opacity="0.20"/>
<circle cx="869.1" cy="171.5" r="2.7" fill="#000" fill-opacity="0.18"/>
<circle cx="872.1" cy="171.5" r="2.7" fill="#000" fill-opacity="0.08"/>
<circle cx="875.9" cy="171.5" r="2.7" fill="#000" fill-opacity="0.13"/>
<circle cx="880" cy="171.5" r="2.7" fill="#000" fill-opacity="0.16"/>
<circle cx="883.1" cy="171.5" r="2.7" fill="#000" fill-opacity="0.08"/>
<circle cx="886.9" cy="171.5" r="2.7" fill="#000" fill-opacity="0.08"/>
<circle cx="890.6" cy="171.5" r="2.7" fill="#000" fill-opacity="0.11"/>
<circle cx="894.8" cy="171.5" r="2.7" fill="#000" fill-opacity="0.08"/>
<circle cx="897.6" cy="171.5" r="2.7" fill="#000" fill-opacity="0.08"/>
<circle cx="1011" cy="171.5" r="2.5" fill="#000" fill-opacity="0.10"/>
<circle cx="912.8" cy="171.5" r="2.5" fill="#000" fill-opacity="0.12"/>
<circle cx="982.4" cy="171.5" r="2.5" fill="#000" fill-opacity="0.17"/>
<circle cx="993.2" cy="171.5" r="2.5" fill="#000" fill-opacity="0.17"/>
<circle cx="904.8" cy="171.5" r="2.5" fill="#000" fill-opacity="0.15"/>
<circle cx="989.7" cy="171.5" r="2.5" fill="#000" fill-opacity="0.20"/>
<circle cx="995.4" cy="171.5" r="2.5" fill="#000" fill-opacity="0.19"/>
<circle cx="1035" cy="171.5" r="2.5" fill="#000" fill-opacity="0.12"/>
</g>
<rect x="795.2" y="177.6" width="5.3" height="12.2" fill="#2f9a4f" />
<line x1="800.5" y1="189.3" x2="1040" y2="189.3" stroke="#e6e6e6" stroke-width="1" />
<g filter="url(#bl)">
<rect x="797.5" y="180.9" width="35.4" height="5.6" rx="2.8" fill="url(#fade)"/>
<circle cx="822.9" cy="183.7" r="2.7" fill="#000" fill-opacity="0.70"/>
<circle cx="826.3" cy="183.7" r="2.7" fill="#000" fill-opacity="0.50"/>
<circle cx="830.2" cy="183.7" r="2.7" fill="#000" fill-opacity="0.54"/>
<circle cx="833.5" cy="183.7" r="2.7" fill="#000" fill-opacity="0.45"/>
<circle cx="837.4" cy="183.7" r="2.7" fill="#000" fill-opacity="0.21"/>
<circle cx="841.4" cy="183.7" r="2.7" fill="#000" fill-opacity="0.15"/>
<circle cx="845.4" cy="183.7" r="2.7" fill="#000" fill-opacity="0.32"/>
<circle cx="848.2" cy="183.7" r="2.7" fill="#000" fill-opacity="0.28"/>
<circle cx="851.2" cy="183.7" r="2.7" fill="#000" fill-opacity="0.27"/>
<circle cx="855.5" cy="183.7" r="2.7" fill="#000" fill-opacity="0.29"/>
<circle cx="859.4" cy="183.7" r="2.7" fill="#000" fill-opacity="0.26"/>
<circle cx="862.7" cy="183.7" r="2.7" fill="#000" fill-opacity="0.15"/>
<circle cx="866.1" cy="183.7" r="2.7" fill="#000" fill-opacity="0.13"/>
<circle cx="869.4" cy="183.7" r="2.7" fill="#000" fill-opacity="0.19"/>
<circle cx="872.6" cy="183.7" r="2.7" fill="#000" fill-opacity="0.11"/>
<circle cx="877" cy="183.7" r="2.7" fill="#000" fill-opacity="0.13"/>
<circle cx="881.2" cy="183.7" r="2.7" fill="#000" fill-opacity="0.13"/>
<circle cx="884.3" cy="183.7" r="2.7" fill="#000" fill-opacity="0.11"/>
<circle cx="887.5" cy="183.7" r="2.7" fill="#000" fill-opacity="0.08"/>
<circle cx="890.9" cy="183.7" r="2.7" fill="#000" fill-opacity="0.08"/>
<circle cx="919.7" cy="183.7" r="2.5" fill="#000" fill-opacity="0.13"/>
<circle cx="956.3" cy="183.7" r="2.5" fill="#000" fill-opacity="0.14"/>
<circle cx="953.4" cy="183.7" r="2.5" fill="#000" fill-opacity="0.22"/>
<circle cx="985.6" cy="183.7" r="2.5" fill="#000" fill-opacity="0.20"/>
<circle cx="919.8" cy="183.7" r="2.5" fill="#000" fill-opacity="0.15"/>
<circle cx="901.6" cy="183.7" r="2.5" fill="#000" fill-opacity="0.18"/>
<circle cx="941.8" cy="183.7" r="2.5" fill="#000" fill-opacity="0.13"/>
<circle cx="894.1" cy="183.7" r="2.5" fill="#000" fill-opacity="0.12"/>
<circle cx="1035" cy="183.7" r="2.5" fill="#000" fill-opacity="0.12"/>
</g>
<rect x="795.2" y="189.8" width="5.3" height="12.2" fill="#238b45" />
<line x1="800.5" y1="201.5" x2="1040" y2="201.5" stroke="#e6e6e6" stroke-width="1" />
<g filter="url(#bl)">
<rect x="797.5" y="193.1" width="29.9" height="5.6" rx="2.8" fill="url(#fade)"/>
<circle cx="817.4" cy="195.9" r="2.7" fill="#000" fill-opacity="0.79"/>
<circle cx="820.6" cy="195.9" r="2.7" fill="#000" fill-opacity="0.53"/>
<circle cx="824.9" cy="195.9" r="2.7" fill="#000" fill-opacity="0.46"/>
<circle cx="828.9" cy="195.9" r="2.7" fill="#000" fill-opacity="0.22"/>
<circle cx="832.2" cy="195.9" r="2.7" fill="#000" fill-opacity="0.15"/>
<circle cx="836.4" cy="195.9" r="2.7" fill="#000" fill-opacity="0.31"/>
<circle cx="840" cy="195.9" r="2.7" fill="#000" fill-opacity="0.23"/>
<circle cx="843.2" cy="195.9" r="2.7" fill="#000" fill-opacity="0.08"/>
<circle cx="847" cy="195.9" r="2.7" fill="#000" fill-opacity="0.18"/>
<circle cx="850.4" cy="195.9" r="2.7" fill="#000" fill-opacity="0.09"/>
<circle cx="854.4" cy="195.9" r="2.7" fill="#000" fill-opacity="0.17"/>
<circle cx="858.2" cy="195.9" r="2.7" fill="#000" fill-opacity="0.14"/>
<circle cx="861.5" cy="195.9" r="2.7" fill="#000" fill-opacity="0.17"/>
<circle cx="864.9" cy="195.9" r="2.7" fill="#000" fill-opacity="0.16"/>
<circle cx="868.2" cy="195.9" r="2.7" fill="#000" fill-opacity="0.08"/>
<circle cx="871" cy="195.9" r="2.7" fill="#000" fill-opacity="0.08"/>
<circle cx="874.7" cy="195.9" r="2.7" fill="#000" fill-opacity="0.12"/>
<circle cx="878" cy="195.9" r="2.7" fill="#000" fill-opacity="0.10"/>
<circle cx="881.2" cy="195.9" r="2.7" fill="#000" fill-opacity="0.09"/>
<circle cx="885.5" cy="195.9" r="2.7" fill="#000" fill-opacity="0.08"/>
<circle cx="889.3" cy="195.9" r="2.7" fill="#000" fill-opacity="0.08"/>
<circle cx="892.7" cy="195.9" r="2.7" fill="#000" fill-opacity="0.08"/>
<circle cx="896.1" cy="195.9" r="2.7" fill="#000" fill-opacity="0.08"/>
<circle cx="899.1" cy="195.9" r="2.7" fill="#000" fill-opacity="0.08"/>
<circle cx="992.6" cy="195.9" r="2.5" fill="#000" fill-opacity="0.16"/>
<circle cx="996.6" cy="195.9" r="2.5" fill="#000" fill-opacity="0.21"/>
<circle cx="1004.5" cy="195.9" r="2.5" fill="#000" fill-opacity="0.16"/>
<circle cx="933.4" cy="195.9" r="2.5" fill="#000" fill-opacity="0.20"/>
<circle cx="940.1" cy="195.9" r="2.5" fill="#000" fill-opacity="0.21"/>
<circle cx="1017.3" cy="195.9" r="2.5" fill="#000" fill-opacity="0.11"/>
<circle cx="1018.3" cy="195.9" r="2.5" fill="#000" fill-opacity="0.21"/>
<circle cx="935.4" cy="195.9" r="2.5" fill="#000" fill-opacity="0.15"/>
<circle cx="1010.1" cy="195.9" r="2.5" fill="#000" fill-opacity="0.14"/>
<circle cx="993.5" cy="195.9" r="2.5" fill="#000" fill-opacity="0.21"/>
<circle cx="1035" cy="195.9" r="2.5" fill="#000" fill-opacity="0.12"/>
</g>
<rect x="795.2" y="202" width="5.3" height="12.2" fill="#137a3c" />
<line x1="800.5" y1="213.7" x2="1040" y2="213.7" stroke="#e6e6e6" stroke-width="1" />
<g filter="url(#bl)">
<rect x="797.5" y="205.3" width="27.8" height="5.6" rx="2.8" fill="url(#fade)"/>
<circle cx="815.3" cy="208.1" r="2.7" fill="#000" fill-opacity="0.55"/>
<circle cx="818.6" cy="208.1" r="2.7" fill="#000" fill-opacity="0.64"/>
<circle cx="822.4" cy="208.1" r="2.7" fill="#000" fill-opacity="0.44"/>
<circle cx="826.6" cy="208.1" r="2.7" fill="#000" fill-opacity="0.29"/>
<circle cx="829.8" cy="208.1" r="2.7" fill="#000" fill-opacity="0.11"/>
<circle cx="833.4" cy="208.1" r="2.7" fill="#000" fill-opacity="0.13"/>
<circle cx="836.4" cy="208.1" r="2.7" fill="#000" fill-opacity="0.27"/>
<circle cx="840.7" cy="208.1" r="2.7" fill="#000" fill-opacity="0.22"/>
<circle cx="844.6" cy="208.1" r="2.7" fill="#000" fill-opacity="0.18"/>
<circle cx="848.2" cy="208.1" r="2.7" fill="#000" fill-opacity="0.13"/>
<circle cx="851.4" cy="208.1" r="2.7" fill="#000" fill-opacity="0.14"/>
<circle cx="855" cy="208.1" r="2.7" fill="#000" fill-opacity="0.17"/>
<circle cx="857.8" cy="208.1" r="2.7" fill="#000" fill-opacity="0.13"/>
<circle cx="861.9" cy="208.1" r="2.7" fill="#000" fill-opacity="0.08"/>
<circle cx="866.1" cy="208.1" r="2.7" fill="#000" fill-opacity="0.10"/>
<circle cx="869.3" cy="208.1" r="2.7" fill="#000" fill-opacity="0.08"/>
<circle cx="873.4" cy="208.1" r="2.7" fill="#000" fill-opacity="0.08"/>
<circle cx="876.4" cy="208.1" r="2.7" fill="#000" fill-opacity="0.08"/>
<circle cx="879.8" cy="208.1" r="2.7" fill="#000" fill-opacity="0.08"/>
<circle cx="883" cy="208.1" r="2.7" fill="#000" fill-opacity="0.08"/>
<circle cx="886.9" cy="208.1" r="2.7" fill="#000" fill-opacity="0.08"/>
<circle cx="890.3" cy="208.1" r="2.7" fill="#000" fill-opacity="0.08"/>
<circle cx="894.3" cy="208.1" r="2.7" fill="#000" fill-opacity="0.08"/>
<circle cx="898.4" cy="208.1" r="2.7" fill="#000" fill-opacity="0.08"/>
<circle cx="902.5" cy="208.1" r="2.7" fill="#000" fill-opacity="0.08"/>
<circle cx="905.4" cy="208.1" r="2.7" fill="#000" fill-opacity="0.08"/>
<circle cx="909" cy="208.1" r="2.7" fill="#000" fill-opacity="0.08"/>
<circle cx="912.9" cy="208.1" r="2.7" fill="#000" fill-opacity="0.08"/>
<circle cx="916.8" cy="208.1" r="2.7" fill="#000" fill-opacity="0.08"/>
<circle cx="919.9" cy="208.1" r="2.7" fill="#000" fill-opacity="0.08"/>
<circle cx="923.6" cy="208.1" r="2.7" fill="#000" fill-opacity="0.08"/>
<circle cx="990.4" cy="208.1" r="2.5" fill="#000" fill-opacity="0.20"/>
<circle cx="1009.1" cy="208.1" r="2.5" fill="#000" fill-opacity="0.12"/>
<circle cx="964.6" cy="208.1" r="2.5" fill="#000" fill-opacity="0.18"/>
<circle cx="949.3" cy="208.1" r="2.5" fill="#000" fill-opacity="0.12"/>
<circle cx="926.4" cy="208.1" r="2.5" fill="#000" fill-opacity="0.17"/>
<circle cx="1023.8" cy="208.1" r="2.5" fill="#000" fill-opacity="0.22"/>
<circle cx="1035" cy="208.1" r="2.5" fill="#000" fill-opacity="0.12"/>
</g>
<rect x="795.2" y="214.2" width="5.3" height="12.2" fill="#006d2c" />
<line x1="800.5" y1="225.9" x2="1040" y2="225.9" stroke="#e6e6e6" stroke-width="1" />
<g filter="url(#bl)">
<rect x="797.5" y="217.5" width="28.5" height="5.6" rx="2.8" fill="url(#fade)"/>
<circle cx="816" cy="220.3" r="2.7" fill="#000" fill-opacity="0.63"/>
<circle cx="819.4" cy="220.3" r="2.7" fill="#000" fill-opacity="0.74"/>
<circle cx="822.3" cy="220.3" r="2.7" fill="#000" fill-opacity="0.61"/>
<circle cx="825.2" cy="220.3" r="2.7" fill="#000" fill-opacity="0.44"/>
<circle cx="829.5" cy="220.3" r="2.7" fill="#000" fill-opacity="0.35"/>
<circle cx="832.4" cy="220.3" r="2.7" fill="#000" fill-opacity="0.42"/>
<circle cx="835.8" cy="220.3" r="2.7" fill="#000" fill-opacity="0.33"/>
<circle cx="839.9" cy="220.3" r="2.7" fill="#000" fill-opacity="0.29"/>
<circle cx="843.7" cy="220.3" r="2.7" fill="#000" fill-opacity="0.33"/>
<circle cx="847.1" cy="220.3" r="2.7" fill="#000" fill-opacity="0.29"/>
<circle cx="851.2" cy="220.3" r="2.7" fill="#000" fill-opacity="0.08"/>
<circle cx="854.2" cy="220.3" r="2.7" fill="#000" fill-opacity="0.27"/>
<circle cx="857.8" cy="220.3" r="2.7" fill="#000" fill-opacity="0.15"/>
<circle cx="860.6" cy="220.3" r="2.7" fill="#000" fill-opacity="0.08"/>
<circle cx="864.4" cy="220.3" r="2.7" fill="#000" fill-opacity="0.14"/>
<circle cx="868" cy="220.3" r="2.7" fill="#000" fill-opacity="0.13"/>
<circle cx="870.9" cy="220.3" r="2.7" fill="#000" fill-opacity="0.10"/>
<circle cx="874.1" cy="220.3" r="2.7" fill="#000" fill-opacity="0.08"/>
<circle cx="877.7" cy="220.3" r="2.7" fill="#000" fill-opacity="0.08"/>
<circle cx="881.9" cy="220.3" r="2.7" fill="#000" fill-opacity="0.09"/>
<circle cx="886" cy="220.3" r="2.7" fill="#000" fill-opacity="0.08"/>
<circle cx="889.7" cy="220.3" r="2.7" fill="#000" fill-opacity="0.08"/>
<circle cx="892.9" cy="220.3" r="2.7" fill="#000" fill-opacity="0.09"/>
<circle cx="897.3" cy="220.3" r="2.7" fill="#000" fill-opacity="0.08"/>
<circle cx="901.3" cy="220.3" r="2.7" fill="#000" fill-opacity="0.08"/>
<circle cx="904.3" cy="220.3" r="2.7" fill="#000" fill-opacity="0.08"/>
<circle cx="907.7" cy="220.3" r="2.7" fill="#000" fill-opacity="0.08"/>
<circle cx="911.3" cy="220.3" r="2.7" fill="#000" fill-opacity="0.08"/>
<circle cx="915.7" cy="220.3" r="2.7" fill="#000" fill-opacity="0.08"/>
<circle cx="919.8" cy="220.3" r="2.7" fill="#000" fill-opacity="0.08"/>
<circle cx="923.2" cy="220.3" r="2.7" fill="#000" fill-opacity="0.08"/>
<circle cx="935.6" cy="220.3" r="2.5" fill="#000" fill-opacity="0.21"/>
<circle cx="967.2" cy="220.3" r="2.5" fill="#000" fill-opacity="0.18"/>
<circle cx="951.3" cy="220.3" r="2.5" fill="#000" fill-opacity="0.21"/>
<circle cx="927.5" cy="220.3" r="2.5" fill="#000" fill-opacity="0.17"/>
<circle cx="948.9" cy="220.3" r="2.5" fill="#000" fill-opacity="0.15"/>
<circle cx="963.8" cy="220.3" r="2.5" fill="#000" fill-opacity="0.18"/>
<circle cx="1010.1" cy="220.3" r="2.5" fill="#000" fill-opacity="0.14"/>
<circle cx="992" cy="220.3" r="2.5" fill="#000" fill-opacity="0.14"/>
<circle cx="954.3" cy="220.3" r="2.5" fill="#000" fill-opacity="0.21"/>
<circle cx="958.8" cy="220.3" r="2.5" fill="#000" fill-opacity="0.11"/>
<circle cx="960.2" cy="220.3" r="2.5" fill="#000" fill-opacity="0.19"/>
<circle cx="1035" cy="220.3" r="2.5" fill="#000" fill-opacity="0.12"/>
</g>
<rect x="795.2" y="226.4" width="5.3" height="12.2" fill="#00441b" />
<line x1="800.5" y1="238.1" x2="1040" y2="238.1" stroke="#e6e6e6" stroke-width="1" />
<g filter="url(#bl)">
<rect x="797.5" y="229.7" width="29.3" height="5.6" rx="2.8" fill="url(#fade)"/>
<circle cx="816.8" cy="232.5" r="2.7" fill="#000" fill-opacity="0.68"/>
<circle cx="819.9" cy="232.5" r="2.7" fill="#000" fill-opacity="0.47"/>
<circle cx="823.3" cy="232.5" r="2.7" fill="#000" fill-opacity="0.21"/>
<circle cx="826.9" cy="232.5" r="2.7" fill="#000" fill-opacity="0.47"/>
<circle cx="830.5" cy="232.5" r="2.7" fill="#000" fill-opacity="0.56"/>
<circle cx="834.7" cy="232.5" r="2.7" fill="#000" fill-opacity="0.35"/>
<circle cx="837.7" cy="232.5" r="2.7" fill="#000" fill-opacity="0.46"/>
<circle cx="842.1" cy="232.5" r="2.7" fill="#000" fill-opacity="0.27"/>
<circle cx="846" cy="232.5" r="2.7" fill="#000" fill-opacity="0.23"/>
<circle cx="849.9" cy="232.5" r="2.7" fill="#000" fill-opacity="0.32"/>
<circle cx="853" cy="232.5" r="2.7" fill="#000" fill-opacity="0.22"/>
<circle cx="856" cy="232.5" r="2.7" fill="#000" fill-opacity="0.23"/>
<circle cx="859.8" cy="232.5" r="2.7" fill="#000" fill-opacity="0.16"/>
<circle cx="864" cy="232.5" r="2.7" fill="#000" fill-opacity="0.20"/>
<circle cx="867.7" cy="232.5" r="2.7" fill="#000" fill-opacity="0.08"/>
<circle cx="871.8" cy="232.5" r="2.7" fill="#000" fill-opacity="0.15"/>
<circle cx="875.7" cy="232.5" r="2.7" fill="#000" fill-opacity="0.12"/>
<circle cx="878.8" cy="232.5" r="2.7" fill="#000" fill-opacity="0.12"/>
<circle cx="959.2" cy="232.5" r="2.5" fill="#000" fill-opacity="0.15"/>
<circle cx="922.6" cy="232.5" r="2.5" fill="#000" fill-opacity="0.11"/>
<circle cx="888.2" cy="232.5" r="2.5" fill="#000" fill-opacity="0.14"/>
<circle cx="960.5" cy="232.5" r="2.5" fill="#000" fill-opacity="0.14"/>
<circle cx="918.4" cy="232.5" r="2.5" fill="#000" fill-opacity="0.17"/>
<circle cx="1035" cy="232.5" r="2.5" fill="#000" fill-opacity="0.12"/>
</g>
<rect x="795.2" y="238.6" width="5.3" height="12.2" fill="#fdd0a2" />
<line x1="800.5" y1="250.4" x2="1040" y2="250.4" stroke="#e6e6e6" stroke-width="1" />
<g filter="url(#bl)">
<rect x="797.5" y="241.9" width="29.1" height="5.6" rx="2.8" fill="url(#fade)"/>
<circle cx="816.6" cy="244.7" r="2.7" fill="#000" fill-opacity="0.26"/>
<circle cx="820.9" cy="244.7" r="2.7" fill="#000" fill-opacity="0.64"/>
<circle cx="823.9" cy="244.7" r="2.7" fill="#000" fill-opacity="0.42"/>
<circle cx="828" cy="244.7" r="2.7" fill="#000" fill-opacity="0.14"/>
<circle cx="830.9" cy="244.7" r="2.7" fill="#000" fill-opacity="0.35"/>
<circle cx="834" cy="244.7" r="2.7" fill="#000" fill-opacity="0.28"/>
<circle cx="837.7" cy="244.7" r="2.7" fill="#000" fill-opacity="0.30"/>
<circle cx="840.5" cy="244.7" r="2.7" fill="#000" fill-opacity="0.29"/>
<circle cx="844.8" cy="244.7" r="2.7" fill="#000" fill-opacity="0.09"/>
<circle cx="848.3" cy="244.7" r="2.7" fill="#000" fill-opacity="0.27"/>
<circle cx="851.2" cy="244.7" r="2.7" fill="#000" fill-opacity="0.09"/>
<circle cx="855.4" cy="244.7" r="2.7" fill="#000" fill-opacity="0.10"/>
<circle cx="859.7" cy="244.7" r="2.7" fill="#000" fill-opacity="0.08"/>
<circle cx="863.1" cy="244.7" r="2.7" fill="#000" fill-opacity="0.18"/>
<circle cx="866.2" cy="244.7" r="2.7" fill="#000" fill-opacity="0.12"/>
<circle cx="870" cy="244.7" r="2.7" fill="#000" fill-opacity="0.09"/>
<circle cx="873.5" cy="244.7" r="2.7" fill="#000" fill-opacity="0.08"/>
<circle cx="877.4" cy="244.7" r="2.7" fill="#000" fill-opacity="0.10"/>
<circle cx="881.7" cy="244.7" r="2.7" fill="#000" fill-opacity="0.10"/>
<circle cx="886.1" cy="244.7" r="2.7" fill="#000" fill-opacity="0.08"/>
<circle cx="890" cy="244.7" r="2.7" fill="#000" fill-opacity="0.08"/>
<circle cx="893.9" cy="244.7" r="2.7" fill="#000" fill-opacity="0.08"/>
<circle cx="897.9" cy="244.7" r="2.7" fill="#000" fill-opacity="0.08"/>
<circle cx="900.8" cy="244.7" r="2.7" fill="#000" fill-opacity="0.08"/>
<circle cx="904.1" cy="244.7" r="2.7" fill="#000" fill-opacity="0.08"/>
<circle cx="906.9" cy="244.7" r="2.7" fill="#000" fill-opacity="0.08"/>
<circle cx="910.9" cy="244.7" r="2.7" fill="#000" fill-opacity="0.08"/>
<circle cx="914" cy="244.7" r="2.7" fill="#000" fill-opacity="0.08"/>
<circle cx="917.4" cy="244.7" r="2.7" fill="#000" fill-opacity="0.08"/>
<circle cx="1023.5" cy="244.7" r="2.5" fill="#000" fill-opacity="0.14"/>
<circle cx="996.9" cy="244.7" r="2.5" fill="#000" fill-opacity="0.13"/>
<circle cx="983" cy="244.7" r="2.5" fill="#000" fill-opacity="0.13"/>
<circle cx="1015.8" cy="244.7" r="2.5" fill="#000" fill-opacity="0.13"/>
<circle cx="1013.7" cy="244.7" r="2.5" fill="#000" fill-opacity="0.18"/>
<circle cx="1035" cy="244.7" r="2.5" fill="#000" fill-opacity="0.12"/>
</g>
<rect x="795.2" y="250.9" width="5.3" height="12.2" fill="#fd8d3c" />
<line x1="800.5" y1="262.6" x2="1040" y2="262.6" stroke="#e6e6e6" stroke-width="1" />
<g filter="url(#bl)">
<rect x="797.5" y="254.2" width="32" height="5.6" rx="2.8" fill="url(#fade)"/>
<circle cx="819.5" cy="257" r="2.7" fill="#000" fill-opacity="0.63"/>
<circle cx="823.3" cy="257" r="2.7" fill="#000" fill-opacity="0.23"/>
<circle cx="826.7" cy="257" r="2.7" fill="#000" fill-opacity="0.48"/>
<circle cx="831.1" cy="257" r="2.7" fill="#000" fill-opacity="0.43"/>
<circle cx="834.9" cy="257" r="2.7" fill="#000" fill-opacity="0.38"/>
<circle cx="838" cy="257" r="2.7" fill="#000" fill-opacity="0.50"/>
<circle cx="841.4" cy="257" r="2.7" fill="#000" fill-opacity="0.34"/>
<circle cx="845.6" cy="257" r="2.7" fill="#000" fill-opacity="0.35"/>
<circle cx="848.5" cy="257" r="2.7" fill="#000" fill-opacity="0.15"/>
<circle cx="851.9" cy="257" r="2.7" fill="#000" fill-opacity="0.26"/>
<circle cx="855.8" cy="257" r="2.7" fill="#000" fill-opacity="0.23"/>
<circle cx="860.1" cy="257" r="2.7" fill="#000" fill-opacity="0.16"/>
<circle cx="863.7" cy="257" r="2.7" fill="#000" fill-opacity="0.19"/>
<circle cx="867" cy="257" r="2.7" fill="#000" fill-opacity="0.20"/>
<circle cx="871.3" cy="257" r="2.7" fill="#000" fill-opacity="0.21"/>
<circle cx="874.8" cy="257" r="2.7" fill="#000" fill-opacity="0.18"/>
<circle cx="878.7" cy="257" r="2.7" fill="#000" fill-opacity="0.08"/>
<circle cx="882.2" cy="257" r="2.7" fill="#000" fill-opacity="0.12"/>
<circle cx="885.4" cy="257" r="2.7" fill="#000" fill-opacity="0.08"/>
<circle cx="888.8" cy="257" r="2.7" fill="#000" fill-opacity="0.08"/>
<circle cx="892.7" cy="257" r="2.7" fill="#000" fill-opacity="0.08"/>
<circle cx="896.6" cy="257" r="2.7" fill="#000" fill-opacity="0.09"/>
<circle cx="899.8" cy="257" r="2.7" fill="#000" fill-opacity="0.09"/>
<circle cx="956.3" cy="257" r="2.5" fill="#000" fill-opacity="0.12"/>
<circle cx="948.2" cy="257" r="2.5" fill="#000" fill-opacity="0.14"/>
<circle cx="1008.2" cy="257" r="2.5" fill="#000" fill-opacity="0.21"/>
<circle cx="914.2" cy="257" r="2.5" fill="#000" fill-opacity="0.15"/>
<circle cx="972.9" cy="257" r="2.5" fill="#000" fill-opacity="0.22"/>
<circle cx="1035" cy="257" r="2.5" fill="#000" fill-opacity="0.12"/>
</g>
<rect x="795.2" y="263.1" width="5.3" height="12.2" fill="#d94801" />
<line x1="800.5" y1="274.8" x2="1040" y2="274.8" stroke="#e6e6e6" stroke-width="1" />
<g filter="url(#bl)">
<rect x="797.5" y="266.4" width="35.5" height="5.6" rx="2.8" fill="url(#fade)"/>
<circle cx="823" cy="269.2" r="2.7" fill="#000" fill-opacity="0.79"/>
<circle cx="825.9" cy="269.2" r="2.7" fill="#000" fill-opacity="0.47"/>
<circle cx="829.6" cy="269.2" r="2.7" fill="#000" fill-opacity="0.43"/>
<circle cx="832.8" cy="269.2" r="2.7" fill="#000" fill-opacity="0.45"/>
<circle cx="837.1" cy="269.2" r="2.7" fill="#000" fill-opacity="0.38"/>
<circle cx="840.1" cy="269.2" r="2.7" fill="#000" fill-opacity="0.26"/>
<circle cx="844.2" cy="269.2" r="2.7" fill="#000" fill-opacity="0.11"/>
<circle cx="847.9" cy="269.2" r="2.7" fill="#000" fill-opacity="0.20"/>
<circle cx="852.2" cy="269.2" r="2.7" fill="#000" fill-opacity="0.09"/>
<circle cx="856.4" cy="269.2" r="2.7" fill="#000" fill-opacity="0.15"/>
<circle cx="859.3" cy="269.2" r="2.7" fill="#000" fill-opacity="0.18"/>
<circle cx="862.6" cy="269.2" r="2.7" fill="#000" fill-opacity="0.15"/>
<circle cx="866.2" cy="269.2" r="2.7" fill="#000" fill-opacity="0.15"/>
<circle cx="870.2" cy="269.2" r="2.7" fill="#000" fill-opacity="0.12"/>
<circle cx="873.5" cy="269.2" r="2.7" fill="#000" fill-opacity="0.08"/>
<circle cx="877.3" cy="269.2" r="2.7" fill="#000" fill-opacity="0.08"/>
<circle cx="880.5" cy="269.2" r="2.7" fill="#000" fill-opacity="0.09"/>
<circle cx="1019.1" cy="269.2" r="2.5" fill="#000" fill-opacity="0.11"/>
<circle cx="973.8" cy="269.2" r="2.5" fill="#000" fill-opacity="0.13"/>
<circle cx="970" cy="269.2" r="2.5" fill="#000" fill-opacity="0.13"/>
<circle cx="892.7" cy="269.2" r="2.5" fill="#000" fill-opacity="0.20"/>
<circle cx="937.7" cy="269.2" r="2.5" fill="#000" fill-opacity="0.18"/>
<circle cx="930.1" cy="269.2" r="2.5" fill="#000" fill-opacity="0.11"/>
<circle cx="926.7" cy="269.2" r="2.5" fill="#000" fill-opacity="0.16"/>
<circle cx="904.5" cy="269.2" r="2.5" fill="#000" fill-opacity="0.15"/>
<circle cx="928.4" cy="269.2" r="2.5" fill="#000" fill-opacity="0.20"/>
<circle cx="1035" cy="269.2" r="2.5" fill="#000" fill-opacity="0.12"/>
</g>
<rect x="795.2" y="275.3" width="5.3" height="12.2" fill="#dadaeb" />
<line x1="800.5" y1="287" x2="1040" y2="287" stroke="#e6e6e6" stroke-width="1" />
<g filter="url(#bl)">
<rect x="797.5" y="278.6" width="34.4" height="5.6" rx="2.8" fill="url(#fade)"/>
<circle cx="821.9" cy="281.4" r="2.7" fill="#000" fill-opacity="0.49"/>
<circle cx="826.2" cy="281.4" r="2.7" fill="#000" fill-opacity="0.59"/>
<circle cx="830.2" cy="281.4" r="2.7" fill="#000" fill-opacity="0.48"/>
<circle cx="833.2" cy="281.4" r="2.7" fill="#000" fill-opacity="0.52"/>
<circle cx="836.4" cy="281.4" r="2.7" fill="#000" fill-opacity="0.54"/>
<circle cx="840.5" cy="281.4" r="2.7" fill="#000" fill-opacity="0.32"/>
<circle cx="843.4" cy="281.4" r="2.7" fill="#000" fill-opacity="0.12"/>
<circle cx="847.4" cy="281.4" r="2.7" fill="#000" fill-opacity="0.29"/>
<circle cx="850.6" cy="281.4" r="2.7" fill="#000" fill-opacity="0.30"/>
<circle cx="854.9" cy="281.4" r="2.7" fill="#000" fill-opacity="0.27"/>
<circle cx="857.8" cy="281.4" r="2.7" fill="#000" fill-opacity="0.10"/>
<circle cx="861.3" cy="281.4" r="2.7" fill="#000" fill-opacity="0.18"/>
<circle cx="864.1" cy="281.4" r="2.7" fill="#000" fill-opacity="0.08"/>
<circle cx="867.4" cy="281.4" r="2.7" fill="#000" fill-opacity="0.16"/>
<circle cx="871" cy="281.4" r="2.7" fill="#000" fill-opacity="0.08"/>
<circle cx="874" cy="281.4" r="2.7" fill="#000" fill-opacity="0.13"/>
<circle cx="877.8" cy="281.4" r="2.7" fill="#000" fill-opacity="0.08"/>
<circle cx="881.4" cy="281.4" r="2.7" fill="#000" fill-opacity="0.14"/>
<circle cx="884.8" cy="281.4" r="2.7" fill="#000" fill-opacity="0.11"/>
<circle cx="888.9" cy="281.4" r="2.7" fill="#000" fill-opacity="0.08"/>
<circle cx="892.8" cy="281.4" r="2.7" fill="#000" fill-opacity="0.08"/>
<circle cx="908.8" cy="281.4" r="2.5" fill="#000" fill-opacity="0.14"/>
<circle cx="993.5" cy="281.4" r="2.5" fill="#000" fill-opacity="0.11"/>
<circle cx="908.5" cy="281.4" r="2.5" fill="#000" fill-opacity="0.20"/>
<circle cx="984.1" cy="281.4" r="2.5" fill="#000" fill-opacity="0.17"/>
<circle cx="908.2" cy="281.4" r="2.5" fill="#000" fill-opacity="0.11"/>
<circle cx="935.2" cy="281.4" r="2.5" fill="#000" fill-opacity="0.21"/>
<circle cx="969.6" cy="281.4" r="2.5" fill="#000" fill-opacity="0.21"/>
<circle cx="921.6" cy="281.4" r="2.5" fill="#000" fill-opacity="0.15"/>
<circle cx="966.3" cy="281.4" r="2.5" fill="#000" fill-opacity="0.20"/>
<circle cx="909.5" cy="281.4" r="2.5" fill="#000" fill-opacity="0.20"/>
<circle cx="957.5" cy="281.4" r="2.5" fill="#000" fill-opacity="0.10"/>
<circle cx="1035" cy="281.4" r="2.5" fill="#000" fill-opacity="0.12"/>
</g>
<line x1="795.2" y1="31" x2="1040" y2="31" stroke="#e6e6e6" stroke-width="1" />
<rect x="795.2" y="287.5" width="5.3" height="93.7" fill="#bcbddc" />
<line x1="800.5" y1="380.7" x2="1040" y2="380.7" stroke="#e6e6e6" stroke-width="1" />
<circle cx="800.7" cy="311.5" r="1.6" fill="#7b7b7b" stroke="#ffffff" stroke-width="0.35"/>
<circle cx="800.8" cy="314.8" r="1.6" fill="#7b7b7b" stroke="#ffffff" stroke-width="0.35"/>
<circle cx="800.8" cy="318.1" r="1.6" fill="#7b7b7b" stroke="#ffffff" stroke-width="0.35"/>
<circle cx="800.3" cy="321.4" r="1.6" fill="#7b7b7b" stroke="#ffffff" stroke-width="0.35"/>
<circle cx="800.5" cy="324.7" r="1.6" fill="#ff9a00" stroke="#b03a00" stroke-width="0.65"/>
<circle cx="800.3" cy="328" r="1.6" fill="#ff9a00" stroke="#b03a00" stroke-width="0.65"/>
<circle cx="800.7" cy="331.3" r="1.6" fill="#7b7b7b" stroke="#ffffff" stroke-width="0.35"/>
<circle cx="800.3" cy="334.6" r="1.6" fill="#7b7b7b" stroke="#ffffff" stroke-width="0.35"/>
<circle cx="800.2" cy="337.9" r="1.6" fill="#ff9a00" stroke="#b03a00" stroke-width="0.65"/>
<circle cx="800.3" cy="341.2" r="1.6" fill="#ff9a00" stroke="#b03a00" stroke-width="0.65"/>
<circle cx="800.8" cy="347.8" r="1.6" fill="#ff9a00" stroke="#b03a00" stroke-width="0.65"/>
<circle cx="800.3" cy="351.1" r="1.6" fill="#7b7b7b" stroke="#ffffff" stroke-width="0.35"/>
<circle cx="800.8" cy="354.4" r="1.6" fill="#7b7b7b" stroke="#ffffff" stroke-width="0.35"/>
<circle cx="800.4" cy="357.7" r="1.6" fill="#ff9a00" stroke="#b03a00" stroke-width="0.65"/>
<circle cx="803.2" cy="306.6" r="1.6" fill="#ff9a00" stroke="#b03a00" stroke-width="0.65"/>
<circle cx="803.2" cy="309.9" r="1.6" fill="#7b7b7b" stroke="#ffffff" stroke-width="0.35"/>
<circle cx="803.4" cy="313.1" r="1.6" fill="#ff9a00" stroke="#b03a00" stroke-width="0.65"/>
<circle cx="803.4" cy="316.4" r="1.6" fill="#7b7b7b" stroke="#ffffff" stroke-width="0.35"/>
<circle cx="803.2" cy="319.8" r="1.6" fill="#7b7b7b" stroke="#ffffff" stroke-width="0.35"/>
<circle cx="803.7" cy="326.4" r="1.6" fill="#7b7b7b" stroke="#ffffff" stroke-width="0.35"/>
<circle cx="803.4" cy="329.6" r="1.6" fill="#7b7b7b" stroke="#ffffff" stroke-width="0.35"/>
<circle cx="803.2" cy="332.9" r="1.6" fill="#ff9a00" stroke="#b03a00" stroke-width="0.65"/>
<circle cx="803.3" cy="336.2" r="1.6" fill="#7b7b7b" stroke="#ffffff" stroke-width="0.35"/>
<circle cx="803.8" cy="339.6" r="1.6" fill="#7b7b7b" stroke="#ffffff" stroke-width="0.35"/>
<circle cx="803.5" cy="342.9" r="1.6" fill="#ff9a00" stroke="#b03a00" stroke-width="0.65"/>
<circle cx="803.6" cy="346.1" r="1.6" fill="#ff9a00" stroke="#b03a00" stroke-width="0.65"/>
<circle cx="803.2" cy="349.4" r="1.6" fill="#7b7b7b" stroke="#ffffff" stroke-width="0.35"/>
<circle cx="803.4" cy="352.8" r="1.6" fill="#ff9a00" stroke="#b03a00" stroke-width="0.65"/>
<circle cx="803.4" cy="356.1" r="1.6" fill="#7b7b7b" stroke="#ffffff" stroke-width="0.35"/>
<circle cx="803.4" cy="359.4" r="1.6" fill="#7b7b7b" stroke="#ffffff" stroke-width="0.35"/>
<circle cx="803.2" cy="362.6" r="1.6" fill="#ff9a00" stroke="#b03a00" stroke-width="0.65"/>
<circle cx="806.8" cy="301.6" r="1.6" fill="#7b7b7b" stroke="#ffffff" stroke-width="0.35"/>
<circle cx="806.8" cy="304.9" r="1.6" fill="#ff9a00" stroke="#b03a00" stroke-width="0.65"/>
<circle cx="806.3" cy="308.2" r="1.6" fill="#7b7b7b" stroke="#ffffff" stroke-width="0.35"/>
<circle cx="806.5" cy="311.5" r="1.6" fill="#7b7b7b" stroke="#ffffff" stroke-width="0.35"/>
<circle cx="806.7" cy="314.8" r="1.6" fill="#ff9a00" stroke="#b03a00" stroke-width="0.65"/>
<circle cx="806.7" cy="318.1" r="1.6" fill="#7b7b7b" stroke="#ffffff" stroke-width="0.35"/>
<circle cx="806.8" cy="321.4" r="1.6" fill="#7b7b7b" stroke="#ffffff" stroke-width="0.35"/>
<circle cx="806.3" cy="324.7" r="1.6" fill="#7b7b7b" stroke="#ffffff" stroke-width="0.35"/>
<circle cx="806.7" cy="328" r="1.6" fill="#ff9a00" stroke="#b03a00" stroke-width="0.65"/>
<circle cx="806.8" cy="331.3" r="1.6" fill="#7b7b7b" stroke="#ffffff" stroke-width="0.35"/>
<circle cx="806.5" cy="334.6" r="1.6" fill="#7b7b7b" stroke="#ffffff" stroke-width="0.35"/>
<circle cx="806.5" cy="337.9" r="1.6" fill="#7b7b7b" stroke="#ffffff" stroke-width="0.35"/>
<circle cx="806.3" cy="341.2" r="1.6" fill="#7b7b7b" stroke="#ffffff" stroke-width="0.35"/>
<circle cx="806.8" cy="344.5" r="1.6" fill="#7b7b7b" stroke="#ffffff" stroke-width="0.35"/>
<circle cx="806.4" cy="347.8" r="1.6" fill="#7b7b7b" stroke="#ffffff" stroke-width="0.35"/>
<circle cx="806.7" cy="351.1" r="1.6" fill="#ff9a00" stroke="#b03a00" stroke-width="0.65"/>
<circle cx="806.7" cy="354.4" r="1.6" fill="#ff9a00" stroke="#b03a00" stroke-width="0.65"/>
<circle cx="806.6" cy="357.7" r="1.6" fill="#7b7b7b" stroke="#ffffff" stroke-width="0.35"/>
<circle cx="806.6" cy="361" r="1.6" fill="#ff9a00" stroke="#b03a00" stroke-width="0.65"/>
<circle cx="806.7" cy="364.3" r="1.6" fill="#7b7b7b" stroke="#ffffff" stroke-width="0.35"/>
<circle cx="806.8" cy="367.6" r="1.6" fill="#ff9a00" stroke="#b03a00" stroke-width="0.65"/>
<circle cx="809.2" cy="299.9" r="1.6" fill="#7b7b7b" stroke="#ffffff" stroke-width="0.35"/>
<circle cx="809.6" cy="303.2" r="1.6" fill="#ff9a00" stroke="#b03a00" stroke-width="0.65"/>
<circle cx="809.6" cy="306.6" r="1.6" fill="#7b7b7b" stroke="#ffffff" stroke-width="0.35"/>
<circle cx="809.6" cy="309.9" r="1.6" fill="#ff9a00" stroke="#b03a00" stroke-width="0.65"/>
<circle cx="809.4" cy="313.1" r="1.6" fill="#7b7b7b" stroke="#ffffff" stroke-width="0.35"/>
<circle cx="809.6" cy="316.4" r="1.6" fill="#7b7b7b" stroke="#ffffff" stroke-width="0.35"/>
<circle cx="809.5" cy="323.1" r="1.6" fill="#7b7b7b" stroke="#ffffff" stroke-width="0.35"/>
<circle cx="809.8" cy="326.4" r="1.6" fill="#7b7b7b" stroke="#ffffff" stroke-width="0.35"/>
<circle cx="809.6" cy="329.6" r="1.6" fill="#7b7b7b" stroke="#ffffff" stroke-width="0.35"/>
<circle cx="809.7" cy="332.9" r="1.6" fill="#ff9a00" stroke="#b03a00" stroke-width="0.65"/>
<circle cx="809.5" cy="336.2" r="1.6" fill="#7b7b7b" stroke="#ffffff" stroke-width="0.35"/>
<circle cx="809.6" cy="339.6" r="1.6" fill="#7b7b7b" stroke="#ffffff" stroke-width="0.35"/>
<circle cx="809.3" cy="342.9" r="1.6" fill="#ff9a00" stroke="#b03a00" stroke-width="0.65"/>
<circle cx="809.3" cy="346.1" r="1.6" fill="#7b7b7b" stroke="#ffffff" stroke-width="0.35"/>
<circle cx="809.2" cy="349.4" r="1.6" fill="#7b7b7b" stroke="#ffffff" stroke-width="0.35"/>
<circle cx="809.2" cy="352.8" r="1.6" fill="#ff9a00" stroke="#b03a00" stroke-width="0.65"/>
<circle cx="809.3" cy="356.1" r="1.6" fill="#ff9a00" stroke="#b03a00" stroke-width="0.65"/>
<circle cx="809.5" cy="359.4" r="1.6" fill="#ff9a00" stroke="#b03a00" stroke-width="0.65"/>
<circle cx="809.6" cy="362.6" r="1.6" fill="#7b7b7b" stroke="#ffffff" stroke-width="0.35"/>
<circle cx="809.2" cy="365.9" r="1.6" fill="#7b7b7b" stroke="#ffffff" stroke-width="0.35"/>
<circle cx="809.4" cy="369.2" r="1.6" fill="#ff9a00" stroke="#b03a00" stroke-width="0.65"/>
<circle cx="812.4" cy="295" r="1.6" fill="#7b7b7b" stroke="#ffffff" stroke-width="0.35"/>
<circle cx="812.3" cy="298.3" r="1.6" fill="#7b7b7b" stroke="#ffffff" stroke-width="0.35"/>
<circle cx="812.5" cy="301.6" r="1.6" fill="#ff9a00" stroke="#b03a00" stroke-width="0.65"/>
<circle cx="812.5" cy="304.9" r="1.6" fill="#7b7b7b" stroke="#ffffff" stroke-width="0.35"/>
<circle cx="812.4" cy="308.2" r="1.6" fill="#7b7b7b" stroke="#ffffff" stroke-width="0.35"/>
<circle cx="812.5" cy="311.5" r="1.6" fill="#7b7b7b" stroke="#ffffff" stroke-width="0.35"/>
<circle cx="812.6" cy="314.8" r="1.6" fill="#7b7b7b" stroke="#ffffff" stroke-width="0.35"/>
<circle cx="812.2" cy="318.1" r="1.6" fill="#7b7b7b" stroke="#ffffff" stroke-width="0.35"/>
<circle cx="812.6" cy="321.4" r="1.6" fill="#7b7b7b" stroke="#ffffff" stroke-width="0.35"/>
<circle cx="812.7" cy="324.7" r="1.6" fill="#7b7b7b" stroke="#ffffff" stroke-width="0.35"/>
<circle cx="812.3" cy="328" r="1.6" fill="#7b7b7b" stroke="#ffffff" stroke-width="0.35"/>
<circle cx="812.4" cy="331.3" r="1.6" fill="#7b7b7b" stroke="#ffffff" stroke-width="0.35"/>
<circle cx="812.4" cy="337.9" r="1.6" fill="#7b7b7b" stroke="#ffffff" stroke-width="0.35"/>
<circle cx="812.4" cy="344.5" r="1.6" fill="#7b7b7b" stroke="#ffffff" stroke-width="0.35"/>
<circle cx="812.5" cy="351.1" r="1.6" fill="#ff9a00" stroke="#b03a00" stroke-width="0.65"/>
<circle cx="812.5" cy="354.4" r="1.6" fill="#7b7b7b" stroke="#ffffff" stroke-width="0.35"/>
<circle cx="812.7" cy="357.7" r="1.6" fill="#7b7b7b" stroke="#ffffff" stroke-width="0.35"/>
<circle cx="812.4" cy="361" r="1.6" fill="#7b7b7b" stroke="#ffffff" stroke-width="0.35"/>
<circle cx="812.3" cy="364.3" r="1.6" fill="#7b7b7b" stroke="#ffffff" stroke-width="0.35"/>
<circle cx="812.8" cy="367.6" r="1.6" fill="#ff9a00" stroke="#b03a00" stroke-width="0.65"/>
<circle cx="812.5" cy="370.9" r="1.6" fill="#7b7b7b" stroke="#ffffff" stroke-width="0.35"/>
<circle cx="812.6" cy="374.2" r="1.6" fill="#7b7b7b" stroke="#ffffff" stroke-width="0.35"/>
<circle cx="815.4" cy="293.4" r="1.6" fill="#7b7b7b" stroke="#ffffff" stroke-width="0.35"/>
<circle cx="815.4" cy="296.6" r="1.6" fill="#ff9a00" stroke="#b03a00" stroke-width="0.65"/>
<circle cx="815.4" cy="299.9" r="1.6" fill="#7b7b7b" stroke="#ffffff" stroke-width="0.35"/>
<circle cx="815.2" cy="303.2" r="1.6" fill="#7b7b7b" stroke="#ffffff" stroke-width="0.35"/>
<circle cx="815.7" cy="306.6" r="1.6" fill="#7b7b7b" stroke="#ffffff" stroke-width="0.35"/>
<circle cx="815.2" cy="309.9" r="1.6" fill="#7b7b7b" stroke="#ffffff" stroke-width="0.35"/>
<circle cx="815.5" cy="313.1" r="1.6" fill="#7b7b7b" stroke="#ffffff" stroke-width="0.35"/>
<circle cx="815.5" cy="316.4" r="1.6" fill="#7b7b7b" stroke="#ffffff" stroke-width="0.35"/>
<circle cx="815.4" cy="319.8" r="1.6" fill="#ff9a00" stroke="#b03a00" stroke-width="0.65"/>
<circle cx="815.4" cy="323.1" r="1.6" fill="#ff9a00" stroke="#b03a00" stroke-width="0.65"/>
<circle cx="815.7" cy="326.4" r="1.6" fill="#ff9a00" stroke="#b03a00" stroke-width="0.65"/>
<circle cx="815.4" cy="329.6" r="1.6" fill="#7b7b7b" stroke="#ffffff" stroke-width="0.35"/>
<circle cx="815.3" cy="332.9" r="1.6" fill="#7b7b7b" stroke="#ffffff" stroke-width="0.35"/>
<circle cx="815.5" cy="336.2" r="1.6" fill="#7b7b7b" stroke="#ffffff" stroke-width="0.35"/>
<circle cx="815.6" cy="339.6" r="1.6" fill="#ff9a00" stroke="#b03a00" stroke-width="0.65"/>
<circle cx="815.3" cy="342.9" r="1.6" fill="#ff9a00" stroke="#b03a00" stroke-width="0.65"/>
<circle cx="815.6" cy="346.1" r="1.6" fill="#7b7b7b" stroke="#ffffff" stroke-width="0.35"/>
<circle cx="815.8" cy="349.4" r="1.6" fill="#7b7b7b" stroke="#ffffff" stroke-width="0.35"/>
<circle cx="815.7" cy="356.1" r="1.6" fill="#ff9a00" stroke="#b03a00" stroke-width="0.65"/>
<circle cx="815.8" cy="359.4" r="1.6" fill="#7b7b7b" stroke="#ffffff" stroke-width="0.35"/>
<circle cx="815.4" cy="362.6" r="1.6" fill="#ff9a00" stroke="#b03a00" stroke-width="0.65"/>
<circle cx="815.6" cy="365.9" r="1.6" fill="#ff9a00" stroke="#b03a00" stroke-width="0.65"/>
<circle cx="815.6" cy="369.2" r="1.6" fill="#ff9a00" stroke="#b03a00" stroke-width="0.65"/>
<circle cx="815.4" cy="372.6" r="1.6" fill="#ff9a00" stroke="#b03a00" stroke-width="0.65"/>
<circle cx="815.5" cy="375.9" r="1.6" fill="#ff9a00" stroke="#b03a00" stroke-width="0.65"/>
<circle cx="818.3" cy="291.7" r="1.6" fill="#7b7b7b" stroke="#ffffff" stroke-width="0.35"/>
<circle cx="818.6" cy="295" r="1.6" fill="#ff9a00" stroke="#b03a00" stroke-width="0.65"/>
<circle cx="818.4" cy="298.3" r="1.6" fill="#7b7b7b" stroke="#ffffff" stroke-width="0.35"/>
<circle cx="818.3" cy="301.6" r="1.6" fill="#7b7b7b" stroke="#ffffff" stroke-width="0.35"/>
<circle cx="818.7" cy="304.9" r="1.6" fill="#7b7b7b" stroke="#ffffff" stroke-width="0.35"/>
<circle cx="818.4" cy="308.2" r="1.6" fill="#7b7b7b" stroke="#ffffff" stroke-width="0.35"/>
<circle cx="818.7" cy="311.5" r="1.6" fill="#ff9a00" stroke="#b03a00" stroke-width="0.65"/>
<circle cx="818.3" cy="314.8" r="1.6" fill="#ff9a00" stroke="#b03a00" stroke-width="0.65"/>
<circle cx="818.3" cy="318.1" r="1.6" fill="#7b7b7b" stroke="#ffffff" stroke-width="0.35"/>
<circle cx="818.3" cy="321.4" r="1.6" fill="#7b7b7b" stroke="#ffffff" stroke-width="0.35"/>
<circle cx="818.3" cy="324.7" r="1.6" fill="#ff9a00" stroke="#b03a00" stroke-width="0.65"/>
<circle cx="818.7" cy="328" r="1.6" fill="#ff9a00" stroke="#b03a00" stroke-width="0.65"/>
<circle cx="818.7" cy="331.3" r="1.6" fill="#ff9a00" stroke="#b03a00" stroke-width="0.65"/>
<circle cx="818.2" cy="334.6" r="1.6" fill="#7b7b7b" stroke="#ffffff" stroke-width="0.35"/>
<circle cx="818.6" cy="337.9" r="1.6" fill="#7b7b7b" stroke="#ffffff" stroke-width="0.35"/>
<circle cx="818.8" cy="341.2" r="1.6" fill="#ff9a00" stroke="#b03a00" stroke-width="0.65"/>
<circle cx="818.3" cy="344.5" r="1.6" fill="#7b7b7b" stroke="#ffffff" stroke-width="0.35"/>
<circle cx="818.3" cy="347.8" r="1.6" fill="#ff9a00" stroke="#b03a00" stroke-width="0.65"/>
<circle cx="818.4" cy="351.1" r="1.6" fill="#7b7b7b" stroke="#ffffff" stroke-width="0.35"/>
<circle cx="818.7" cy="354.4" r="1.6" fill="#ff9a00" stroke="#b03a00" stroke-width="0.65"/>
<circle cx="818.5" cy="357.7" r="1.6" fill="#7b7b7b" stroke="#ffffff" stroke-width="0.35"/>
<circle cx="818.6" cy="361" r="1.6" fill="#7b7b7b" stroke="#ffffff" stroke-width="0.35"/>
<circle cx="818.4" cy="364.3" r="1.6" fill="#7b7b7b" stroke="#ffffff" stroke-width="0.35"/>
<circle cx="818.3" cy="367.6" r="1.6" fill="#ff9a00" stroke="#b03a00" stroke-width="0.65"/>
<circle cx="818.5" cy="370.9" r="1.6" fill="#7b7b7b" stroke="#ffffff" stroke-width="0.35"/>
<circle cx="818.5" cy="374.2" r="1.6" fill="#ff9a00" stroke="#b03a00" stroke-width="0.65"/>
<circle cx="818.5" cy="377.5" r="1.6" fill="#7b7b7b" stroke="#ffffff" stroke-width="0.35"/>
<circle cx="821.3" cy="290.1" r="1.6" fill="#ff9a00" stroke="#b03a00" stroke-width="0.65"/>
<circle cx="821.4" cy="293.4" r="1.6" fill="#ff9a00" stroke="#b03a00" stroke-width="0.65"/>
<circle cx="821.4" cy="296.6" r="1.6" fill="#ff9a00" stroke="#b03a00" stroke-width="0.65"/>
<circle cx="821.4" cy="299.9" r="1.6" fill="#ff9a00" stroke="#b03a00" stroke-width="0.65"/>
<circle cx="821.2" cy="303.2" r="1.6" fill="#7b7b7b" stroke="#ffffff" stroke-width="0.35"/>
<circle cx="821.8" cy="306.6" r="1.6" fill="#ff9a00" stroke="#b03a00" stroke-width="0.65"/>
<circle cx="821.5" cy="309.9" r="1.6" fill="#7b7b7b" stroke="#ffffff" stroke-width="0.35"/>
<circle cx="821.6" cy="313.1" r="1.6" fill="#ff9a00" stroke="#b03a00" stroke-width="0.65"/>
<circle cx="821.6" cy="316.4" r="1.6" fill="#7b7b7b" stroke="#ffffff" stroke-width="0.35"/>
<circle cx="821.2" cy="319.8" r="1.6" fill="#ff9a00" stroke="#b03a00" stroke-width="0.65"/>
<circle cx="821.4" cy="323.1" r="1.6" fill="#ff9a00" stroke="#b03a00" stroke-width="0.65"/>
<circle cx="821.5" cy="329.6" r="1.6" fill="#ff9a00" stroke="#b03a00" stroke-width="0.65"/>
<circle cx="821.6" cy="332.9" r="1.6" fill="#7b7b7b" stroke="#ffffff" stroke-width="0.35"/>
<circle cx="821.6" cy="336.2" r="1.6" fill="#ff9a00" stroke="#b03a00" stroke-width="0.65"/>
<circle cx="821.5" cy="339.6" r="1.6" fill="#7b7b7b" stroke="#ffffff" stroke-width="0.35"/>
<circle cx="821.7" cy="346.1" r="1.6" fill="#ff9a00" stroke="#b03a00" stroke-width="0.65"/>
<circle cx="821.5" cy="349.4" r="1.6" fill="#ff9a00" stroke="#b03a00" stroke-width="0.65"/>
<circle cx="821.3" cy="356.1" r="1.6" fill="#ff9a00" stroke="#b03a00" stroke-width="0.65"/>
<circle cx="821.5" cy="359.4" r="1.6" fill="#7b7b7b" stroke="#ffffff" stroke-width="0.35"/>
<circle cx="821.3" cy="362.6" r="1.6" fill="#ff9a00" stroke="#b03a00" stroke-width="0.65"/>
<circle cx="821.2" cy="365.9" r="1.6" fill="#ff9a00" stroke="#b03a00" stroke-width="0.65"/>
<circle cx="821.4" cy="369.2" r="1.6" fill="#7b7b7b" stroke="#ffffff" stroke-width="0.35"/>
<circle cx="821.8" cy="372.6" r="1.6" fill="#ff9a00" stroke="#b03a00" stroke-width="0.65"/>
<circle cx="821.4" cy="375.9" r="1.6" fill="#7b7b7b" stroke="#ffffff" stroke-width="0.35"/>
<circle cx="821.4" cy="379.1" r="1.6" fill="#ff9a00" stroke="#b03a00" stroke-width="0.65"/>
<circle cx="824.8" cy="291.7" r="1.6" fill="#7b7b7b" stroke="#ffffff" stroke-width="0.35"/>
<circle cx="824.3" cy="295" r="1.6" fill="#7b7b7b" stroke="#ffffff" stroke-width="0.35"/>
<circle cx="824.5" cy="298.3" r="1.6" fill="#7b7b7b" stroke="#ffffff" stroke-width="0.35"/>
<circle cx="824.6" cy="301.6" r="1.6" fill="#ff9a00" stroke="#b03a00" stroke-width="0.65"/>
<circle cx="824.4" cy="304.9" r="1.6" fill="#7b7b7b" stroke="#ffffff" stroke-width="0.35"/>
<circle cx="824.3" cy="308.2" r="1.6" fill="#7b7b7b" stroke="#ffffff" stroke-width="0.35"/>
<circle cx="824.3" cy="311.5" r="1.6" fill="#ff9a00" stroke="#b03a00" stroke-width="0.65"/>
<circle cx="824.4" cy="314.8" r="1.6" fill="#7b7b7b" stroke="#ffffff" stroke-width="0.35"/>
<circle cx="824.3" cy="318.1" r="1.6" fill="#ff9a00" stroke="#b03a00" stroke-width="0.65"/>
<circle cx="824.5" cy="321.4" r="1.6" fill="#7b7b7b" stroke="#ffffff" stroke-width="0.35"/>
<circle cx="824.6" cy="324.7" r="1.6" fill="#ff9a00" stroke="#b03a00" stroke-width="0.65"/>
<circle cx="824.4" cy="328" r="1.6" fill="#ff9a00" stroke="#b03a00" stroke-width="0.65"/>
<circle cx="824.5" cy="331.3" r="1.6" fill="#ff9a00" stroke="#b03a00" stroke-width="0.65"/>
<circle cx="824.5" cy="334.6" r="1.6" fill="#7b7b7b" stroke="#ffffff" stroke-width="0.35"/>
<circle cx="824.7" cy="337.9" r="1.6" fill="#7b7b7b" stroke="#ffffff" stroke-width="0.35"/>
<circle cx="824.7" cy="341.2" r="1.6" fill="#7b7b7b" stroke="#ffffff" stroke-width="0.35"/>
<circle cx="824.6" cy="344.5" r="1.6" fill="#7b7b7b" stroke="#ffffff" stroke-width="0.35"/>
<circle cx="824.7" cy="347.8" r="1.6" fill="#ff9a00" stroke="#b03a00" stroke-width="0.65"/>
<circle cx="824.2" cy="351.1" r="1.6" fill="#ff9a00" stroke="#b03a00" stroke-width="0.65"/>
<circle cx="824.6" cy="354.4" r="1.6" fill="#ff9a00" stroke="#b03a00" stroke-width="0.65"/>
<circle cx="824.7" cy="357.7" r="1.6" fill="#ff9a00" stroke="#b03a00" stroke-width="0.65"/>
<circle cx="824.2" cy="361" r="1.6" fill="#ff9a00" stroke="#b03a00" stroke-width="0.65"/>
<circle cx="824.7" cy="364.3" r="1.6" fill="#ff9a00" stroke="#b03a00" stroke-width="0.65"/>
<circle cx="824.3" cy="367.6" r="1.6" fill="#7b7b7b" stroke="#ffffff" stroke-width="0.35"/>
<circle cx="824.4" cy="370.9" r="1.6" fill="#ff9a00" stroke="#b03a00" stroke-width="0.65"/>
<circle cx="824.7" cy="374.2" r="1.6" fill="#7b7b7b" stroke="#ffffff" stroke-width="0.35"/>
<circle cx="824.5" cy="377.5" r="1.6" fill="#ff9a00" stroke="#b03a00" stroke-width="0.65"/>
<circle cx="827.5" cy="293.4" r="1.6" fill="#7b7b7b" stroke="#ffffff" stroke-width="0.35"/>
<circle cx="827.3" cy="296.6" r="1.6" fill="#7b7b7b" stroke="#ffffff" stroke-width="0.35"/>
<circle cx="827.5" cy="299.9" r="1.6" fill="#7b7b7b" stroke="#ffffff" stroke-width="0.35"/>
<circle cx="827.7" cy="303.2" r="1.6" fill="#7b7b7b" stroke="#ffffff" stroke-width="0.35"/>
<circle cx="827.8" cy="306.6" r="1.6" fill="#7b7b7b" stroke="#ffffff" stroke-width="0.35"/>
<circle cx="827.7" cy="309.9" r="1.6" fill="#ff9a00" stroke="#b03a00" stroke-width="0.65"/>
<circle cx="827.8" cy="313.1" r="1.6" fill="#ff9a00" stroke="#b03a00" stroke-width="0.65"/>
<circle cx="827.5" cy="316.4" r="1.6" fill="#7b7b7b" stroke="#ffffff" stroke-width="0.35"/>
<circle cx="827.3" cy="319.8" r="1.6" fill="#ff9a00" stroke="#b03a00" stroke-width="0.65"/>
<circle cx="827.5" cy="323.1" r="1.6" fill="#ff9a00" stroke="#b03a00" stroke-width="0.65"/>
<circle cx="827.3" cy="326.4" r="1.6" fill="#7b7b7b" stroke="#ffffff" stroke-width="0.35"/>
<circle cx="827.8" cy="329.6" r="1.6" fill="#ff9a00" stroke="#b03a00" stroke-width="0.65"/>
<circle cx="827.6" cy="332.9" r="1.6" fill="#7b7b7b" stroke="#ffffff" stroke-width="0.35"/>
<circle cx="827.7" cy="336.2" r="1.6" fill="#ff9a00" stroke="#b03a00" stroke-width="0.65"/>
<circle cx="827.3" cy="339.6" r="1.6" fill="#ff9a00" stroke="#b03a00" stroke-width="0.65"/>
<circle cx="827.7" cy="342.9" r="1.6" fill="#7b7b7b" stroke="#ffffff" stroke-width="0.35"/>
<circle cx="827.4" cy="346.1" r="1.6" fill="#7b7b7b" stroke="#ffffff" stroke-width="0.35"/>
<circle cx="827.6" cy="349.4" r="1.6" fill="#7b7b7b" stroke="#ffffff" stroke-width="0.35"/>
<circle cx="827.2" cy="352.8" r="1.6" fill="#ff9a00" stroke="#b03a00" stroke-width="0.65"/>
<circle cx="827.3" cy="356.1" r="1.6" fill="#7b7b7b" stroke="#ffffff" stroke-width="0.35"/>
<circle cx="827.2" cy="359.4" r="1.6" fill="#ff9a00" stroke="#b03a00" stroke-width="0.65"/>
<circle cx="827.5" cy="362.6" r="1.6" fill="#ff9a00" stroke="#b03a00" stroke-width="0.65"/>
<circle cx="827.8" cy="365.9" r="1.6" fill="#ff9a00" stroke="#b03a00" stroke-width="0.65"/>
<circle cx="827.6" cy="369.2" r="1.6" fill="#7b7b7b" stroke="#ffffff" stroke-width="0.35"/>
<circle cx="827.7" cy="372.6" r="1.6" fill="#7b7b7b" stroke="#ffffff" stroke-width="0.35"/>
<circle cx="827.6" cy="375.9" r="1.6" fill="#7b7b7b" stroke="#ffffff" stroke-width="0.35"/>
<circle cx="830.2" cy="295" r="1.6" fill="#ff9a00" stroke="#b03a00" stroke-width="0.65"/>
<circle cx="830.5" cy="298.3" r="1.6" fill="#ff9a00" stroke="#b03a00" stroke-width="0.65"/>
<circle cx="830.4" cy="301.6" r="1.6" fill="#7b7b7b" stroke="#ffffff" stroke-width="0.35"/>
<circle cx="830.6" cy="304.9" r="1.6" fill="#ff9a00" stroke="#b03a00" stroke-width="0.65"/>
<circle cx="830.6" cy="308.2" r="1.6" fill="#7b7b7b" stroke="#ffffff" stroke-width="0.35"/>
<circle cx="830.6" cy="311.5" r="1.6" fill="#7b7b7b" stroke="#ffffff" stroke-width="0.35"/>
<circle cx="830.6" cy="314.8" r="1.6" fill="#7b7b7b" stroke="#ffffff" stroke-width="0.35"/>
<circle cx="830.7" cy="318.1" r="1.6" fill="#7b7b7b" stroke="#ffffff" stroke-width="0.35"/>
<circle cx="830.5" cy="321.4" r="1.6" fill="#7b7b7b" stroke="#ffffff" stroke-width="0.35"/>
<circle cx="830.4" cy="324.7" r="1.6" fill="#ff9a00" stroke="#b03a00" stroke-width="0.65"/>
<circle cx="830.7" cy="328" r="1.6" fill="#7b7b7b" stroke="#ffffff" stroke-width="0.35"/>
<circle cx="830.4" cy="331.3" r="1.6" fill="#7b7b7b" stroke="#ffffff" stroke-width="0.35"/>
<circle cx="830.5" cy="334.6" r="1.6" fill="#7b7b7b" stroke="#ffffff" stroke-width="0.35"/>
<circle cx="830.7" cy="337.9" r="1.6" fill="#ff9a00" stroke="#b03a00" stroke-width="0.65"/>
<circle cx="830.4" cy="341.2" r="1.6" fill="#ff9a00" stroke="#b03a00" stroke-width="0.65"/>
<circle cx="830.3" cy="344.5" r="1.6" fill="#7b7b7b" stroke="#ffffff" stroke-width="0.35"/>
<circle cx="830.3" cy="347.8" r="1.6" fill="#7b7b7b" stroke="#ffffff" stroke-width="0.35"/>
<circle cx="830.7" cy="351.1" r="1.6" fill="#7b7b7b" stroke="#ffffff" stroke-width="0.35"/>
<circle cx="830.5" cy="354.4" r="1.6" fill="#7b7b7b" stroke="#ffffff" stroke-width="0.35"/>
<circle cx="830.7" cy="357.7" r="1.6" fill="#7b7b7b" stroke="#ffffff" stroke-width="0.35"/>
<circle cx="830.6" cy="361" r="1.6" fill="#ff9a00" stroke="#b03a00" stroke-width="0.65"/>
<circle cx="830.3" cy="367.6" r="1.6" fill="#ff9a00" stroke="#b03a00" stroke-width="0.65"/>
<circle cx="830.3" cy="370.9" r="1.6" fill="#7b7b7b" stroke="#ffffff" stroke-width="0.35"/>
<circle cx="830.6" cy="374.2" r="1.6" fill="#7b7b7b" stroke="#ffffff" stroke-width="0.35"/>
<circle cx="833.2" cy="296.6" r="1.6" fill="#7b7b7b" stroke="#ffffff" stroke-width="0.35"/>
<circle cx="833.8" cy="299.9" r="1.6" fill="#7b7b7b" stroke="#ffffff" stroke-width="0.35"/>
<circle cx="833.6" cy="303.2" r="1.6" fill="#7b7b7b" stroke="#ffffff" stroke-width="0.35"/>
<circle cx="833.6" cy="306.6" r="1.6" fill="#7b7b7b" stroke="#ffffff" stroke-width="0.35"/>
<circle cx="833.3" cy="309.9" r="1.6" fill="#7b7b7b" stroke="#ffffff" stroke-width="0.35"/>
<circle cx="833.3" cy="313.1" r="1.6" fill="#ff9a00" stroke="#b03a00" stroke-width="0.65"/>
<circle cx="833.3" cy="316.4" r="1.6" fill="#7b7b7b" stroke="#ffffff" stroke-width="0.35"/>
<circle cx="833.7" cy="319.8" r="1.6" fill="#7b7b7b" stroke="#ffffff" stroke-width="0.35"/>
<circle cx="833.8" cy="323.1" r="1.6" fill="#7b7b7b" stroke="#ffffff" stroke-width="0.35"/>
<circle cx="833.8" cy="326.4" r="1.6" fill="#7b7b7b" stroke="#ffffff" stroke-width="0.35"/>
<circle cx="833.2" cy="329.6" r="1.6" fill="#ff9a00" stroke="#b03a00" stroke-width="0.65"/>
<circle cx="833.5" cy="332.9" r="1.6" fill="#7b7b7b" stroke="#ffffff" stroke-width="0.35"/>
<circle cx="833.3" cy="336.2" r="1.6" fill="#7b7b7b" stroke="#ffffff" stroke-width="0.35"/>
<circle cx="833.4" cy="339.6" r="1.6" fill="#7b7b7b" stroke="#ffffff" stroke-width="0.35"/>
<circle cx="833.4" cy="342.9" r="1.6" fill="#7b7b7b" stroke="#ffffff" stroke-width="0.35"/>
<circle cx="833.8" cy="346.1" r="1.6" fill="#7b7b7b" stroke="#ffffff" stroke-width="0.35"/>
<circle cx="833.7" cy="349.4" r="1.6" fill="#ff9a00" stroke="#b03a00" stroke-width="0.65"/>
<circle cx="833.3" cy="352.8" r="1.6" fill="#7b7b7b" stroke="#ffffff" stroke-width="0.35"/>
<circle cx="833.6" cy="356.1" r="1.6" fill="#7b7b7b" stroke="#ffffff" stroke-width="0.35"/>
<circle cx="833.4" cy="359.4" r="1.6" fill="#7b7b7b" stroke="#ffffff" stroke-width="0.35"/>
<circle cx="833.7" cy="362.6" r="1.6" fill="#7b7b7b" stroke="#ffffff" stroke-width="0.35"/>
<circle cx="833.4" cy="365.9" r="1.6" fill="#7b7b7b" stroke="#ffffff" stroke-width="0.35"/>
<circle cx="833.2" cy="369.2" r="1.6" fill="#7b7b7b" stroke="#ffffff" stroke-width="0.35"/>
<circle cx="833.6" cy="372.6" r="1.6" fill="#7b7b7b" stroke="#ffffff" stroke-width="0.35"/>
<circle cx="836.3" cy="298.3" r="1.6" fill="#7b7b7b" stroke="#ffffff" stroke-width="0.35"/>
<circle cx="836.5" cy="301.6" r="1.6" fill="#7b7b7b" stroke="#ffffff" stroke-width="0.35"/>
<circle cx="836.3" cy="304.9" r="1.6" fill="#7b7b7b" stroke="#ffffff" stroke-width="0.35"/>
<circle cx="836.2" cy="308.2" r="1.6" fill="#7b7b7b" stroke="#ffffff" stroke-width="0.35"/>
<circle cx="836.2" cy="311.5" r="1.6" fill="#7b7b7b" stroke="#ffffff" stroke-width="0.35"/>
<circle cx="836.4" cy="314.8" r="1.6" fill="#7b7b7b" stroke="#ffffff" stroke-width="0.35"/>
<circle cx="836.3" cy="318.1" r="1.6" fill="#ff9a00" stroke="#b03a00" stroke-width="0.65"/>
<circle cx="836.3" cy="324.7" r="1.6" fill="#7b7b7b" stroke="#ffffff" stroke-width="0.35"/>
<circle cx="836.6" cy="328" r="1.6" fill="#7b7b7b" stroke="#ffffff" stroke-width="0.35"/>
<circle cx="836.4" cy="331.3" r="1.6" fill="#ff9a00" stroke="#b03a00" stroke-width="0.65"/>
<circle cx="836.6" cy="334.6" r="1.6" fill="#7b7b7b" stroke="#ffffff" stroke-width="0.35"/>
<circle cx="836.6" cy="337.9" r="1.6" fill="#7b7b7b" stroke="#ffffff" stroke-width="0.35"/>
<circle cx="836.7" cy="341.2" r="1.6" fill="#ff9a00" stroke="#b03a00" stroke-width="0.65"/>
<circle cx="836.7" cy="344.5" r="1.6" fill="#7b7b7b" stroke="#ffffff" stroke-width="0.35"/>
<circle cx="836.8" cy="347.8" r="1.6" fill="#7b7b7b" stroke="#ffffff" stroke-width="0.35"/>
<circle cx="836.3" cy="351.1" r="1.6" fill="#7b7b7b" stroke="#ffffff" stroke-width="0.35"/>
<circle cx="836.8" cy="354.4" r="1.6" fill="#7b7b7b" stroke="#ffffff" stroke-width="0.35"/>
<circle cx="836.4" cy="361" r="1.6" fill="#7b7b7b" stroke="#ffffff" stroke-width="0.35"/>
<circle cx="836.6" cy="364.3" r="1.6" fill="#7b7b7b" stroke="#ffffff" stroke-width="0.35"/>
<circle cx="836.5" cy="367.6" r="1.6" fill="#ff9a00" stroke="#b03a00" stroke-width="0.65"/>
<circle cx="836.7" cy="370.9" r="1.6" fill="#7b7b7b" stroke="#ffffff" stroke-width="0.35"/>
<circle cx="839.2" cy="299.9" r="1.6" fill="#7b7b7b" stroke="#ffffff" stroke-width="0.35"/>
<circle cx="839.6" cy="303.2" r="1.6" fill="#7b7b7b" stroke="#ffffff" stroke-width="0.35"/>
<circle cx="839.8" cy="306.6" r="1.6" fill="#7b7b7b" stroke="#ffffff" stroke-width="0.35"/>
<circle cx="839.3" cy="309.9" r="1.6" fill="#ff9a00" stroke="#b03a00" stroke-width="0.65"/>
<circle cx="839.7" cy="313.1" r="1.6" fill="#7b7b7b" stroke="#ffffff" stroke-width="0.35"/>
<circle cx="839.3" cy="316.4" r="1.6" fill="#7b7b7b" stroke="#ffffff" stroke-width="0.35"/>
<circle cx="839.6" cy="319.8" r="1.6" fill="#7b7b7b" stroke="#ffffff" stroke-width="0.35"/>
<circle cx="839.6" cy="323.1" r="1.6" fill="#ff9a00" stroke="#b03a00" stroke-width="0.65"/>
<circle cx="839.5" cy="326.4" r="1.6" fill="#7b7b7b" stroke="#ffffff" stroke-width="0.35"/>
<circle cx="839.3" cy="329.6" r="1.6" fill="#7b7b7b" stroke="#ffffff" stroke-width="0.35"/>
<circle cx="839.5" cy="332.9" r="1.6" fill="#7b7b7b" stroke="#ffffff" stroke-width="0.35"/>
<circle cx="839.5" cy="336.2" r="1.6" fill="#ff9a00" stroke="#b03a00" stroke-width="0.65"/>
<circle cx="839.7" cy="339.6" r="1.6" fill="#ff9a00" stroke="#b03a00" stroke-width="0.65"/>
<circle cx="839.6" cy="342.9" r="1.6" fill="#7b7b7b" stroke="#ffffff" stroke-width="0.35"/>
<circle cx="839.5" cy="346.1" r="1.6" fill="#ff9a00" stroke="#b03a00" stroke-width="0.65"/>
<circle cx="839.4" cy="349.4" r="1.6" fill="#7b7b7b" stroke="#ffffff" stroke-width="0.35"/>
<circle cx="839.5" cy="352.8" r="1.6" fill="#7b7b7b" stroke="#ffffff" stroke-width="0.35"/>
<circle cx="839.4" cy="356.1" r="1.6" fill="#7b7b7b" stroke="#ffffff" stroke-width="0.35"/>
<circle cx="839.8" cy="359.4" r="1.6" fill="#7b7b7b" stroke="#ffffff" stroke-width="0.35"/>
<circle cx="839.4" cy="362.6" r="1.6" fill="#7b7b7b" stroke="#ffffff" stroke-width="0.35"/>
<circle cx="839.2" cy="365.9" r="1.6" fill="#7b7b7b" stroke="#ffffff" stroke-width="0.35"/>
<circle cx="839.5" cy="369.2" r="1.6" fill="#7b7b7b" stroke="#ffffff" stroke-width="0.35"/>
<circle cx="842.4" cy="301.6" r="1.6" fill="#7b7b7b" stroke="#ffffff" stroke-width="0.35"/>
<circle cx="842.3" cy="304.9" r="1.6" fill="#7b7b7b" stroke="#ffffff" stroke-width="0.35"/>
<circle cx="842.5" cy="308.2" r="1.6" fill="#7b7b7b" stroke="#ffffff" stroke-width="0.35"/>
<circle cx="842.2" cy="311.5" r="1.6" fill="#7b7b7b" stroke="#ffffff" stroke-width="0.35"/>
<circle cx="842.3" cy="314.8" r="1.6" fill="#7b7b7b" stroke="#ffffff" stroke-width="0.35"/>
<circle cx="842.7" cy="321.4" r="1.6" fill="#7b7b7b" stroke="#ffffff" stroke-width="0.35"/>
<circle cx="842.7" cy="324.7" r="1.6" fill="#7b7b7b" stroke="#ffffff" stroke-width="0.35"/>
<circle cx="842.6" cy="328" r="1.6" fill="#7b7b7b" stroke="#ffffff" stroke-width="0.35"/>
<circle cx="842.7" cy="331.3" r="1.6" fill="#7b7b7b" stroke="#ffffff" stroke-width="0.35"/>
<circle cx="842.3" cy="334.6" r="1.6" fill="#7b7b7b" stroke="#ffffff" stroke-width="0.35"/>
<circle cx="842.6" cy="337.9" r="1.6" fill="#ff9a00" stroke="#b03a00" stroke-width="0.65"/>
<circle cx="842.2" cy="341.2" r="1.6" fill="#ff9a00" stroke="#b03a00" stroke-width="0.65"/>
<circle cx="842.7" cy="344.5" r="1.6" fill="#7b7b7b" stroke="#ffffff" stroke-width="0.35"/>
<circle cx="842.3" cy="347.8" r="1.6" fill="#7b7b7b" stroke="#ffffff" stroke-width="0.35"/>
<circle cx="842.6" cy="351.1" r="1.6" fill="#7b7b7b" stroke="#ffffff" stroke-width="0.35"/>
<circle cx="842.3" cy="354.4" r="1.6" fill="#7b7b7b" stroke="#ffffff" stroke-width="0.35"/>
<circle cx="842.3" cy="357.7" r="1.6" fill="#7b7b7b" stroke="#ffffff" stroke-width="0.35"/>
<circle cx="842.6" cy="361" r="1.6" fill="#7b7b7b" stroke="#ffffff" stroke-width="0.35"/>
<circle cx="842.2" cy="364.3" r="1.6" fill="#7b7b7b" stroke="#ffffff" stroke-width="0.35"/>
<circle cx="842.3" cy="367.6" r="1.6" fill="#7b7b7b" stroke="#ffffff" stroke-width="0.35"/>
<circle cx="845.4" cy="306.6" r="1.6" fill="#7b7b7b" stroke="#ffffff" stroke-width="0.35"/>
<circle cx="845.5" cy="309.9" r="1.6" fill="#7b7b7b" stroke="#ffffff" stroke-width="0.35"/>
<circle cx="845.3" cy="313.1" r="1.6" fill="#7b7b7b" stroke="#ffffff" stroke-width="0.35"/>
<circle cx="845.8" cy="316.4" r="1.6" fill="#7b7b7b" stroke="#ffffff" stroke-width="0.35"/>
<circle cx="845.4" cy="319.8" r="1.6" fill="#ff9a00" stroke="#b03a00" stroke-width="0.65"/>
<circle cx="845.6" cy="323.1" r="1.6" fill="#7b7b7b" stroke="#ffffff" stroke-width="0.35"/>
<circle cx="845.3" cy="326.4" r="1.6" fill="#ff9a00" stroke="#b03a00" stroke-width="0.65"/>
<circle cx="845.5" cy="329.6" r="1.6" fill="#7b7b7b" stroke="#ffffff" stroke-width="0.35"/>
<circle cx="845.3" cy="332.9" r="1.6" fill="#7b7b7b" stroke="#ffffff" stroke-width="0.35"/>
<circle cx="845.5" cy="336.2" r="1.6" fill="#7b7b7b" stroke="#ffffff" stroke-width="0.35"/>
<circle cx="845.6" cy="339.6" r="1.6" fill="#7b7b7b" stroke="#ffffff" stroke-width="0.35"/>
<circle cx="845.7" cy="342.9" r="1.6" fill="#7b7b7b" stroke="#ffffff" stroke-width="0.35"/>
<circle cx="845.4" cy="346.1" r="1.6" fill="#ff9a00" stroke="#b03a00" stroke-width="0.65"/>
<circle cx="845.4" cy="349.4" r="1.6" fill="#7b7b7b" stroke="#ffffff" stroke-width="0.35"/>
<circle cx="845.8" cy="352.8" r="1.6" fill="#7b7b7b" stroke="#ffffff" stroke-width="0.35"/>
<circle cx="845.4" cy="356.1" r="1.6" fill="#7b7b7b" stroke="#ffffff" stroke-width="0.35"/>
<circle cx="845.7" cy="359.4" r="1.6" fill="#7b7b7b" stroke="#ffffff" stroke-width="0.35"/>
<circle cx="845.8" cy="362.6" r="1.6" fill="#ff9a00" stroke="#b03a00" stroke-width="0.65"/>
<circle cx="848.6" cy="311.5" r="1.6" fill="#7b7b7b" stroke="#ffffff" stroke-width="0.35"/>
<circle cx="848.4" cy="314.8" r="1.6" fill="#7b7b7b" stroke="#ffffff" stroke-width="0.35"/>
<circle cx="848.6" cy="318.1" r="1.6" fill="#7b7b7b" stroke="#ffffff" stroke-width="0.35"/>
<circle cx="848.2" cy="321.4" r="1.6" fill="#7b7b7b" stroke="#ffffff" stroke-width="0.35"/>
<circle cx="848.8" cy="324.7" r="1.6" fill="#7b7b7b" stroke="#ffffff" stroke-width="0.35"/>
<circle cx="848.5" cy="328" r="1.6" fill="#7b7b7b" stroke="#ffffff" stroke-width="0.35"/>
<circle cx="848.3" cy="331.3" r="1.6" fill="#7b7b7b" stroke="#ffffff" stroke-width="0.35"/>
<circle cx="848.4" cy="334.6" r="1.6" fill="#7b7b7b" stroke="#ffffff" stroke-width="0.35"/>
<circle cx="848.8" cy="337.9" r="1.6" fill="#7b7b7b" stroke="#ffffff" stroke-width="0.35"/>
<circle cx="848.3" cy="341.2" r="1.6" fill="#7b7b7b" stroke="#ffffff" stroke-width="0.35"/>
<circle cx="848.5" cy="344.5" r="1.6" fill="#7b7b7b" stroke="#ffffff" stroke-width="0.35"/>
<circle cx="848.5" cy="347.8" r="1.6" fill="#7b7b7b" stroke="#ffffff" stroke-width="0.35"/>
<circle cx="848.5" cy="351.1" r="1.6" fill="#7b7b7b" stroke="#ffffff" stroke-width="0.35"/>
<circle cx="848.5" cy="357.7" r="1.6" fill="#7b7b7b" stroke="#ffffff" stroke-width="0.35"/>
<circle cx="851.6" cy="313.1" r="1.6" fill="#7b7b7b" stroke="#ffffff" stroke-width="0.35"/>
<circle cx="851.7" cy="316.4" r="1.6" fill="#7b7b7b" stroke="#ffffff" stroke-width="0.35"/>
<circle cx="851.2" cy="319.8" r="1.6" fill="#7b7b7b" stroke="#ffffff" stroke-width="0.35"/>
<circle cx="851.5" cy="323.1" r="1.6" fill="#7b7b7b" stroke="#ffffff" stroke-width="0.35"/>
<circle cx="851.5" cy="326.4" r="1.6" fill="#7b7b7b" stroke="#ffffff" stroke-width="0.35"/>
<circle cx="851.4" cy="329.6" r="1.6" fill="#7b7b7b" stroke="#ffffff" stroke-width="0.35"/>
<circle cx="851.6" cy="332.9" r="1.6" fill="#7b7b7b" stroke="#ffffff" stroke-width="0.35"/>
<circle cx="851.6" cy="336.2" r="1.6" fill="#7b7b7b" stroke="#ffffff" stroke-width="0.35"/>
<circle cx="851.8" cy="339.6" r="1.6" fill="#7b7b7b" stroke="#ffffff" stroke-width="0.35"/>
<circle cx="851.3" cy="342.9" r="1.6" fill="#7b7b7b" stroke="#ffffff" stroke-width="0.35"/>
<circle cx="851.7" cy="346.1" r="1.6" fill="#7b7b7b" stroke="#ffffff" stroke-width="0.35"/>
<circle cx="851.3" cy="349.4" r="1.6" fill="#7b7b7b" stroke="#ffffff" stroke-width="0.35"/>
<circle cx="851.4" cy="352.8" r="1.6" fill="#7b7b7b" stroke="#ffffff" stroke-width="0.35"/>
<circle cx="851.3" cy="356.1" r="1.6" fill="#7b7b7b" stroke="#ffffff" stroke-width="0.35"/>
<circle cx="854.6" cy="318.1" r="1.6" fill="#7b7b7b" stroke="#ffffff" stroke-width="0.35"/>
<circle cx="854.7" cy="321.4" r="1.6" fill="#7b7b7b" stroke="#ffffff" stroke-width="0.35"/>
<circle cx="854.4" cy="324.7" r="1.6" fill="#7b7b7b" stroke="#ffffff" stroke-width="0.35"/>
<circle cx="854.5" cy="328" r="1.6" fill="#7b7b7b" stroke="#ffffff" stroke-width="0.35"/>
<circle cx="854.3" cy="331.3" r="1.6" fill="#7b7b7b" stroke="#ffffff" stroke-width="0.35"/>
<circle cx="854.6" cy="334.6" r="1.6" fill="#7b7b7b" stroke="#ffffff" stroke-width="0.35"/>
<circle cx="854.4" cy="337.9" r="1.6" fill="#7b7b7b" stroke="#ffffff" stroke-width="0.35"/>
<circle cx="854.5" cy="341.2" r="1.6" fill="#7b7b7b" stroke="#ffffff" stroke-width="0.35"/>
<circle cx="854.4" cy="344.5" r="1.6" fill="#7b7b7b" stroke="#ffffff" stroke-width="0.35"/>
<circle cx="854.6" cy="347.8" r="1.6" fill="#7b7b7b" stroke="#ffffff" stroke-width="0.35"/>
<circle cx="854.3" cy="351.1" r="1.6" fill="#7b7b7b" stroke="#ffffff" stroke-width="0.35"/>
<circle cx="857.7" cy="319.8" r="1.6" fill="#ff9a00" stroke="#b03a00" stroke-width="0.65"/>
<circle cx="857.2" cy="323.1" r="1.6" fill="#7b7b7b" stroke="#ffffff" stroke-width="0.35"/>
<circle cx="857.3" cy="326.4" r="1.6" fill="#7b7b7b" stroke="#ffffff" stroke-width="0.35"/>
<circle cx="857.7" cy="329.6" r="1.6" fill="#7b7b7b" stroke="#ffffff" stroke-width="0.35"/>
<circle cx="857.6" cy="332.9" r="1.6" fill="#7b7b7b" stroke="#ffffff" stroke-width="0.35"/>
<circle cx="857.3" cy="336.2" r="1.6" fill="#7b7b7b" stroke="#ffffff" stroke-width="0.35"/>
<circle cx="857.6" cy="339.6" r="1.6" fill="#ff9a00" stroke="#b03a00" stroke-width="0.65"/>
<circle cx="857.5" cy="342.9" r="1.6" fill="#7b7b7b" stroke="#ffffff" stroke-width="0.35"/>
<circle cx="857.6" cy="346.1" r="1.6" fill="#7b7b7b" stroke="#ffffff" stroke-width="0.35"/>
<circle cx="857.7" cy="349.4" r="1.6" fill="#7b7b7b" stroke="#ffffff" stroke-width="0.35"/>
<circle cx="860.2" cy="324.7" r="1.6" fill="#7b7b7b" stroke="#ffffff" stroke-width="0.35"/>
<circle cx="860.3" cy="328" r="1.6" fill="#7b7b7b" stroke="#ffffff" stroke-width="0.35"/>
<circle cx="860.7" cy="331.3" r="1.6" fill="#ff9a00" stroke="#b03a00" stroke-width="0.65"/>
<circle cx="860.5" cy="334.6" r="1.6" fill="#7b7b7b" stroke="#ffffff" stroke-width="0.35"/>
<circle cx="860.5" cy="337.9" r="1.6" fill="#7b7b7b" stroke="#ffffff" stroke-width="0.35"/>
<circle cx="860.7" cy="341.2" r="1.6" fill="#7b7b7b" stroke="#ffffff" stroke-width="0.35"/>
<circle cx="860.6" cy="344.5" r="1.6" fill="#7b7b7b" stroke="#ffffff" stroke-width="0.35"/>
<circle cx="863.6" cy="326.4" r="1.6" fill="#7b7b7b" stroke="#ffffff" stroke-width="0.35"/>
<circle cx="863.8" cy="329.6" r="1.6" fill="#7b7b7b" stroke="#ffffff" stroke-width="0.35"/>
<circle cx="863.4" cy="332.9" r="1.6" fill="#7b7b7b" stroke="#ffffff" stroke-width="0.35"/>
<circle cx="863.3" cy="336.2" r="1.6" fill="#7b7b7b" stroke="#ffffff" stroke-width="0.35"/>
<circle cx="863.5" cy="339.6" r="1.6" fill="#ff9a00" stroke="#b03a00" stroke-width="0.65"/>
<circle cx="863.4" cy="342.9" r="1.6" fill="#7b7b7b" stroke="#ffffff" stroke-width="0.35"/>
<circle cx="866.7" cy="328" r="1.6" fill="#7b7b7b" stroke="#ffffff" stroke-width="0.35"/>
<circle cx="866.4" cy="331.3" r="1.6" fill="#7b7b7b" stroke="#ffffff" stroke-width="0.35"/>
<circle cx="866.2" cy="334.6" r="1.6" fill="#7b7b7b" stroke="#ffffff" stroke-width="0.35"/>
<circle cx="866.6" cy="337.9" r="1.6" fill="#7b7b7b" stroke="#ffffff" stroke-width="0.35"/>
<circle cx="866.7" cy="341.2" r="1.6" fill="#7b7b7b" stroke="#ffffff" stroke-width="0.35"/>
<circle cx="869.7" cy="329.6" r="1.6" fill="#7b7b7b" stroke="#ffffff" stroke-width="0.35"/>
<circle cx="869.6" cy="332.9" r="1.6" fill="#7b7b7b" stroke="#ffffff" stroke-width="0.35"/>
<circle cx="869.5" cy="336.2" r="1.6" fill="#7b7b7b" stroke="#ffffff" stroke-width="0.35"/>
<circle cx="869.4" cy="339.6" r="1.6" fill="#7b7b7b" stroke="#ffffff" stroke-width="0.35"/>
<circle cx="872.3" cy="331.3" r="1.6" fill="#7b7b7b" stroke="#ffffff" stroke-width="0.35"/>
<circle cx="872.4" cy="334.6" r="1.6" fill="#7b7b7b" stroke="#ffffff" stroke-width="0.35"/>
<circle cx="872.4" cy="337.9" r="1.6" fill="#7b7b7b" stroke="#ffffff" stroke-width="0.35"/>
<circle cx="875.2" cy="329.6" r="1.6" fill="#7b7b7b" stroke="#ffffff" stroke-width="0.35"/>
<circle cx="875.3" cy="332.9" r="1.6" fill="#7b7b7b" stroke="#ffffff" stroke-width="0.35"/>
<circle cx="875.8" cy="336.2" r="1.6" fill="#7b7b7b" stroke="#ffffff" stroke-width="0.35"/>
<circle cx="875.8" cy="339.6" r="1.6" fill="#7b7b7b" stroke="#ffffff" stroke-width="0.35"/>
<circle cx="878.2" cy="331.3" r="1.6" fill="#7b7b7b" stroke="#ffffff" stroke-width="0.35"/>
<circle cx="878.7" cy="334.6" r="1.6" fill="#7b7b7b" stroke="#ffffff" stroke-width="0.35"/>
<circle cx="878.5" cy="337.9" r="1.6" fill="#7b7b7b" stroke="#ffffff" stroke-width="0.35"/>
<circle cx="881.5" cy="332.9" r="1.6" fill="#7b7b7b" stroke="#ffffff" stroke-width="0.35"/>
<circle cx="881.5" cy="336.2" r="1.6" fill="#7b7b7b" stroke="#ffffff" stroke-width="0.35"/>
<circle cx="884.4" cy="331.3" r="1.6" fill="#7b7b7b" stroke="#ffffff" stroke-width="0.35"/>
<circle cx="884.5" cy="334.6" r="1.6" fill="#7b7b7b" stroke="#ffffff" stroke-width="0.35"/>
<circle cx="884.6" cy="337.9" r="1.6" fill="#7b7b7b" stroke="#ffffff" stroke-width="0.35"/>
<circle cx="887.4" cy="332.9" r="1.6" fill="#7b7b7b" stroke="#ffffff" stroke-width="0.35"/>
<circle cx="887.7" cy="336.2" r="1.6" fill="#7b7b7b" stroke="#ffffff" stroke-width="0.35"/>
<circle cx="890.3" cy="334.6" r="1.6" fill="#7b7b7b" stroke="#ffffff" stroke-width="0.35"/>
<circle cx="881" cy="330.3" r="2" fill="#858585" stroke="#fff" stroke-width="0.3"/>
<circle cx="881.9" cy="334" r="2" fill="#858585" stroke="#fff" stroke-width="0.3"/>
<circle cx="885.6" cy="334.6" r="1.9" fill="#858585" stroke="#fff" stroke-width="0.3"/>
<circle cx="895" cy="330.3" r="2" fill="#858585" stroke="#fff" stroke-width="0.3"/>
<circle cx="893.1" cy="334.6" r="2" fill="#858585" stroke="#fff" stroke-width="0.3"/>
<circle cx="897.8" cy="334" r="2" fill="#858585" stroke="#fff" stroke-width="0.3"/>
<circle cx="895.9" cy="338.7" r="2" fill="#858585" stroke="#fff" stroke-width="0.3"/>
<circle cx="902.5" cy="331.6" r="2" fill="#858585" stroke="#fff" stroke-width="0.3"/>
<circle cx="902.1" cy="336.8" r="2" fill="#858585" stroke="#fff" stroke-width="0.3"/>
<circle cx="911.8" cy="336.8" r="2" fill="#858585" stroke="#fff" stroke-width="0.3"/>
<circle cx="914.6" cy="333.1" r="2" fill="#858585" stroke="#fff" stroke-width="0.3"/>
<circle cx="919.7" cy="331.2" r="2.1" fill="#858585" stroke="#fff" stroke-width="0.3"/>
<circle cx="919.3" cy="336.8" r="2.1" fill="#858585" stroke="#fff" stroke-width="0.3"/>
<circle cx="924.9" cy="334.6" r="2.1" fill="#858585" stroke="#fff" stroke-width="0.3"/>
<circle cx="931.5" cy="334.6" r="2.1" fill="#858585" stroke="#fff" stroke-width="0.3"/>
<circle cx="945.5" cy="334.6" r="2.5" fill="#858585" stroke="#fff" stroke-width="0.3"/>
<circle cx="962.4" cy="334.6" r="2.7" fill="#858585" stroke="#fff" stroke-width="0.3"/>
<circle cx="875" cy="331" r="1.9" fill="#858585" stroke="#fff" stroke-width="0.3"/>
<circle cx="876" cy="337" r="1.9" fill="#858585" stroke="#fff" stroke-width="0.3"/>
<circle cx="870" cy="334" r="1.9" fill="#858585" stroke="#fff" stroke-width="0.3"/>
<rect x="795.2" y="381.2" width="5.3" height="12.1" fill="#9e9ac8" />
<line x1="800.5" y1="392.8" x2="1040" y2="392.8" stroke="#e6e6e6" stroke-width="1" />
<g filter="url(#bl)">
<rect x="797.5" y="384.5" width="31.5" height="5.6" rx="2.8" fill="url(#fade)"/>
<circle cx="819" cy="387.3" r="2.7" fill="#000" fill-opacity="0.69"/>
<circle cx="822.5" cy="387.3" r="2.7" fill="#000" fill-opacity="0.61"/>
<circle cx="826.6" cy="387.3" r="2.7" fill="#000" fill-opacity="0.38"/>
<circle cx="829.7" cy="387.3" r="2.7" fill="#000" fill-opacity="0.46"/>
<circle cx="833" cy="387.3" r="2.7" fill="#000" fill-opacity="0.31"/>
<circle cx="836.8" cy="387.3" r="2.7" fill="#000" fill-opacity="0.34"/>
<circle cx="840.5" cy="387.3" r="2.7" fill="#000" fill-opacity="0.36"/>
<circle cx="844.2" cy="387.3" r="2.7" fill="#000" fill-opacity="0.26"/>
<circle cx="847.5" cy="387.3" r="2.7" fill="#000" fill-opacity="0.26"/>
<circle cx="850.8" cy="387.3" r="2.7" fill="#000" fill-opacity="0.24"/>
<circle cx="854" cy="387.3" r="2.7" fill="#000" fill-opacity="0.14"/>
<circle cx="857.4" cy="387.3" r="2.7" fill="#000" fill-opacity="0.19"/>
<circle cx="861.2" cy="387.3" r="2.7" fill="#000" fill-opacity="0.15"/>
<circle cx="865.4" cy="387.3" r="2.7" fill="#000" fill-opacity="0.12"/>
<circle cx="868.6" cy="387.3" r="2.7" fill="#000" fill-opacity="0.08"/>
<circle cx="871.9" cy="387.3" r="2.7" fill="#000" fill-opacity="0.08"/>
<circle cx="875.8" cy="387.3" r="2.7" fill="#000" fill-opacity="0.09"/>
<circle cx="879.1" cy="387.3" r="2.7" fill="#000" fill-opacity="0.08"/>
<circle cx="925.3" cy="387.3" r="2.5" fill="#000" fill-opacity="0.13"/>
<circle cx="903.4" cy="387.3" r="2.5" fill="#000" fill-opacity="0.22"/>
<circle cx="1009.2" cy="387.3" r="2.5" fill="#000" fill-opacity="0.19"/>
<circle cx="931.6" cy="387.3" r="2.5" fill="#000" fill-opacity="0.12"/>
<circle cx="908.5" cy="387.3" r="2.5" fill="#000" fill-opacity="0.12"/>
<circle cx="1029.4" cy="387.3" r="2.5" fill="#000" fill-opacity="0.14"/>
<circle cx="928.7" cy="387.3" r="2.5" fill="#000" fill-opacity="0.11"/>
<circle cx="998.1" cy="387.3" r="2.5" fill="#000" fill-opacity="0.20"/>
<circle cx="971.2" cy="387.3" r="2.5" fill="#000" fill-opacity="0.20"/>
<circle cx="1027.3" cy="387.3" r="2.5" fill="#000" fill-opacity="0.11"/>
<circle cx="933.7" cy="387.3" r="2.5" fill="#000" fill-opacity="0.12"/>
<circle cx="1035" cy="387.3" r="2.5" fill="#000" fill-opacity="0.12"/>
</g>
<rect x="795.2" y="393.2" width="5.3" height="12.1" fill="#807dba" />
<line x1="800.5" y1="404.8" x2="1040" y2="404.8" stroke="#e6e6e6" stroke-width="1" />
<g filter="url(#bl)">
<rect x="797.5" y="396.6" width="35.1" height="5.6" rx="2.8" fill="url(#fade)"/>
<circle cx="822.6" cy="399.4" r="2.7" fill="#000" fill-opacity="0.57"/>
<circle cx="825.8" cy="399.4" r="2.7" fill="#000" fill-opacity="0.18"/>
<circle cx="829.9" cy="399.4" r="2.7" fill="#000" fill-opacity="0.63"/>
<circle cx="833.3" cy="399.4" r="2.7" fill="#000" fill-opacity="0.54"/>
<circle cx="836.3" cy="399.4" r="2.7" fill="#000" fill-opacity="0.32"/>
<circle cx="839.4" cy="399.4" r="2.7" fill="#000" fill-opacity="0.43"/>
<circle cx="843.1" cy="399.4" r="2.7" fill="#000" fill-opacity="0.36"/>
<circle cx="846.6" cy="399.4" r="2.7" fill="#000" fill-opacity="0.34"/>
<circle cx="850.3" cy="399.4" r="2.7" fill="#000" fill-opacity="0.26"/>
<circle cx="853.6" cy="399.4" r="2.7" fill="#000" fill-opacity="0.20"/>
<circle cx="856.9" cy="399.4" r="2.7" fill="#000" fill-opacity="0.24"/>
<circle cx="859.8" cy="399.4" r="2.7" fill="#000" fill-opacity="0.20"/>
<circle cx="864.1" cy="399.4" r="2.7" fill="#000" fill-opacity="0.19"/>
<circle cx="866.9" cy="399.4" r="2.7" fill="#000" fill-opacity="0.19"/>
<circle cx="870" cy="399.4" r="2.7" fill="#000" fill-opacity="0.13"/>
<circle cx="873" cy="399.4" r="2.7" fill="#000" fill-opacity="0.16"/>
<circle cx="876" cy="399.4" r="2.7" fill="#000" fill-opacity="0.08"/>
<circle cx="880.3" cy="399.4" r="2.7" fill="#000" fill-opacity="0.13"/>
<circle cx="884.6" cy="399.4" r="2.7" fill="#000" fill-opacity="0.09"/>
<circle cx="888.5" cy="399.4" r="2.7" fill="#000" fill-opacity="0.08"/>
<circle cx="892.2" cy="399.4" r="2.7" fill="#000" fill-opacity="0.09"/>
<circle cx="895.2" cy="399.4" r="2.7" fill="#000" fill-opacity="0.08"/>
<circle cx="969.6" cy="399.4" r="2.5" fill="#000" fill-opacity="0.22"/>
<circle cx="970.1" cy="399.4" r="2.5" fill="#000" fill-opacity="0.12"/>
<circle cx="934.5" cy="399.4" r="2.5" fill="#000" fill-opacity="0.14"/>
<circle cx="989.3" cy="399.4" r="2.5" fill="#000" fill-opacity="0.21"/>
<circle cx="1026.7" cy="399.4" r="2.5" fill="#000" fill-opacity="0.21"/>
<circle cx="1035" cy="399.4" r="2.5" fill="#000" fill-opacity="0.12"/>
</g>
<rect x="795.2" y="405.3" width="5.3" height="12.1" fill="#6a51a3" />
<line x1="800.5" y1="416.9" x2="1040" y2="416.9" stroke="#e6e6e6" stroke-width="1" />
<g filter="url(#bl)">
<rect x="797.5" y="408.6" width="35.4" height="5.6" rx="2.8" fill="url(#fade)"/>
<circle cx="822.9" cy="411.4" r="2.7" fill="#000" fill-opacity="0.32"/>
<circle cx="826.5" cy="411.4" r="2.7" fill="#000" fill-opacity="0.61"/>
<circle cx="830.3" cy="411.4" r="2.7" fill="#000" fill-opacity="0.55"/>
<circle cx="833.2" cy="411.4" r="2.7" fill="#000" fill-opacity="0.48"/>
<circle cx="836.1" cy="411.4" r="2.7" fill="#000" fill-opacity="0.34"/>
<circle cx="840.4" cy="411.4" r="2.7" fill="#000" fill-opacity="0.11"/>
<circle cx="844.5" cy="411.4" r="2.7" fill="#000" fill-opacity="0.37"/>
<circle cx="848.2" cy="411.4" r="2.7" fill="#000" fill-opacity="0.34"/>
<circle cx="851" cy="411.4" r="2.7" fill="#000" fill-opacity="0.21"/>
<circle cx="855.4" cy="411.4" r="2.7" fill="#000" fill-opacity="0.29"/>
<circle cx="858.7" cy="411.4" r="2.7" fill="#000" fill-opacity="0.08"/>
<circle cx="862.8" cy="411.4" r="2.7" fill="#000" fill-opacity="0.17"/>
<circle cx="866.4" cy="411.4" r="2.7" fill="#000" fill-opacity="0.16"/>
<circle cx="869.9" cy="411.4" r="2.7" fill="#000" fill-opacity="0.13"/>
<circle cx="873" cy="411.4" r="2.7" fill="#000" fill-opacity="0.11"/>
<circle cx="876.6" cy="411.4" r="2.7" fill="#000" fill-opacity="0.15"/>
<circle cx="879.8" cy="411.4" r="2.7" fill="#000" fill-opacity="0.12"/>
<circle cx="883.4" cy="411.4" r="2.7" fill="#000" fill-opacity="0.09"/>
<circle cx="891.5" cy="411.4" r="2.5" fill="#000" fill-opacity="0.16"/>
<circle cx="991.3" cy="411.4" r="2.5" fill="#000" fill-opacity="0.12"/>
<circle cx="886.8" cy="411.4" r="2.5" fill="#000" fill-opacity="0.13"/>
<circle cx="895.4" cy="411.4" r="2.5" fill="#000" fill-opacity="0.18"/>
<circle cx="956.4" cy="411.4" r="2.5" fill="#000" fill-opacity="0.15"/>
<circle cx="888.4" cy="411.4" r="2.5" fill="#000" fill-opacity="0.17"/>
<circle cx="1035" cy="411.4" r="2.5" fill="#000" fill-opacity="0.12"/>
</g>
<rect x="795.2" y="417.2" width="5.3" height="93.3" fill="#5e3c99" />
<circle cx="800.3" cy="440.9" r="1.6" fill="#ff9a00" stroke="#b03a00" stroke-width="0.65"/>
<circle cx="800.5" cy="444.2" r="1.6" fill="#ff9a00" stroke="#b03a00" stroke-width="0.65"/>
<circle cx="800.5" cy="447.5" r="1.6" fill="#ff9a00" stroke="#b03a00" stroke-width="0.65"/>
<circle cx="800.4" cy="450.8" r="1.6" fill="#ff9a00" stroke="#b03a00" stroke-width="0.65"/>
<circle cx="800.6" cy="454.1" r="1.6" fill="#7b7b7b" stroke="#ffffff" stroke-width="0.35"/>
<circle cx="800.3" cy="457.4" r="1.6" fill="#ff9a00" stroke="#b03a00" stroke-width="0.65"/>
<circle cx="800.6" cy="460.7" r="1.6" fill="#7b7b7b" stroke="#ffffff" stroke-width="0.35"/>
<circle cx="800.6" cy="464" r="1.6" fill="#ff9a00" stroke="#b03a00" stroke-width="0.65"/>
<circle cx="800.6" cy="467.3" r="1.6" fill="#ff9a00" stroke="#b03a00" stroke-width="0.65"/>
<circle cx="800.3" cy="470.6" r="1.6" fill="#7b7b7b" stroke="#ffffff" stroke-width="0.35"/>
<circle cx="800.4" cy="473.9" r="1.6" fill="#ff9a00" stroke="#b03a00" stroke-width="0.65"/>
<circle cx="800.7" cy="477.2" r="1.6" fill="#ff9a00" stroke="#b03a00" stroke-width="0.65"/>
<circle cx="800.4" cy="480.5" r="1.6" fill="#ff9a00" stroke="#b03a00" stroke-width="0.65"/>
<circle cx="800.5" cy="483.8" r="1.6" fill="#ff9a00" stroke="#b03a00" stroke-width="0.65"/>
<circle cx="800.6" cy="487.1" r="1.6" fill="#ff9a00" stroke="#b03a00" stroke-width="0.65"/>
<circle cx="803.7" cy="435.9" r="1.6" fill="#7b7b7b" stroke="#ffffff" stroke-width="0.35"/>
<circle cx="803.3" cy="439.2" r="1.6" fill="#ff9a00" stroke="#b03a00" stroke-width="0.65"/>
<circle cx="803.3" cy="442.5" r="1.6" fill="#ff9a00" stroke="#b03a00" stroke-width="0.65"/>
<circle cx="803.5" cy="445.8" r="1.6" fill="#7b7b7b" stroke="#ffffff" stroke-width="0.35"/>
<circle cx="803.3" cy="449.1" r="1.6" fill="#7b7b7b" stroke="#ffffff" stroke-width="0.35"/>
<circle cx="803.6" cy="452.4" r="1.6" fill="#ff9a00" stroke="#b03a00" stroke-width="0.65"/>
<circle cx="803.5" cy="455.8" r="1.6" fill="#ff9a00" stroke="#b03a00" stroke-width="0.65"/>
<circle cx="803.4" cy="459" r="1.6" fill="#ff9a00" stroke="#b03a00" stroke-width="0.65"/>
<circle cx="803.8" cy="468.9" r="1.6" fill="#7b7b7b" stroke="#ffffff" stroke-width="0.35"/>
<circle cx="803.2" cy="472.2" r="1.6" fill="#7b7b7b" stroke="#ffffff" stroke-width="0.35"/>
<circle cx="803.6" cy="475.5" r="1.6" fill="#7b7b7b" stroke="#ffffff" stroke-width="0.35"/>
<circle cx="803.4" cy="478.8" r="1.6" fill="#ff9a00" stroke="#b03a00" stroke-width="0.65"/>
<circle cx="803.5" cy="482.1" r="1.6" fill="#7b7b7b" stroke="#ffffff" stroke-width="0.35"/>
<circle cx="803.5" cy="485.4" r="1.6" fill="#7b7b7b" stroke="#ffffff" stroke-width="0.35"/>
<circle cx="803.4" cy="488.8" r="1.6" fill="#7b7b7b" stroke="#ffffff" stroke-width="0.35"/>
<circle cx="803.5" cy="492" r="1.6" fill="#ff9a00" stroke="#b03a00" stroke-width="0.65"/>
<circle cx="806.6" cy="431" r="1.6" fill="#ff9a00" stroke="#b03a00" stroke-width="0.65"/>
<circle cx="806.2" cy="434.3" r="1.6" fill="#7b7b7b" stroke="#ffffff" stroke-width="0.35"/>
<circle cx="806.5" cy="437.6" r="1.6" fill="#7b7b7b" stroke="#ffffff" stroke-width="0.35"/>
<circle cx="806.6" cy="440.9" r="1.6" fill="#ff9a00" stroke="#b03a00" stroke-width="0.65"/>
<circle cx="806.8" cy="444.2" r="1.6" fill="#ff9a00" stroke="#b03a00" stroke-width="0.65"/>
<circle cx="806.7" cy="447.5" r="1.6" fill="#ff9a00" stroke="#b03a00" stroke-width="0.65"/>
<circle cx="806.3" cy="450.8" r="1.6" fill="#7b7b7b" stroke="#ffffff" stroke-width="0.35"/>
<circle cx="806.2" cy="454.1" r="1.6" fill="#ff9a00" stroke="#b03a00" stroke-width="0.65"/>
<circle cx="806.8" cy="460.7" r="1.6" fill="#7b7b7b" stroke="#ffffff" stroke-width="0.35"/>
<circle cx="806.2" cy="464" r="1.6" fill="#ff9a00" stroke="#b03a00" stroke-width="0.65"/>
<circle cx="806.6" cy="467.3" r="1.6" fill="#ff9a00" stroke="#b03a00" stroke-width="0.65"/>
<circle cx="806.5" cy="473.9" r="1.6" fill="#ff9a00" stroke="#b03a00" stroke-width="0.65"/>
<circle cx="806.5" cy="477.2" r="1.6" fill="#ff9a00" stroke="#b03a00" stroke-width="0.65"/>
<circle cx="806.5" cy="480.5" r="1.6" fill="#ff9a00" stroke="#b03a00" stroke-width="0.65"/>
<circle cx="806.4" cy="483.8" r="1.6" fill="#7b7b7b" stroke="#ffffff" stroke-width="0.35"/>
<circle cx="806.6" cy="487.1" r="1.6" fill="#ff9a00" stroke="#b03a00" stroke-width="0.65"/>
<circle cx="806.5" cy="490.4" r="1.6" fill="#7b7b7b" stroke="#ffffff" stroke-width="0.35"/>
<circle cx="806.5" cy="493.7" r="1.6" fill="#ff9a00" stroke="#b03a00" stroke-width="0.65"/>
<circle cx="806.3" cy="497" r="1.6" fill="#7b7b7b" stroke="#ffffff" stroke-width="0.35"/>
<circle cx="809.2" cy="429.3" r="1.6" fill="#ff9a00" stroke="#b03a00" stroke-width="0.65"/>
<circle cx="809.5" cy="432.6" r="1.6" fill="#7b7b7b" stroke="#ffffff" stroke-width="0.35"/>
<circle cx="809.5" cy="435.9" r="1.6" fill="#ff9a00" stroke="#b03a00" stroke-width="0.65"/>
<circle cx="809.8" cy="439.2" r="1.6" fill="#7b7b7b" stroke="#ffffff" stroke-width="0.35"/>
<circle cx="809.7" cy="442.5" r="1.6" fill="#7b7b7b" stroke="#ffffff" stroke-width="0.35"/>
<circle cx="809.5" cy="445.8" r="1.6" fill="#7b7b7b" stroke="#ffffff" stroke-width="0.35"/>
<circle cx="809.6" cy="449.1" r="1.6" fill="#ff9a00" stroke="#b03a00" stroke-width="0.65"/>
<circle cx="809.6" cy="452.4" r="1.6" fill="#ff9a00" stroke="#b03a00" stroke-width="0.65"/>
<circle cx="809.6" cy="455.8" r="1.6" fill="#ff9a00" stroke="#b03a00" stroke-width="0.65"/>
<circle cx="809.6" cy="459" r="1.6" fill="#7b7b7b" stroke="#ffffff" stroke-width="0.35"/>
<circle cx="809.4" cy="462.3" r="1.6" fill="#7b7b7b" stroke="#ffffff" stroke-width="0.35"/>
<circle cx="809.7" cy="465.6" r="1.6" fill="#ff9a00" stroke="#b03a00" stroke-width="0.65"/>
<circle cx="809.7" cy="468.9" r="1.6" fill="#7b7b7b" stroke="#ffffff" stroke-width="0.35"/>
<circle cx="809.6" cy="472.2" r="1.6" fill="#7b7b7b" stroke="#ffffff" stroke-width="0.35"/>
<circle cx="809.2" cy="475.5" r="1.6" fill="#7b7b7b" stroke="#ffffff" stroke-width="0.35"/>
<circle cx="809.3" cy="478.8" r="1.6" fill="#7b7b7b" stroke="#ffffff" stroke-width="0.35"/>
<circle cx="809.5" cy="482.1" r="1.6" fill="#ff9a00" stroke="#b03a00" stroke-width="0.65"/>
<circle cx="809.7" cy="485.4" r="1.6" fill="#ff9a00" stroke="#b03a00" stroke-width="0.65"/>
<circle cx="809.2" cy="488.8" r="1.6" fill="#7b7b7b" stroke="#ffffff" stroke-width="0.35"/>
<circle cx="809.8" cy="492" r="1.6" fill="#7b7b7b" stroke="#ffffff" stroke-width="0.35"/>
<circle cx="809.4" cy="498.6" r="1.6" fill="#ff9a00" stroke="#b03a00" stroke-width="0.65"/>
<circle cx="812.3" cy="427.7" r="1.6" fill="#7b7b7b" stroke="#ffffff" stroke-width="0.35"/>
<circle cx="812.3" cy="431" r="1.6" fill="#ff9a00" stroke="#b03a00" stroke-width="0.65"/>
<circle cx="812.4" cy="434.3" r="1.6" fill="#7b7b7b" stroke="#ffffff" stroke-width="0.35"/>
<circle cx="812.5" cy="437.6" r="1.6" fill="#7b7b7b" stroke="#ffffff" stroke-width="0.35"/>
<circle cx="812.3" cy="440.9" r="1.6" fill="#7b7b7b" stroke="#ffffff" stroke-width="0.35"/>
<circle cx="812.3" cy="444.2" r="1.6" fill="#7b7b7b" stroke="#ffffff" stroke-width="0.35"/>
<circle cx="812.2" cy="447.5" r="1.6" fill="#7b7b7b" stroke="#ffffff" stroke-width="0.35"/>
<circle cx="812.2" cy="450.8" r="1.6" fill="#7b7b7b" stroke="#ffffff" stroke-width="0.35"/>
<circle cx="812.6" cy="454.1" r="1.6" fill="#7b7b7b" stroke="#ffffff" stroke-width="0.35"/>
<circle cx="812.4" cy="457.4" r="1.6" fill="#ff9a00" stroke="#b03a00" stroke-width="0.65"/>
<circle cx="812.8" cy="460.7" r="1.6" fill="#7b7b7b" stroke="#ffffff" stroke-width="0.35"/>
<circle cx="812.8" cy="464" r="1.6" fill="#7b7b7b" stroke="#ffffff" stroke-width="0.35"/>
<circle cx="812.8" cy="467.3" r="1.6" fill="#7b7b7b" stroke="#ffffff" stroke-width="0.35"/>
<circle cx="812.3" cy="470.6" r="1.6" fill="#ff9a00" stroke="#b03a00" stroke-width="0.65"/>
<circle cx="812.4" cy="473.9" r="1.6" fill="#7b7b7b" stroke="#ffffff" stroke-width="0.35"/>
<circle cx="812.3" cy="477.2" r="1.6" fill="#ff9a00" stroke="#b03a00" stroke-width="0.65"/>
<circle cx="812.6" cy="480.5" r="1.6" fill="#7b7b7b" stroke="#ffffff" stroke-width="0.35"/>
<circle cx="812.3" cy="483.8" r="1.6" fill="#7b7b7b" stroke="#ffffff" stroke-width="0.35"/>
<circle cx="812.3" cy="487.1" r="1.6" fill="#ff9a00" stroke="#b03a00" stroke-width="0.65"/>
<circle cx="812.6" cy="490.4" r="1.6" fill="#ff9a00" stroke="#b03a00" stroke-width="0.65"/>
<circle cx="812.6" cy="493.7" r="1.6" fill="#ff9a00" stroke="#b03a00" stroke-width="0.65"/>
<circle cx="812.6" cy="497" r="1.6" fill="#7b7b7b" stroke="#ffffff" stroke-width="0.35"/>
<circle cx="812.6" cy="500.3" r="1.6" fill="#7b7b7b" stroke="#ffffff" stroke-width="0.35"/>
<circle cx="815.4" cy="426" r="1.6" fill="#7b7b7b" stroke="#ffffff" stroke-width="0.35"/>
<circle cx="815.5" cy="429.3" r="1.6" fill="#7b7b7b" stroke="#ffffff" stroke-width="0.35"/>
<circle cx="815.7" cy="432.6" r="1.6" fill="#ff9a00" stroke="#b03a00" stroke-width="0.65"/>
<circle cx="815.6" cy="435.9" r="1.6" fill="#ff9a00" stroke="#b03a00" stroke-width="0.65"/>
<circle cx="815.2" cy="439.2" r="1.6" fill="#7b7b7b" stroke="#ffffff" stroke-width="0.35"/>
<circle cx="815.2" cy="442.5" r="1.6" fill="#7b7b7b" stroke="#ffffff" stroke-width="0.35"/>
<circle cx="815.3" cy="445.8" r="1.6" fill="#ff9a00" stroke="#b03a00" stroke-width="0.65"/>
<circle cx="815.6" cy="449.1" r="1.6" fill="#7b7b7b" stroke="#ffffff" stroke-width="0.35"/>
<circle cx="815.5" cy="452.4" r="1.6" fill="#7b7b7b" stroke="#ffffff" stroke-width="0.35"/>
<circle cx="815.4" cy="455.8" r="1.6" fill="#7b7b7b" stroke="#ffffff" stroke-width="0.35"/>
<circle cx="815.4" cy="459" r="1.6" fill="#ff9a00" stroke="#b03a00" stroke-width="0.65"/>
<circle cx="815.7" cy="462.3" r="1.6" fill="#7b7b7b" stroke="#ffffff" stroke-width="0.35"/>
<circle cx="815.6" cy="465.6" r="1.6" fill="#ff9a00" stroke="#b03a00" stroke-width="0.65"/>
<circle cx="815.7" cy="468.9" r="1.6" fill="#7b7b7b" stroke="#ffffff" stroke-width="0.35"/>
<circle cx="815.7" cy="472.2" r="1.6" fill="#7b7b7b" stroke="#ffffff" stroke-width="0.35"/>
<circle cx="815.5" cy="475.5" r="1.6" fill="#ff9a00" stroke="#b03a00" stroke-width="0.65"/>
<circle cx="815.4" cy="478.8" r="1.6" fill="#ff9a00" stroke="#b03a00" stroke-width="0.65"/>
<circle cx="815.6" cy="482.1" r="1.6" fill="#ff9a00" stroke="#b03a00" stroke-width="0.65"/>
<circle cx="815.2" cy="485.4" r="1.6" fill="#7b7b7b" stroke="#ffffff" stroke-width="0.35"/>
<circle cx="815.6" cy="488.8" r="1.6" fill="#7b7b7b" stroke="#ffffff" stroke-width="0.35"/>
<circle cx="815.3" cy="492" r="1.6" fill="#ff9a00" stroke="#b03a00" stroke-width="0.65"/>
<circle cx="815.3" cy="495.3" r="1.6" fill="#7b7b7b" stroke="#ffffff" stroke-width="0.35"/>
<circle cx="815.5" cy="498.6" r="1.6" fill="#7b7b7b" stroke="#ffffff" stroke-width="0.35"/>
<circle cx="815.8" cy="501.9" r="1.6" fill="#7b7b7b" stroke="#ffffff" stroke-width="0.35"/>
<circle cx="818.2" cy="424.4" r="1.6" fill="#7b7b7b" stroke="#ffffff" stroke-width="0.35"/>
<circle cx="818.5" cy="427.7" r="1.6" fill="#ff9a00" stroke="#b03a00" stroke-width="0.65"/>
<circle cx="818.5" cy="431" r="1.6" fill="#7b7b7b" stroke="#ffffff" stroke-width="0.35"/>
<circle cx="818.3" cy="434.3" r="1.6" fill="#7b7b7b" stroke="#ffffff" stroke-width="0.35"/>
<circle cx="818.7" cy="437.6" r="1.6" fill="#7b7b7b" stroke="#ffffff" stroke-width="0.35"/>
<circle cx="818.8" cy="444.2" r="1.6" fill="#7b7b7b" stroke="#ffffff" stroke-width="0.35"/>
<circle cx="818.8" cy="447.5" r="1.6" fill="#7b7b7b" stroke="#ffffff" stroke-width="0.35"/>
<circle cx="818.7" cy="450.8" r="1.6" fill="#ff9a00" stroke="#b03a00" stroke-width="0.65"/>
<circle cx="818.7" cy="454.1" r="1.6" fill="#ff9a00" stroke="#b03a00" stroke-width="0.65"/>
<circle cx="818.4" cy="457.4" r="1.6" fill="#ff9a00" stroke="#b03a00" stroke-width="0.65"/>
<circle cx="818.7" cy="460.7" r="1.6" fill="#7b7b7b" stroke="#ffffff" stroke-width="0.35"/>
<circle cx="818.2" cy="464" r="1.6" fill="#7b7b7b" stroke="#ffffff" stroke-width="0.35"/>
<circle cx="818.5" cy="467.3" r="1.6" fill="#ff9a00" stroke="#b03a00" stroke-width="0.65"/>
<circle cx="818.5" cy="470.6" r="1.6" fill="#7b7b7b" stroke="#ffffff" stroke-width="0.35"/>
<circle cx="818.7" cy="473.9" r="1.6" fill="#7b7b7b" stroke="#ffffff" stroke-width="0.35"/>
<circle cx="818.4" cy="477.2" r="1.6" fill="#ff9a00" stroke="#b03a00" stroke-width="0.65"/>
<circle cx="818.5" cy="483.8" r="1.6" fill="#ff9a00" stroke="#b03a00" stroke-width="0.65"/>
<circle cx="818.6" cy="487.1" r="1.6" fill="#7b7b7b" stroke="#ffffff" stroke-width="0.35"/>
<circle cx="818.5" cy="490.4" r="1.6" fill="#7b7b7b" stroke="#ffffff" stroke-width="0.35"/>
<circle cx="818.8" cy="493.7" r="1.6" fill="#7b7b7b" stroke="#ffffff" stroke-width="0.35"/>
<circle cx="818.3" cy="497" r="1.6" fill="#ff9a00" stroke="#b03a00" stroke-width="0.65"/>
<circle cx="818.4" cy="500.3" r="1.6" fill="#7b7b7b" stroke="#ffffff" stroke-width="0.35"/>
<circle cx="818.2" cy="503.6" r="1.6" fill="#ff9a00" stroke="#b03a00" stroke-width="0.65"/>
<circle cx="821.4" cy="422.8" r="1.6" fill="#ff9a00" stroke="#b03a00" stroke-width="0.65"/>
<circle cx="821.6" cy="426" r="1.6" fill="#ff9a00" stroke="#b03a00" stroke-width="0.65"/>
<circle cx="821.6" cy="429.3" r="1.6" fill="#ff9a00" stroke="#b03a00" stroke-width="0.65"/>
<circle cx="821.5" cy="432.6" r="1.6" fill="#7b7b7b" stroke="#ffffff" stroke-width="0.35"/>
<circle cx="821.3" cy="435.9" r="1.6" fill="#7b7b7b" stroke="#ffffff" stroke-width="0.35"/>
<circle cx="821.7" cy="439.2" r="1.6" fill="#ff9a00" stroke="#b03a00" stroke-width="0.65"/>
<circle cx="821.5" cy="442.5" r="1.6" fill="#ff9a00" stroke="#b03a00" stroke-width="0.65"/>
<circle cx="821.6" cy="445.8" r="1.6" fill="#ff9a00" stroke="#b03a00" stroke-width="0.65"/>
<circle cx="821.2" cy="449.1" r="1.6" fill="#7b7b7b" stroke="#ffffff" stroke-width="0.35"/>
<circle cx="821.7" cy="452.4" r="1.6" fill="#7b7b7b" stroke="#ffffff" stroke-width="0.35"/>
<circle cx="821.7" cy="455.8" r="1.6" fill="#7b7b7b" stroke="#ffffff" stroke-width="0.35"/>
<circle cx="821.7" cy="459" r="1.6" fill="#7b7b7b" stroke="#ffffff" stroke-width="0.35"/>
<circle cx="821.4" cy="462.3" r="1.6" fill="#7b7b7b" stroke="#ffffff" stroke-width="0.35"/>
<circle cx="821.7" cy="465.6" r="1.6" fill="#ff9a00" stroke="#b03a00" stroke-width="0.65"/>
<circle cx="821.3" cy="468.9" r="1.6" fill="#7b7b7b" stroke="#ffffff" stroke-width="0.35"/>
<circle cx="821.6" cy="472.2" r="1.6" fill="#7b7b7b" stroke="#ffffff" stroke-width="0.35"/>
<circle cx="821.5" cy="475.5" r="1.6" fill="#ff9a00" stroke="#b03a00" stroke-width="0.65"/>
<circle cx="821.4" cy="478.8" r="1.6" fill="#7b7b7b" stroke="#ffffff" stroke-width="0.35"/>
<circle cx="821.6" cy="482.1" r="1.6" fill="#ff9a00" stroke="#b03a00" stroke-width="0.65"/>
<circle cx="821.5" cy="485.4" r="1.6" fill="#7b7b7b" stroke="#ffffff" stroke-width="0.35"/>
<circle cx="821.4" cy="488.8" r="1.6" fill="#7b7b7b" stroke="#ffffff" stroke-width="0.35"/>
<circle cx="821.8" cy="492" r="1.6" fill="#7b7b7b" stroke="#ffffff" stroke-width="0.35"/>
<circle cx="821.4" cy="498.6" r="1.6" fill="#ff9a00" stroke="#b03a00" stroke-width="0.65"/>
<circle cx="821.5" cy="501.9" r="1.6" fill="#ff9a00" stroke="#b03a00" stroke-width="0.65"/>
<circle cx="821.4" cy="505.2" r="1.6" fill="#7b7b7b" stroke="#ffffff" stroke-width="0.35"/>
<circle cx="824.3" cy="421.1" r="1.6" fill="#7b7b7b" stroke="#ffffff" stroke-width="0.35"/>
<circle cx="824.6" cy="424.4" r="1.6" fill="#7b7b7b" stroke="#ffffff" stroke-width="0.35"/>
<circle cx="824.7" cy="427.7" r="1.6" fill="#7b7b7b" stroke="#ffffff" stroke-width="0.35"/>
<circle cx="824.6" cy="431" r="1.6" fill="#7b7b7b" stroke="#ffffff" stroke-width="0.35"/>
<circle cx="824.6" cy="434.3" r="1.6" fill="#7b7b7b" stroke="#ffffff" stroke-width="0.35"/>
<circle cx="824.7" cy="437.6" r="1.6" fill="#7b7b7b" stroke="#ffffff" stroke-width="0.35"/>
<circle cx="824.6" cy="440.9" r="1.6" fill="#7b7b7b" stroke="#ffffff" stroke-width="0.35"/>
<circle cx="824.4" cy="444.2" r="1.6" fill="#ff9a00" stroke="#b03a00" stroke-width="0.65"/>
<circle cx="824.2" cy="447.5" r="1.6" fill="#7b7b7b" stroke="#ffffff" stroke-width="0.35"/>
<circle cx="824.5" cy="450.8" r="1.6" fill="#7b7b7b" stroke="#ffffff" stroke-width="0.35"/>
<circle cx="824.6" cy="454.1" r="1.6" fill="#7b7b7b" stroke="#ffffff" stroke-width="0.35"/>
<circle cx="824.5" cy="457.4" r="1.6" fill="#7b7b7b" stroke="#ffffff" stroke-width="0.35"/>
<circle cx="824.6" cy="460.7" r="1.6" fill="#ff9a00" stroke="#b03a00" stroke-width="0.65"/>
<circle cx="824.6" cy="464" r="1.6" fill="#7b7b7b" stroke="#ffffff" stroke-width="0.35"/>
<circle cx="824.2" cy="467.3" r="1.6" fill="#ff9a00" stroke="#b03a00" stroke-width="0.65"/>
<circle cx="824.5" cy="470.6" r="1.6" fill="#7b7b7b" stroke="#ffffff" stroke-width="0.35"/>
<circle cx="824.4" cy="473.9" r="1.6" fill="#7b7b7b" stroke="#ffffff" stroke-width="0.35"/>
<circle cx="824.8" cy="477.2" r="1.6" fill="#ff9a00" stroke="#b03a00" stroke-width="0.65"/>
<circle cx="824.5" cy="480.5" r="1.6" fill="#ff9a00" stroke="#b03a00" stroke-width="0.65"/>
<circle cx="824.6" cy="483.8" r="1.6" fill="#ff9a00" stroke="#b03a00" stroke-width="0.65"/>
<circle cx="824.4" cy="487.1" r="1.6" fill="#7b7b7b" stroke="#ffffff" stroke-width="0.35"/>
<circle cx="824.7" cy="490.4" r="1.6" fill="#7b7b7b" stroke="#ffffff" stroke-width="0.35"/>
<circle cx="824.5" cy="493.7" r="1.6" fill="#7b7b7b" stroke="#ffffff" stroke-width="0.35"/>
<circle cx="824.2" cy="497" r="1.6" fill="#7b7b7b" stroke="#ffffff" stroke-width="0.35"/>
<circle cx="824.7" cy="500.3" r="1.6" fill="#7b7b7b" stroke="#ffffff" stroke-width="0.35"/>
<circle cx="824.7" cy="503.6" r="1.6" fill="#ff9a00" stroke="#b03a00" stroke-width="0.65"/>
<circle cx="824.5" cy="506.9" r="1.6" fill="#ff9a00" stroke="#b03a00" stroke-width="0.65"/>
<circle cx="827.6" cy="422.8" r="1.6" fill="#ff9a00" stroke="#b03a00" stroke-width="0.65"/>
<circle cx="827.7" cy="426" r="1.6" fill="#ff9a00" stroke="#b03a00" stroke-width="0.65"/>
<circle cx="827.7" cy="429.3" r="1.6" fill="#7b7b7b" stroke="#ffffff" stroke-width="0.35"/>
<circle cx="827.3" cy="432.6" r="1.6" fill="#ff9a00" stroke="#b03a00" stroke-width="0.65"/>
<circle cx="827.6" cy="435.9" r="1.6" fill="#7b7b7b" stroke="#ffffff" stroke-width="0.35"/>
<circle cx="827.4" cy="439.2" r="1.6" fill="#7b7b7b" stroke="#ffffff" stroke-width="0.35"/>
<circle cx="827.3" cy="442.5" r="1.6" fill="#ff9a00" stroke="#b03a00" stroke-width="0.65"/>
<circle cx="827.8" cy="445.8" r="1.6" fill="#ff9a00" stroke="#b03a00" stroke-width="0.65"/>
<circle cx="827.2" cy="449.1" r="1.6" fill="#ff9a00" stroke="#b03a00" stroke-width="0.65"/>
<circle cx="827.5" cy="452.4" r="1.6" fill="#ff9a00" stroke="#b03a00" stroke-width="0.65"/>
<circle cx="827.4" cy="455.8" r="1.6" fill="#7b7b7b" stroke="#ffffff" stroke-width="0.35"/>
<circle cx="827.3" cy="459" r="1.6" fill="#7b7b7b" stroke="#ffffff" stroke-width="0.35"/>
<circle cx="827.4" cy="462.3" r="1.6" fill="#7b7b7b" stroke="#ffffff" stroke-width="0.35"/>
<circle cx="827.3" cy="465.6" r="1.6" fill="#ff9a00" stroke="#b03a00" stroke-width="0.65"/>
<circle cx="827.4" cy="468.9" r="1.6" fill="#7b7b7b" stroke="#ffffff" stroke-width="0.35"/>
<circle cx="827.7" cy="472.2" r="1.6" fill="#7b7b7b" stroke="#ffffff" stroke-width="0.35"/>
<circle cx="827.4" cy="475.5" r="1.6" fill="#7b7b7b" stroke="#ffffff" stroke-width="0.35"/>
<circle cx="827.2" cy="478.8" r="1.6" fill="#ff9a00" stroke="#b03a00" stroke-width="0.65"/>
<circle cx="827.3" cy="482.1" r="1.6" fill="#ff9a00" stroke="#b03a00" stroke-width="0.65"/>
<circle cx="827.3" cy="485.4" r="1.6" fill="#ff9a00" stroke="#b03a00" stroke-width="0.65"/>
<circle cx="827.6" cy="488.8" r="1.6" fill="#7b7b7b" stroke="#ffffff" stroke-width="0.35"/>
<circle cx="827.7" cy="492" r="1.6" fill="#ff9a00" stroke="#b03a00" stroke-width="0.65"/>
<circle cx="827.6" cy="495.3" r="1.6" fill="#7b7b7b" stroke="#ffffff" stroke-width="0.35"/>
<circle cx="827.4" cy="498.6" r="1.6" fill="#7b7b7b" stroke="#ffffff" stroke-width="0.35"/>
<circle cx="827.3" cy="501.9" r="1.6" fill="#7b7b7b" stroke="#ffffff" stroke-width="0.35"/>
<circle cx="827.4" cy="505.2" r="1.6" fill="#ff9a00" stroke="#b03a00" stroke-width="0.65"/>
<circle cx="830.6" cy="424.4" r="1.6" fill="#7b7b7b" stroke="#ffffff" stroke-width="0.35"/>
<circle cx="830.7" cy="427.7" r="1.6" fill="#ff9a00" stroke="#b03a00" stroke-width="0.65"/>
<circle cx="830.5" cy="431" r="1.6" fill="#7b7b7b" stroke="#ffffff" stroke-width="0.35"/>
<circle cx="830.4" cy="434.3" r="1.6" fill="#7b7b7b" stroke="#ffffff" stroke-width="0.35"/>
<circle cx="830.2" cy="437.6" r="1.6" fill="#ff9a00" stroke="#b03a00" stroke-width="0.65"/>
<circle cx="830.2" cy="440.9" r="1.6" fill="#ff9a00" stroke="#b03a00" stroke-width="0.65"/>
<circle cx="830.5" cy="444.2" r="1.6" fill="#ff9a00" stroke="#b03a00" stroke-width="0.65"/>
<circle cx="830.2" cy="447.5" r="1.6" fill="#7b7b7b" stroke="#ffffff" stroke-width="0.35"/>
<circle cx="830.7" cy="450.8" r="1.6" fill="#ff9a00" stroke="#b03a00" stroke-width="0.65"/>
<circle cx="830.5" cy="454.1" r="1.6" fill="#7b7b7b" stroke="#ffffff" stroke-width="0.35"/>
<circle cx="830.3" cy="460.7" r="1.6" fill="#7b7b7b" stroke="#ffffff" stroke-width="0.35"/>
<circle cx="830.2" cy="464" r="1.6" fill="#ff9a00" stroke="#b03a00" stroke-width="0.65"/>
<circle cx="830.5" cy="467.3" r="1.6" fill="#ff9a00" stroke="#b03a00" stroke-width="0.65"/>
<circle cx="830.7" cy="470.6" r="1.6" fill="#ff9a00" stroke="#b03a00" stroke-width="0.65"/>
<circle cx="830.6" cy="473.9" r="1.6" fill="#ff9a00" stroke="#b03a00" stroke-width="0.65"/>
<circle cx="830.6" cy="477.2" r="1.6" fill="#ff9a00" stroke="#b03a00" stroke-width="0.65"/>
<circle cx="830.6" cy="480.5" r="1.6" fill="#7b7b7b" stroke="#ffffff" stroke-width="0.35"/>
<circle cx="830.5" cy="483.8" r="1.6" fill="#7b7b7b" stroke="#ffffff" stroke-width="0.35"/>
<circle cx="830.5" cy="487.1" r="1.6" fill="#7b7b7b" stroke="#ffffff" stroke-width="0.35"/>
<circle cx="830.2" cy="490.4" r="1.6" fill="#ff9a00" stroke="#b03a00" stroke-width="0.65"/>
<circle cx="830.6" cy="493.7" r="1.6" fill="#ff9a00" stroke="#b03a00" stroke-width="0.65"/>
<circle cx="830.4" cy="497" r="1.6" fill="#7b7b7b" stroke="#ffffff" stroke-width="0.35"/>
<circle cx="830.5" cy="500.3" r="1.6" fill="#7b7b7b" stroke="#ffffff" stroke-width="0.35"/>
<circle cx="830.5" cy="503.6" r="1.6" fill="#7b7b7b" stroke="#ffffff" stroke-width="0.35"/>
<circle cx="833.5" cy="426" r="1.6" fill="#ff9a00" stroke="#b03a00" stroke-width="0.65"/>
<circle cx="833.6" cy="429.3" r="1.6" fill="#7b7b7b" stroke="#ffffff" stroke-width="0.35"/>
<circle cx="833.6" cy="432.6" r="1.6" fill="#7b7b7b" stroke="#ffffff" stroke-width="0.35"/>
<circle cx="833.2" cy="435.9" r="1.6" fill="#7b7b7b" stroke="#ffffff" stroke-width="0.35"/>
<circle cx="833.3" cy="439.2" r="1.6" fill="#7b7b7b" stroke="#ffffff" stroke-width="0.35"/>
<circle cx="833.8" cy="442.5" r="1.6" fill="#7b7b7b" stroke="#ffffff" stroke-width="0.35"/>
<circle cx="833.7" cy="449.1" r="1.6" fill="#7b7b7b" stroke="#ffffff" stroke-width="0.35"/>
<circle cx="833.3" cy="452.4" r="1.6" fill="#ff9a00" stroke="#b03a00" stroke-width="0.65"/>
<circle cx="833.2" cy="455.8" r="1.6" fill="#ff9a00" stroke="#b03a00" stroke-width="0.65"/>
<circle cx="833.2" cy="459" r="1.6" fill="#7b7b7b" stroke="#ffffff" stroke-width="0.35"/>
<circle cx="833.4" cy="462.3" r="1.6" fill="#7b7b7b" stroke="#ffffff" stroke-width="0.35"/>
<circle cx="833.6" cy="465.6" r="1.6" fill="#7b7b7b" stroke="#ffffff" stroke-width="0.35"/>
<circle cx="833.6" cy="468.9" r="1.6" fill="#ff9a00" stroke="#b03a00" stroke-width="0.65"/>
<circle cx="833.2" cy="472.2" r="1.6" fill="#ff9a00" stroke="#b03a00" stroke-width="0.65"/>
<circle cx="833.4" cy="475.5" r="1.6" fill="#ff9a00" stroke="#b03a00" stroke-width="0.65"/>
<circle cx="833.3" cy="478.8" r="1.6" fill="#ff9a00" stroke="#b03a00" stroke-width="0.65"/>
<circle cx="833.4" cy="482.1" r="1.6" fill="#ff9a00" stroke="#b03a00" stroke-width="0.65"/>
<circle cx="833.5" cy="485.4" r="1.6" fill="#ff9a00" stroke="#b03a00" stroke-width="0.65"/>
<circle cx="833.5" cy="488.8" r="1.6" fill="#ff9a00" stroke="#b03a00" stroke-width="0.65"/>
<circle cx="833.7" cy="492" r="1.6" fill="#ff9a00" stroke="#b03a00" stroke-width="0.65"/>
<circle cx="833.5" cy="495.3" r="1.6" fill="#ff9a00" stroke="#b03a00" stroke-width="0.65"/>
<circle cx="833.8" cy="498.6" r="1.6" fill="#7b7b7b" stroke="#ffffff" stroke-width="0.35"/>
<circle cx="833.8" cy="501.9" r="1.6" fill="#ff9a00" stroke="#b03a00" stroke-width="0.65"/>
<circle cx="836.3" cy="427.7" r="1.6" fill="#7b7b7b" stroke="#ffffff" stroke-width="0.35"/>
<circle cx="836.4" cy="431" r="1.6" fill="#7b7b7b" stroke="#ffffff" stroke-width="0.35"/>
<circle cx="836.5" cy="434.3" r="1.6" fill="#7b7b7b" stroke="#ffffff" stroke-width="0.35"/>
<circle cx="836.8" cy="437.6" r="1.6" fill="#7b7b7b" stroke="#ffffff" stroke-width="0.35"/>
<circle cx="836.8" cy="440.9" r="1.6" fill="#7b7b7b" stroke="#ffffff" stroke-width="0.35"/>
<circle cx="836.3" cy="444.2" r="1.6" fill="#7b7b7b" stroke="#ffffff" stroke-width="0.35"/>
<circle cx="836.4" cy="447.5" r="1.6" fill="#7b7b7b" stroke="#ffffff" stroke-width="0.35"/>
<circle cx="836.4" cy="450.8" r="1.6" fill="#7b7b7b" stroke="#ffffff" stroke-width="0.35"/>
<circle cx="836.6" cy="454.1" r="1.6" fill="#7b7b7b" stroke="#ffffff" stroke-width="0.35"/>
<circle cx="836.2" cy="457.4" r="1.6" fill="#7b7b7b" stroke="#ffffff" stroke-width="0.35"/>
<circle cx="836.4" cy="460.7" r="1.6" fill="#7b7b7b" stroke="#ffffff" stroke-width="0.35"/>
<circle cx="836.6" cy="464" r="1.6" fill="#ff9a00" stroke="#b03a00" stroke-width="0.65"/>
<circle cx="836.6" cy="467.3" r="1.6" fill="#7b7b7b" stroke="#ffffff" stroke-width="0.35"/>
<circle cx="836.7" cy="470.6" r="1.6" fill="#7b7b7b" stroke="#ffffff" stroke-width="0.35"/>
<circle cx="836.3" cy="473.9" r="1.6" fill="#ff9a00" stroke="#b03a00" stroke-width="0.65"/>
<circle cx="836.7" cy="477.2" r="1.6" fill="#ff9a00" stroke="#b03a00" stroke-width="0.65"/>
<circle cx="836.6" cy="483.8" r="1.6" fill="#7b7b7b" stroke="#ffffff" stroke-width="0.35"/>
<circle cx="836.8" cy="487.1" r="1.6" fill="#7b7b7b" stroke="#ffffff" stroke-width="0.35"/>
<circle cx="836.2" cy="490.4" r="1.6" fill="#ff9a00" stroke="#b03a00" stroke-width="0.65"/>
<circle cx="836.7" cy="493.7" r="1.6" fill="#7b7b7b" stroke="#ffffff" stroke-width="0.35"/>
<circle cx="836.4" cy="497" r="1.6" fill="#7b7b7b" stroke="#ffffff" stroke-width="0.35"/>
<circle cx="836.2" cy="500.3" r="1.6" fill="#7b7b7b" stroke="#ffffff" stroke-width="0.35"/>
<circle cx="839.6" cy="432.6" r="1.6" fill="#7b7b7b" stroke="#ffffff" stroke-width="0.35"/>
<circle cx="839.3" cy="435.9" r="1.6" fill="#ff9a00" stroke="#b03a00" stroke-width="0.65"/>
<circle cx="839.2" cy="439.2" r="1.6" fill="#7b7b7b" stroke="#ffffff" stroke-width="0.35"/>
<circle cx="839.6" cy="442.5" r="1.6" fill="#7b7b7b" stroke="#ffffff" stroke-width="0.35"/>
<circle cx="839.3" cy="445.8" r="1.6" fill="#7b7b7b" stroke="#ffffff" stroke-width="0.35"/>
<circle cx="839.5" cy="449.1" r="1.6" fill="#7b7b7b" stroke="#ffffff" stroke-width="0.35"/>
<circle cx="839.5" cy="452.4" r="1.6" fill="#7b7b7b" stroke="#ffffff" stroke-width="0.35"/>
<circle cx="839.5" cy="455.8" r="1.6" fill="#ff9a00" stroke="#b03a00" stroke-width="0.65"/>
<circle cx="839.3" cy="459" r="1.6" fill="#7b7b7b" stroke="#ffffff" stroke-width="0.35"/>
<circle cx="839.2" cy="462.3" r="1.6" fill="#ff9a00" stroke="#b03a00" stroke-width="0.65"/>
<circle cx="839.3" cy="465.6" r="1.6" fill="#7b7b7b" stroke="#ffffff" stroke-width="0.35"/>
<circle cx="839.6" cy="468.9" r="1.6" fill="#ff9a00" stroke="#b03a00" stroke-width="0.65"/>
<circle cx="839.6" cy="472.2" r="1.6" fill="#7b7b7b" stroke="#ffffff" stroke-width="0.35"/>
<circle cx="839.6" cy="475.5" r="1.6" fill="#7b7b7b" stroke="#ffffff" stroke-width="0.35"/>
<circle cx="839.3" cy="478.8" r="1.6" fill="#ff9a00" stroke="#b03a00" stroke-width="0.65"/>
<circle cx="839.2" cy="482.1" r="1.6" fill="#7b7b7b" stroke="#ffffff" stroke-width="0.35"/>
<circle cx="839.4" cy="485.4" r="1.6" fill="#7b7b7b" stroke="#ffffff" stroke-width="0.35"/>
<circle cx="839.2" cy="488.8" r="1.6" fill="#7b7b7b" stroke="#ffffff" stroke-width="0.35"/>
<circle cx="839.4" cy="492" r="1.6" fill="#7b7b7b" stroke="#ffffff" stroke-width="0.35"/>
<circle cx="839.6" cy="495.3" r="1.6" fill="#7b7b7b" stroke="#ffffff" stroke-width="0.35"/>
<circle cx="842.6" cy="434.3" r="1.6" fill="#ff9a00" stroke="#b03a00" stroke-width="0.65"/>
<circle cx="842.3" cy="437.6" r="1.6" fill="#7b7b7b" stroke="#ffffff" stroke-width="0.35"/>
<circle cx="842.3" cy="440.9" r="1.6" fill="#7b7b7b" stroke="#ffffff" stroke-width="0.35"/>
<circle cx="842.3" cy="444.2" r="1.6" fill="#7b7b7b" stroke="#ffffff" stroke-width="0.35"/>
<circle cx="842.2" cy="447.5" r="1.6" fill="#7b7b7b" stroke="#ffffff" stroke-width="0.35"/>
<circle cx="842.2" cy="450.8" r="1.6" fill="#7b7b7b" stroke="#ffffff" stroke-width="0.35"/>
<circle cx="842.4" cy="454.1" r="1.6" fill="#7b7b7b" stroke="#ffffff" stroke-width="0.35"/>
<circle cx="842.7" cy="457.4" r="1.6" fill="#7b7b7b" stroke="#ffffff" stroke-width="0.35"/>
<circle cx="842.8" cy="460.7" r="1.6" fill="#ff9a00" stroke="#b03a00" stroke-width="0.65"/>
<circle cx="842.3" cy="464" r="1.6" fill="#7b7b7b" stroke="#ffffff" stroke-width="0.35"/>
<circle cx="842.5" cy="467.3" r="1.6" fill="#7b7b7b" stroke="#ffffff" stroke-width="0.35"/>
<circle cx="842.5" cy="470.6" r="1.6" fill="#7b7b7b" stroke="#ffffff" stroke-width="0.35"/>
<circle cx="842.4" cy="473.9" r="1.6" fill="#7b7b7b" stroke="#ffffff" stroke-width="0.35"/>
<circle cx="842.3" cy="477.2" r="1.6" fill="#7b7b7b" stroke="#ffffff" stroke-width="0.35"/>
<circle cx="842.5" cy="480.5" r="1.6" fill="#7b7b7b" stroke="#ffffff" stroke-width="0.35"/>
<circle cx="842.3" cy="483.8" r="1.6" fill="#7b7b7b" stroke="#ffffff" stroke-width="0.35"/>
<circle cx="842.7" cy="487.1" r="1.6" fill="#7b7b7b" stroke="#ffffff" stroke-width="0.35"/>
<circle cx="842.7" cy="490.4" r="1.6" fill="#ff9a00" stroke="#b03a00" stroke-width="0.65"/>
<circle cx="842.6" cy="493.7" r="1.6" fill="#7b7b7b" stroke="#ffffff" stroke-width="0.35"/>
<circle cx="845.6" cy="439.2" r="1.6" fill="#7b7b7b" stroke="#ffffff" stroke-width="0.35"/>
<circle cx="845.6" cy="442.5" r="1.6" fill="#7b7b7b" stroke="#ffffff" stroke-width="0.35"/>
<circle cx="845.8" cy="445.8" r="1.6" fill="#7b7b7b" stroke="#ffffff" stroke-width="0.35"/>
<circle cx="845.8" cy="449.1" r="1.6" fill="#7b7b7b" stroke="#ffffff" stroke-width="0.35"/>
<circle cx="845.5" cy="452.4" r="1.6" fill="#7b7b7b" stroke="#ffffff" stroke-width="0.35"/>
<circle cx="845.5" cy="455.8" r="1.6" fill="#7b7b7b" stroke="#ffffff" stroke-width="0.35"/>
<circle cx="845.6" cy="459" r="1.6" fill="#7b7b7b" stroke="#ffffff" stroke-width="0.35"/>
<circle cx="845.2" cy="462.3" r="1.6" fill="#7b7b7b" stroke="#ffffff" stroke-width="0.35"/>
<circle cx="845.6" cy="465.6" r="1.6" fill="#7b7b7b" stroke="#ffffff" stroke-width="0.35"/>
<circle cx="845.6" cy="468.9" r="1.6" fill="#7b7b7b" stroke="#ffffff" stroke-width="0.35"/>
<circle cx="845.4" cy="472.2" r="1.6" fill="#ff9a00" stroke="#b03a00" stroke-width="0.65"/>
<circle cx="845.8" cy="475.5" r="1.6" fill="#ff9a00" stroke="#b03a00" stroke-width="0.65"/>
<circle cx="845.7" cy="478.8" r="1.6" fill="#ff9a00" stroke="#b03a00" stroke-width="0.65"/>
<circle cx="845.6" cy="482.1" r="1.6" fill="#7b7b7b" stroke="#ffffff" stroke-width="0.35"/>
<circle cx="845.6" cy="485.4" r="1.6" fill="#ff9a00" stroke="#b03a00" stroke-width="0.65"/>
<circle cx="845.3" cy="488.8" r="1.6" fill="#7b7b7b" stroke="#ffffff" stroke-width="0.35"/>
<circle cx="848.2" cy="440.9" r="1.6" fill="#7b7b7b" stroke="#ffffff" stroke-width="0.35"/>
<circle cx="848.8" cy="444.2" r="1.6" fill="#7b7b7b" stroke="#ffffff" stroke-width="0.35"/>
<circle cx="848.4" cy="447.5" r="1.6" fill="#7b7b7b" stroke="#ffffff" stroke-width="0.35"/>
<circle cx="848.2" cy="450.8" r="1.6" fill="#7b7b7b" stroke="#ffffff" stroke-width="0.35"/>
<circle cx="848.3" cy="454.1" r="1.6" fill="#7b7b7b" stroke="#ffffff" stroke-width="0.35"/>
<circle cx="848.3" cy="457.4" r="1.6" fill="#7b7b7b" stroke="#ffffff" stroke-width="0.35"/>
<circle cx="848.6" cy="460.7" r="1.6" fill="#7b7b7b" stroke="#ffffff" stroke-width="0.35"/>
<circle cx="848.4" cy="464" r="1.6" fill="#7b7b7b" stroke="#ffffff" stroke-width="0.35"/>
<circle cx="848.7" cy="467.3" r="1.6" fill="#7b7b7b" stroke="#ffffff" stroke-width="0.35"/>
<circle cx="848.8" cy="470.6" r="1.6" fill="#7b7b7b" stroke="#ffffff" stroke-width="0.35"/>
<circle cx="848.6" cy="477.2" r="1.6" fill="#7b7b7b" stroke="#ffffff" stroke-width="0.35"/>
<circle cx="848.8" cy="480.5" r="1.6" fill="#7b7b7b" stroke="#ffffff" stroke-width="0.35"/>
<circle cx="848.5" cy="483.8" r="1.6" fill="#7b7b7b" stroke="#ffffff" stroke-width="0.35"/>
<circle cx="848.4" cy="487.1" r="1.6" fill="#7b7b7b" stroke="#ffffff" stroke-width="0.35"/>
<circle cx="851.5" cy="445.8" r="1.6" fill="#7b7b7b" stroke="#ffffff" stroke-width="0.35"/>
<circle cx="851.4" cy="449.1" r="1.6" fill="#7b7b7b" stroke="#ffffff" stroke-width="0.35"/>
<circle cx="851.5" cy="452.4" r="1.6" fill="#7b7b7b" stroke="#ffffff" stroke-width="0.35"/>
<circle cx="851.5" cy="455.8" r="1.6" fill="#7b7b7b" stroke="#ffffff" stroke-width="0.35"/>
<circle cx="851.5" cy="459" r="1.6" fill="#7b7b7b" stroke="#ffffff" stroke-width="0.35"/>
<circle cx="851.6" cy="462.3" r="1.6" fill="#7b7b7b" stroke="#ffffff" stroke-width="0.35"/>
<circle cx="851.7" cy="465.6" r="1.6" fill="#7b7b7b" stroke="#ffffff" stroke-width="0.35"/>
<circle cx="851.8" cy="472.2" r="1.6" fill="#7b7b7b" stroke="#ffffff" stroke-width="0.35"/>
<circle cx="851.7" cy="475.5" r="1.6" fill="#ff9a00" stroke="#b03a00" stroke-width="0.65"/>
<circle cx="851.4" cy="478.8" r="1.6" fill="#7b7b7b" stroke="#ffffff" stroke-width="0.35"/>
<circle cx="851.6" cy="482.1" r="1.6" fill="#7b7b7b" stroke="#ffffff" stroke-width="0.35"/>
<circle cx="854.6" cy="447.5" r="1.6" fill="#7b7b7b" stroke="#ffffff" stroke-width="0.35"/>
<circle cx="854.7" cy="450.8" r="1.6" fill="#7b7b7b" stroke="#ffffff" stroke-width="0.35"/>
<circle cx="854.2" cy="454.1" r="1.6" fill="#7b7b7b" stroke="#ffffff" stroke-width="0.35"/>
<circle cx="854.3" cy="457.4" r="1.6" fill="#7b7b7b" stroke="#ffffff" stroke-width="0.35"/>
<circle cx="854.8" cy="460.7" r="1.6" fill="#7b7b7b" stroke="#ffffff" stroke-width="0.35"/>
<circle cx="854.5" cy="464" r="1.6" fill="#7b7b7b" stroke="#ffffff" stroke-width="0.35"/>
<circle cx="854.3" cy="467.3" r="1.6" fill="#7b7b7b" stroke="#ffffff" stroke-width="0.35"/>
<circle cx="854.6" cy="470.6" r="1.6" fill="#7b7b7b" stroke="#ffffff" stroke-width="0.35"/>
<circle cx="854.3" cy="473.9" r="1.6" fill="#7b7b7b" stroke="#ffffff" stroke-width="0.35"/>
<circle cx="854.6" cy="477.2" r="1.6" fill="#7b7b7b" stroke="#ffffff" stroke-width="0.35"/>
<circle cx="854.6" cy="480.5" r="1.6" fill="#7b7b7b" stroke="#ffffff" stroke-width="0.35"/>
<circle cx="857.7" cy="452.4" r="1.6" fill="#7b7b7b" stroke="#ffffff" stroke-width="0.35"/>
<circle cx="857.2" cy="455.8" r="1.6" fill="#7b7b7b" stroke="#ffffff" stroke-width="0.35"/>
<circle cx="857.4" cy="459" r="1.6" fill="#7b7b7b" stroke="#ffffff" stroke-width="0.35"/>
<circle cx="857.3" cy="462.3" r="1.6" fill="#7b7b7b" stroke="#ffffff" stroke-width="0.35"/>
<circle cx="857.5" cy="465.6" r="1.6" fill="#7b7b7b" stroke="#ffffff" stroke-width="0.35"/>
<circle cx="857.6" cy="468.9" r="1.6" fill="#7b7b7b" stroke="#ffffff" stroke-width="0.35"/>
<circle cx="857.7" cy="472.2" r="1.6" fill="#7b7b7b" stroke="#ffffff" stroke-width="0.35"/>
<circle cx="857.5" cy="475.5" r="1.6" fill="#7b7b7b" stroke="#ffffff" stroke-width="0.35"/>
<circle cx="860.3" cy="454.1" r="1.6" fill="#7b7b7b" stroke="#ffffff" stroke-width="0.35"/>
<circle cx="860.3" cy="457.4" r="1.6" fill="#7b7b7b" stroke="#ffffff" stroke-width="0.35"/>
<circle cx="860.6" cy="460.7" r="1.6" fill="#7b7b7b" stroke="#ffffff" stroke-width="0.35"/>
<circle cx="860.5" cy="464" r="1.6" fill="#7b7b7b" stroke="#ffffff" stroke-width="0.35"/>
<circle cx="860.5" cy="467.3" r="1.6" fill="#7b7b7b" stroke="#ffffff" stroke-width="0.35"/>
<circle cx="860.7" cy="470.6" r="1.6" fill="#7b7b7b" stroke="#ffffff" stroke-width="0.35"/>
<circle cx="860.7" cy="473.9" r="1.6" fill="#7b7b7b" stroke="#ffffff" stroke-width="0.35"/>
<circle cx="863.6" cy="455.8" r="1.6" fill="#7b7b7b" stroke="#ffffff" stroke-width="0.35"/>
<circle cx="863.5" cy="459" r="1.6" fill="#7b7b7b" stroke="#ffffff" stroke-width="0.35"/>
<circle cx="863.7" cy="462.3" r="1.6" fill="#7b7b7b" stroke="#ffffff" stroke-width="0.35"/>
<circle cx="863.3" cy="465.6" r="1.6" fill="#7b7b7b" stroke="#ffffff" stroke-width="0.35"/>
<circle cx="863.4" cy="468.9" r="1.6" fill="#7b7b7b" stroke="#ffffff" stroke-width="0.35"/>
<circle cx="863.7" cy="472.2" r="1.6" fill="#7b7b7b" stroke="#ffffff" stroke-width="0.35"/>
<circle cx="866.3" cy="457.4" r="1.6" fill="#7b7b7b" stroke="#ffffff" stroke-width="0.35"/>
<circle cx="866.5" cy="460.7" r="1.6" fill="#7b7b7b" stroke="#ffffff" stroke-width="0.35"/>
<circle cx="866.6" cy="464" r="1.6" fill="#7b7b7b" stroke="#ffffff" stroke-width="0.35"/>
<circle cx="866.4" cy="467.3" r="1.6" fill="#7b7b7b" stroke="#ffffff" stroke-width="0.35"/>
<circle cx="866.2" cy="470.6" r="1.6" fill="#7b7b7b" stroke="#ffffff" stroke-width="0.35"/>
<circle cx="869.3" cy="459" r="1.6" fill="#7b7b7b" stroke="#ffffff" stroke-width="0.35"/>
<circle cx="869.7" cy="462.3" r="1.6" fill="#7b7b7b" stroke="#ffffff" stroke-width="0.35"/>
<circle cx="872.3" cy="457.4" r="1.6" fill="#7b7b7b" stroke="#ffffff" stroke-width="0.35"/>
<circle cx="872.6" cy="460.7" r="1.6" fill="#7b7b7b" stroke="#ffffff" stroke-width="0.35"/>
<circle cx="872.7" cy="467.3" r="1.6" fill="#7b7b7b" stroke="#ffffff" stroke-width="0.35"/>
<circle cx="872.4" cy="470.6" r="1.6" fill="#7b7b7b" stroke="#ffffff" stroke-width="0.35"/>
<circle cx="875.7" cy="459" r="1.6" fill="#7b7b7b" stroke="#ffffff" stroke-width="0.35"/>
<circle cx="875.3" cy="462.3" r="1.6" fill="#7b7b7b" stroke="#ffffff" stroke-width="0.35"/>
<circle cx="875.7" cy="465.6" r="1.6" fill="#7b7b7b" stroke="#ffffff" stroke-width="0.35"/>
<circle cx="875.5" cy="468.9" r="1.6" fill="#7b7b7b" stroke="#ffffff" stroke-width="0.35"/>
<circle cx="878.3" cy="457.4" r="1.6" fill="#7b7b7b" stroke="#ffffff" stroke-width="0.35"/>
<circle cx="878.5" cy="460.7" r="1.6" fill="#7b7b7b" stroke="#ffffff" stroke-width="0.35"/>
<circle cx="878.4" cy="464" r="1.6" fill="#7b7b7b" stroke="#ffffff" stroke-width="0.35"/>
<circle cx="878.5" cy="467.3" r="1.6" fill="#7b7b7b" stroke="#ffffff" stroke-width="0.35"/>
<circle cx="878.6" cy="470.6" r="1.6" fill="#7b7b7b" stroke="#ffffff" stroke-width="0.35"/>
<circle cx="881.4" cy="459" r="1.6" fill="#7b7b7b" stroke="#ffffff" stroke-width="0.35"/>
<circle cx="881.3" cy="462.3" r="1.6" fill="#7b7b7b" stroke="#ffffff" stroke-width="0.35"/>
<circle cx="881.7" cy="465.6" r="1.6" fill="#7b7b7b" stroke="#ffffff" stroke-width="0.35"/>
<circle cx="881.5" cy="468.9" r="1.6" fill="#7b7b7b" stroke="#ffffff" stroke-width="0.35"/>
<circle cx="884.3" cy="460.7" r="1.6" fill="#7b7b7b" stroke="#ffffff" stroke-width="0.35"/>
<circle cx="884.7" cy="464" r="1.6" fill="#7b7b7b" stroke="#ffffff" stroke-width="0.35"/>
<circle cx="884.6" cy="467.3" r="1.6" fill="#7b7b7b" stroke="#ffffff" stroke-width="0.35"/>
<circle cx="887.5" cy="459" r="1.6" fill="#7b7b7b" stroke="#ffffff" stroke-width="0.35"/>
<circle cx="887.8" cy="462.3" r="1.6" fill="#7b7b7b" stroke="#ffffff" stroke-width="0.35"/>
<circle cx="887.6" cy="465.6" r="1.6" fill="#7b7b7b" stroke="#ffffff" stroke-width="0.35"/>
<circle cx="887.8" cy="468.9" r="1.6" fill="#7b7b7b" stroke="#ffffff" stroke-width="0.35"/>
<circle cx="890.5" cy="460.7" r="1.6" fill="#7b7b7b" stroke="#ffffff" stroke-width="0.35"/>
<circle cx="890.8" cy="464" r="1.6" fill="#7b7b7b" stroke="#ffffff" stroke-width="0.35"/>
<circle cx="890.7" cy="467.3" r="1.6" fill="#7b7b7b" stroke="#ffffff" stroke-width="0.35"/>
<circle cx="893.5" cy="462.3" r="1.6" fill="#7b7b7b" stroke="#ffffff" stroke-width="0.35"/>
<circle cx="893.5" cy="465.6" r="1.6" fill="#7b7b7b" stroke="#ffffff" stroke-width="0.35"/>
<circle cx="896.4" cy="460.7" r="1.6" fill="#7b7b7b" stroke="#ffffff" stroke-width="0.35"/>
<circle cx="896.4" cy="464" r="1.6" fill="#7b7b7b" stroke="#ffffff" stroke-width="0.35"/>
<circle cx="896.5" cy="467.3" r="1.6" fill="#7b7b7b" stroke="#ffffff" stroke-width="0.35"/>
<circle cx="899.8" cy="462.3" r="1.6" fill="#7b7b7b" stroke="#ffffff" stroke-width="0.35"/>
<circle cx="899.2" cy="465.6" r="1.6" fill="#7b7b7b" stroke="#ffffff" stroke-width="0.35"/>
<circle cx="904" cy="463" r="2" fill="#858585" stroke="#fff" stroke-width="0.3"/>
<circle cx="907" cy="466" r="2" fill="#858585" stroke="#fff" stroke-width="0.3"/>
<circle cx="920.5" cy="461.5" r="2.4" fill="#858585" stroke="#fff" stroke-width="0.3"/>
<circle cx="921.8" cy="467.3" r="2.4" fill="#858585" stroke="#fff" stroke-width="0.3"/>
<circle cx="931.8" cy="464.7" r="2.4" fill="#858585" stroke="#fff" stroke-width="0.3"/>
<circle cx="935.6" cy="461.5" r="2.4" fill="#858585" stroke="#fff" stroke-width="0.3"/>
<circle cx="936.8" cy="467.3" r="2.4" fill="#858585" stroke="#fff" stroke-width="0.3"/>
<circle cx="960.7" cy="464.7" r="2.6" fill="#858585" stroke="#fff" stroke-width="0.3"/>
<circle cx="970.7" cy="464.7" r="2.6" fill="#858585" stroke="#fff" stroke-width="0.3"/>
<circle cx="982.7" cy="464.7" r="2.6" fill="#858585" stroke="#fff" stroke-width="0.3"/>
<circle cx="1003.3" cy="466.5" r="2.8" fill="#858585" stroke="#fff" stroke-width="0.3"/>
<circle cx="1009.1" cy="462.7" r="2.8" fill="#858585" stroke="#fff" stroke-width="0.3"/>
<circle cx="1034.2" cy="464.7" r="2.9" fill="#858585" stroke="#fff" stroke-width="0.3"/>
<line x1="795.2" y1="510.5" x2="1040" y2="510.5" stroke="#e6e6e6" stroke-width="1" />
<rect x="795.2" y="513" width="244.8" height="16.6" fill="#e2e2e2" stroke="#cfcfcf" stroke-width="0.8" />
<g filter="url(#bl)">
<rect x="797.5" y="518.6" width="35" height="5.6" rx="2.8" fill="url(#fade)"/>
<circle cx="822.5" cy="521.4" r="2.7" fill="#000" fill-opacity="0.53"/>
<circle cx="825.4" cy="521.4" r="2.7" fill="#000" fill-opacity="0.47"/>
<circle cx="829.8" cy="521.4" r="2.7" fill="#000" fill-opacity="0.52"/>
<circle cx="833" cy="521.4" r="2.7" fill="#000" fill-opacity="0.63"/>
<circle cx="837.2" cy="521.4" r="2.7" fill="#000" fill-opacity="0.46"/>
<circle cx="840.1" cy="521.4" r="2.7" fill="#000" fill-opacity="0.51"/>
<circle cx="843" cy="521.4" r="2.7" fill="#000" fill-opacity="0.28"/>
<circle cx="846.5" cy="521.4" r="2.7" fill="#000" fill-opacity="0.11"/>
<circle cx="849.6" cy="521.4" r="2.7" fill="#000" fill-opacity="0.31"/>
<circle cx="852.9" cy="521.4" r="2.7" fill="#000" fill-opacity="0.09"/>
<circle cx="857" cy="521.4" r="2.7" fill="#000" fill-opacity="0.09"/>
<circle cx="860.1" cy="521.4" r="2.7" fill="#000" fill-opacity="0.26"/>
<circle cx="864.3" cy="521.4" r="2.7" fill="#000" fill-opacity="0.25"/>
<circle cx="867.7" cy="521.4" r="2.7" fill="#000" fill-opacity="0.21"/>
<circle cx="870.7" cy="521.4" r="2.7" fill="#000" fill-opacity="0.21"/>
<circle cx="874.7" cy="521.4" r="2.7" fill="#000" fill-opacity="0.08"/>
<circle cx="878" cy="521.4" r="2.7" fill="#000" fill-opacity="0.15"/>
<circle cx="881.6" cy="521.4" r="2.7" fill="#000" fill-opacity="0.15"/>
<circle cx="885.7" cy="521.4" r="2.7" fill="#000" fill-opacity="0.08"/>
<circle cx="889.6" cy="521.4" r="2.7" fill="#000" fill-opacity="0.08"/>
<circle cx="893.9" cy="521.4" r="2.7" fill="#000" fill-opacity="0.11"/>
<circle cx="897" cy="521.4" r="2.7" fill="#000" fill-opacity="0.11"/>
<circle cx="900" cy="521.4" r="2.7" fill="#000" fill-opacity="0.08"/>
<circle cx="903.7" cy="521.4" r="2.7" fill="#000" fill-opacity="0.08"/>
<circle cx="907.3" cy="521.4" r="2.7" fill="#000" fill-opacity="0.08"/>
<circle cx="910.9" cy="521.4" r="2.7" fill="#000" fill-opacity="0.08"/>
<circle cx="914.6" cy="521.4" r="2.7" fill="#000" fill-opacity="0.08"/>
<circle cx="917.5" cy="521.4" r="2.7" fill="#000" fill-opacity="0.08"/>
<circle cx="921.8" cy="521.4" r="2.7" fill="#000" fill-opacity="0.08"/>
<circle cx="926.2" cy="521.4" r="2.7" fill="#000" fill-opacity="0.08"/>
<circle cx="926.6" cy="521.4" r="2.5" fill="#000" fill-opacity="0.14"/>
<circle cx="929.4" cy="521.4" r="2.5" fill="#000" fill-opacity="0.13"/>
<circle cx="990" cy="521.4" r="2.5" fill="#000" fill-opacity="0.14"/>
<circle cx="974.7" cy="521.4" r="2.5" fill="#000" fill-opacity="0.17"/>
<circle cx="958.3" cy="521.4" r="2.5" fill="#000" fill-opacity="0.14"/>
<circle cx="1017.8" cy="521.4" r="2.5" fill="#000" fill-opacity="0.17"/>
<circle cx="968.8" cy="521.4" r="2.5" fill="#000" fill-opacity="0.16"/>
<circle cx="1035" cy="521.4" r="2.5" fill="#000" fill-opacity="0.12"/>
</g>
<path d="M880,37.1 L894,49.3 L903.5,61.5 L904.4,73.7 L919.8,86 L936.7,98.2 L928.8,110.4 L925.4,122.6 L885.3,134.8 L861.7,147 L800.4,159.2 L877.7,171.5 L871.5,183.7 L880,195.9 L949.3,208.1 L999.9,220.3 L835,232.5 L898.2,244.7 L880,257 L847.4,269.2 L872.6,281.4 L1034.4,334.2 L883.9,387.3 L873.5,399.4 L861.7,411.4 L875.8,462.7 L1034.7,521.7" fill="none" stroke="#333" stroke-width="0.8" />
<circle cx="880" cy="37.1" r="2.2" fill="#3a3a3a"/>
<circle cx="894" cy="49.3" r="2.2" fill="#3a3a3a"/>
<circle cx="903.5" cy="61.5" r="2.2" fill="#3a3a3a"/>
<circle cx="904.4" cy="73.7" r="2.2" fill="#3a3a3a"/>
<circle cx="919.8" cy="86" r="2.2" fill="#3a3a3a"/>
<circle cx="936.7" cy="98.2" r="2.2" fill="#3a3a3a"/>
<circle cx="928.8" cy="110.4" r="2.2" fill="#3a3a3a"/>
<circle cx="925.4" cy="122.6" r="2.2" fill="#3a3a3a"/>
<circle cx="885.3" cy="134.8" r="2.2" fill="#3a3a3a"/>
<circle cx="861.7" cy="147" r="2.2" fill="#3a3a3a"/>
<circle cx="800.4" cy="159.2" r="2.2" fill="#3a3a3a"/>
<circle cx="877.7" cy="171.5" r="2.2" fill="#3a3a3a"/>
<circle cx="871.5" cy="183.7" r="2.2" fill="#3a3a3a"/>
<circle cx="880" cy="195.9" r="2.2" fill="#3a3a3a"/>
<circle cx="949.3" cy="208.1" r="2.2" fill="#3a3a3a"/>
<circle cx="999.9" cy="220.3" r="2.2" fill="#3a3a3a"/>
<circle cx="835" cy="232.5" r="2.2" fill="#3a3a3a"/>
<circle cx="898.2" cy="244.7" r="2.2" fill="#3a3a3a"/>
<circle cx="880" cy="257" r="2.2" fill="#3a3a3a"/>
<circle cx="847.4" cy="269.2" r="2.2" fill="#3a3a3a"/>
<circle cx="872.6" cy="281.4" r="2.2" fill="#3a3a3a"/>
<circle cx="1034.4" cy="334.2" r="2.2" fill="#3a3a3a"/>
<circle cx="883.9" cy="387.3" r="2.2" fill="#3a3a3a"/>
<circle cx="873.5" cy="399.4" r="2.2" fill="#3a3a3a"/>
<circle cx="861.7" cy="411.4" r="2.2" fill="#3a3a3a"/>
<circle cx="875.8" cy="462.7" r="2.2" fill="#3a3a3a"/>
<circle cx="1034.7" cy="521.7" r="2.2" fill="#3a3a3a"/>
<rect x="884.2" y="33.1" width="10.2" height="7.8" fill="#fff" stroke="#666" stroke-width="0.7" />
<text x="889.3" y="39.7" font-size="7" fill="#222" text-anchor="middle" textLength="7.1" lengthAdjust="spacingAndGlyphs" >28</text>
<rect x="898.2" y="45.3" width="10.2" height="7.8" fill="#fff" stroke="#666" stroke-width="0.7" />
<text x="903.3" y="51.9" font-size="7" fill="#222" text-anchor="middle" textLength="7.1" lengthAdjust="spacingAndGlyphs" >18</text>
<rect x="907.7" y="57.5" width="6.8" height="7.8" fill="#fff" stroke="#666" stroke-width="0.7" />
<text x="911.1" y="64.1" font-size="7" fill="#222" text-anchor="middle" >5</text>
<rect x="908.6" y="69.7" width="6.8" height="7.8" fill="#fff" stroke="#666" stroke-width="0.7" />
<text x="912" y="76.3" font-size="7" fill="#222" text-anchor="middle" >7</text>
<rect x="924" y="82" width="10.2" height="7.8" fill="#fff" stroke="#666" stroke-width="0.7" />
<text x="929.1" y="88.6" font-size="7" fill="#222" text-anchor="middle" textLength="7.1" lengthAdjust="spacingAndGlyphs" >10</text>
<rect x="940.9" y="94.2" width="6.8" height="7.8" fill="#fff" stroke="#666" stroke-width="0.7" />
<text x="944.3" y="100.8" font-size="7" fill="#222" text-anchor="middle" >4</text>
<rect x="933" y="106.4" width="6.8" height="7.8" fill="#fff" stroke="#666" stroke-width="0.7" />
<text x="936.4" y="113" font-size="7" fill="#222" text-anchor="middle" >4</text>
<rect x="929.6" y="118.6" width="10.2" height="7.8" fill="#fff" stroke="#666" stroke-width="0.7" />
<text x="934.7" y="125.2" font-size="7" fill="#222" text-anchor="middle" textLength="7.1" lengthAdjust="spacingAndGlyphs" >12</text>
<rect x="889.5" y="130.8" width="10.2" height="7.8" fill="#fff" stroke="#666" stroke-width="0.7" />
<text x="894.6" y="137.4" font-size="7" fill="#222" text-anchor="middle" textLength="7.1" lengthAdjust="spacingAndGlyphs" >21</text>
<rect x="865.9" y="143" width="10.2" height="7.8" fill="#fff" stroke="#666" stroke-width="0.7" />
<text x="871" y="149.6" font-size="7" fill="#222" text-anchor="middle" textLength="7.1" lengthAdjust="spacingAndGlyphs" >17</text>
<rect x="804.6" y="155.2" width="13.6" height="7.8" fill="#fff" stroke="#666" stroke-width="0.7" />
<text x="811.4" y="161.8" font-size="7" fill="#222" text-anchor="middle" textLength="10.5" lengthAdjust="spacingAndGlyphs" >223</text>
<rect x="881.9" y="167.5" width="10.2" height="7.8" fill="#fff" stroke="#666" stroke-width="0.7" />
<text x="887" y="174.1" font-size="7" fill="#222" text-anchor="middle" textLength="7.1" lengthAdjust="spacingAndGlyphs" >26</text>
<rect x="875.7" y="179.7" width="10.2" height="7.8" fill="#fff" stroke="#666" stroke-width="0.7" />
<text x="880.8" y="186.3" font-size="7" fill="#222" text-anchor="middle" textLength="7.1" lengthAdjust="spacingAndGlyphs" >22</text>
<rect x="884.2" y="191.9" width="10.2" height="7.8" fill="#fff" stroke="#666" stroke-width="0.7" />
<text x="889.3" y="198.5" font-size="7" fill="#222" text-anchor="middle" textLength="7.1" lengthAdjust="spacingAndGlyphs" >25</text>
<rect x="953.5" y="204.1" width="6.8" height="7.8" fill="#fff" stroke="#666" stroke-width="0.7" />
<text x="956.9" y="210.7" font-size="7" fill="#222" text-anchor="middle" >2</text>
<rect x="1004.1" y="216.3" width="6.8" height="7.8" fill="#fff" stroke="#666" stroke-width="0.7" />
<text x="1007.5" y="222.9" font-size="7" fill="#222" text-anchor="middle" >3</text>
<rect x="839.2" y="228.5" width="10.2" height="7.8" fill="#fff" stroke="#666" stroke-width="0.7" />
<text x="844.3" y="235.1" font-size="7" fill="#222" text-anchor="middle" textLength="7.1" lengthAdjust="spacingAndGlyphs" >73</text>
<rect x="902.4" y="240.7" width="10.2" height="7.8" fill="#fff" stroke="#666" stroke-width="0.7" />
<text x="907.5" y="247.3" font-size="7" fill="#222" text-anchor="middle" textLength="7.1" lengthAdjust="spacingAndGlyphs" >14</text>
<rect x="884.2" y="253" width="10.2" height="7.8" fill="#fff" stroke="#666" stroke-width="0.7" />
<text x="889.3" y="259.6" font-size="7" fill="#222" text-anchor="middle" textLength="7.1" lengthAdjust="spacingAndGlyphs" >17</text>
<rect x="851.6" y="265.2" width="10.2" height="7.8" fill="#fff" stroke="#666" stroke-width="0.7" />
<text x="856.7" y="271.8" font-size="7" fill="#222" text-anchor="middle" textLength="7.1" lengthAdjust="spacingAndGlyphs" >28</text>
<rect x="876.8" y="277.4" width="10.2" height="7.8" fill="#fff" stroke="#666" stroke-width="0.7" />
<text x="881.9" y="284" font-size="7" fill="#222" text-anchor="middle" textLength="7.1" lengthAdjust="spacingAndGlyphs" >12</text>
<rect x="888.1" y="383.3" width="10.2" height="7.8" fill="#fff" stroke="#666" stroke-width="0.7" />
<text x="893.2" y="389.9" font-size="7" fill="#222" text-anchor="middle" textLength="7.1" lengthAdjust="spacingAndGlyphs" >14</text>
<rect x="877.7" y="395.4" width="6.8" height="7.8" fill="#fff" stroke="#666" stroke-width="0.7" />
<text x="881.1" y="402" font-size="7" fill="#222" text-anchor="middle" >6</text>
<rect x="865.9" y="407.4" width="10.2" height="7.8" fill="#fff" stroke="#666" stroke-width="0.7" />
<text x="871" y="414" font-size="7" fill="#222" text-anchor="middle" textLength="7.1" lengthAdjust="spacingAndGlyphs" >14</text>
<rect x="880" y="458.7" width="10.2" height="7.8" fill="#fff" stroke="#666" stroke-width="0.7" />
<text x="885.1" y="465.3" font-size="7" fill="#222" text-anchor="middle" textLength="7.1" lengthAdjust="spacingAndGlyphs" >26</text>
<rect x="1038.5" y="330" width="2" height="8.5" fill="#fff" stroke="#555" stroke-width="0.6" />
<rect x="1038.5" y="517.4" width="2" height="8.5" fill="#fff" stroke="#555" stroke-width="0.6" />
<rect x="927.9" y="42.6" width="110.8" height="21.5" fill="#fff" stroke="#111" stroke-width="1.2" />
<rect x="927.4" y="42.1" width="21.4" height="22.5" fill="#222" />
<text x="938" y="60.4" font-size="17" fill="#fff" font-weight="bold" text-anchor="middle" >D</text>
<text x="956.9" y="57.6" font-size="11.5" fill="#000" font-weight="bold" textLength="73.9" lengthAdjust="spacingAndGlyphs" >Ranking rows</text>
<text x="946" y="177.7" font-size="12" fill="#0c1a3a" font-weight="bold" textLength="68" lengthAdjust="spacingAndGlyphs" >attribute row</text>
<line x1="1021" y1="146" x2="1021" y2="199" stroke="#111" stroke-width="1.6" />
<polygon points="1021,141.4 1017,148.5 1021,146.5 1025,148.5" fill="#111"/>
<polygon points="1021,204 1017,196.9 1021,198.9 1025,196.9" fill="#111"/>
<text x="966.2" y="371.6" font-size="12" fill="#0c1a3a" font-weight="bold" textLength="68.2" lengthAdjust="spacingAndGlyphs" >Graphics row</text>
<text x="992.3" y="305.8" font-size="8.5" fill="#0c1a3a" font-weight="bold" textLength="38.5" lengthAdjust="spacingAndGlyphs" >Stanford</text>
<line x1="1018.1" y1="311.5" x2="1028.2" y2="322.6" stroke="#333" stroke-width="1.5" />
<polygon points="1031.6,326.3 1026,324.6 1030.4,320.6" fill="#333"/>
<text x="944.3" y="436.8" font-size="12" fill="#0c1a3a" font-weight="bold" textLength="88" lengthAdjust="spacingAndGlyphs" >Visualization row</text>
<text x="1012.1" y="498.6" font-size="8.5" fill="#0c1a3a" font-weight="bold" textLength="21.3" lengthAdjust="spacingAndGlyphs" >Utah</text>
<line x1="1023.4" y1="489" x2="1032" y2="475.7" stroke="#333" stroke-width="1.5" />
<polygon points="1034.7,471.5 1034.5,477.3 1029.5,474.1" fill="#333"/>
<text x="919.3" y="525.9" font-size="12" fill="#111" font-weight="bold" textLength="113" lengthAdjust="spacingAndGlyphs" >weighted ranking row</text>
</svg>
</body></html>
